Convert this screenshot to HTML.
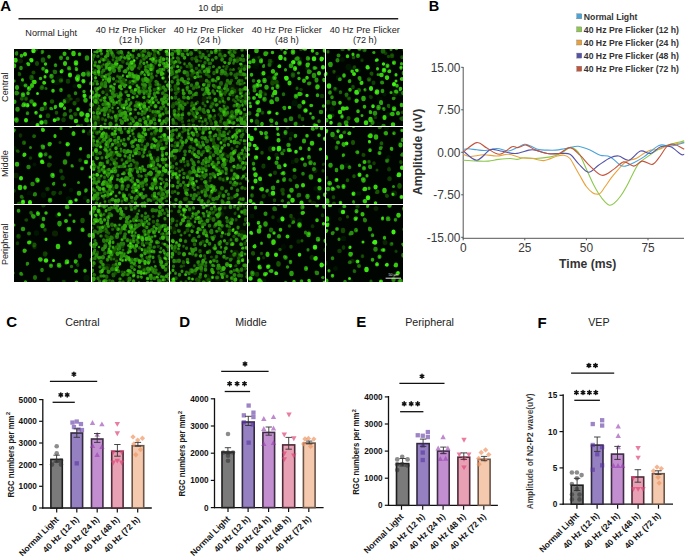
<!DOCTYPE html>
<html><head><meta charset="utf-8"><style>
html,body{margin:0;padding:0;background:#fff;width:685px;height:557px;overflow:hidden}
svg{display:block}
</style></head><body><svg width="685" height="557" viewBox="0 0 685 557"><defs><filter id="blur" x="-5%" y="-5%" width="110%" height="110%"><feGaussianBlur stdDeviation="0.65"/></filter><clipPath id="clip1"><rect x="14" y="49" width="77" height="77"/></clipPath><clipPath id="clip2"><rect x="92" y="49" width="77" height="77"/></clipPath><clipPath id="clip3"><rect x="170" y="49" width="77" height="77"/></clipPath><clipPath id="clip4"><rect x="248" y="49" width="77" height="77"/></clipPath><clipPath id="clip5"><rect x="326" y="49" width="77" height="77"/></clipPath><clipPath id="clip6"><rect x="14" y="127" width="77" height="77"/></clipPath><clipPath id="clip7"><rect x="92" y="127" width="77" height="77"/></clipPath><clipPath id="clip8"><rect x="170" y="127" width="77" height="77"/></clipPath><clipPath id="clip9"><rect x="248" y="127" width="77" height="77"/></clipPath><clipPath id="clip10"><rect x="326" y="127" width="77" height="77"/></clipPath><clipPath id="clip11"><rect x="14" y="205" width="77" height="77"/></clipPath><clipPath id="clip12"><rect x="92" y="205" width="77" height="77"/></clipPath><clipPath id="clip13"><rect x="170" y="205" width="77" height="77"/></clipPath><clipPath id="clip14"><rect x="248" y="205" width="77" height="77"/></clipPath><clipPath id="clip15"><rect x="326" y="205" width="77" height="77"/></clipPath></defs><rect x="13" y="48" width="391" height="235" fill="#fff"/><rect x="14" y="49" width="77" height="77" fill="#010501"/><g clip-path="url(#clip1)" filter="url(#blur)"><g transform="scale(.5)" fill="none" stroke-linecap="round"><path stroke="#030c00" stroke-width="9" d="M179 193h0"/><path stroke="#030c00" stroke-width="10" d="M51 131h0M139 148h0"/><path stroke="#030c00" stroke-width="11" d="M65 247h0M116 155h0"/><path stroke="#061801" stroke-width="8" d="M149 172h0"/><path stroke="#061801" stroke-width="9" d="M156 199h0M91 135h0M118 158h0"/><path stroke="#061801" stroke-width="10" d="M121 156h0"/><path stroke="#061801" stroke-width="11" d="M116 164h0M113 165h0M45 168h0"/><path stroke="#092402" stroke-width="9" d="M175 144h0M155 200h0"/><path stroke="#092402" stroke-width="10" d="M41 122h0"/><path stroke="#092402" stroke-width="12" d="M134 201h0"/><path stroke="#0c3003" stroke-width="5" d="M143 198h0"/><path stroke="#0c3003" stroke-width="6" d="M176 254h0"/><path stroke="#0c3003" stroke-width="9" d="M178 252h0"/><path stroke="#0f3c04" stroke-width="5" d="M163 254h0"/><path stroke="#0f3c04" stroke-width="6" d="M91 213h0M70 98h0"/><path stroke="#0f3c04" stroke-width="7" d="M141 198h0"/><path stroke="#0f3c04" stroke-width="9" d="M136 162v1M127 239v1M90 215v1M72 97v1"/><path stroke="#124805" stroke-width="5" d="M42 198h0M38 146h0M149 227h0"/><path stroke="#124805" stroke-width="7" d="M163 251v2"/><path stroke="#124805" stroke-width="8" d="M138 192h0M74 126v2M151 228v1M67 145h0M52 197v1"/><path stroke="#124805" stroke-width="9" d="M96 231v1"/><path stroke="#155406" stroke-width="5" d="M150 208h0"/><path stroke="#155406" stroke-width="6" d="M64 157h0M108 142h0"/><path stroke="#155406" stroke-width="7" d="M44 196v2M39 148v1M113 225v1"/><path stroke="#155406" stroke-width="8" d="M149 206v1"/><path stroke="#155406" stroke-width="9" d="M63 154v2M122 161h0M104 203h0"/><path stroke="#186007" stroke-width="4" d="M91 176h0"/><path stroke="#186007" stroke-width="5" d="M140 223h0"/><path stroke="#186007" stroke-width="6" d="M92 177h0M82 176h0"/><path stroke="#186007" stroke-width="7" d="M141 221h0"/><path stroke="#186007" stroke-width="8" d="M84 174v2"/><path stroke="#186007" stroke-width="9" d="M86 119v2"/><path stroke="#1c6c08" stroke-width="5" d="M34 105h0M26 162h0"/><path stroke="#1c6c08" stroke-width="6" d="M128 230h0M92 246h0M144 236h0"/><path stroke="#1c6c08" stroke-width="8" d="M130 228v1M91 243v1"/><path stroke="#1c6c08" stroke-width="9" d="M110 144h0"/><path stroke="#1f7809" stroke-width="5" d="M84 106h0M180 222h0M181 168h0"/><path stroke="#1f7809" stroke-width="6" d="M183 207h0M82 219h0"/><path stroke="#22840a" stroke-width="5" d="M152 136h0M122 118h0M180 195h0"/><path stroke="#22840a" stroke-width="6" d="M36 186h0M158 255h0"/><path stroke="#22840a" stroke-width="7" d="M85 103v1M55 226v1M33 106v2M151 186v1M182 166v1M28 162h0"/><path stroke="#22840a" stroke-width="8" d="M181 220v1M33 185v2M142 233v2M122 115v1"/><path stroke="#22840a" stroke-width="9" d="M183 209v1M177 147v2M84 218h0M63 203h0M156 253v1"/><path stroke="#25900b" stroke-width="5" d="M140 138h0M128 201h0M52 170h0"/><path stroke="#25900b" stroke-width="7" d="M122 179v2M111 130v1M42 135v2M129 202v2M182 193v1"/><path stroke="#25900b" stroke-width="8" d="M138 136v1M116 238h0"/><path stroke="#25900b" stroke-width="9" d="M174 115v2M103 152v1M35 218v1"/><path stroke="#289c0c" stroke-width="5" d="M104 218h0"/><path stroke="#289c0c" stroke-width="6" d="M175 242h0"/><path stroke="#289c0c" stroke-width="7" d="M86 137v1M165 149h0M98 113v1M102 217h0M135 116v1"/><path stroke="#289c0c" stroke-width="8" d="M29 203v1M51 171h0"/><path stroke="#289c0c" stroke-width="9" d="M33 239v2M156 153h0"/><path stroke="#2ba80d" stroke-width="4" d="M46 161h0M129 215h0"/><path stroke="#2ba80d" stroke-width="6" d="M31 239h0M45 159v1M66 163h0"/><path stroke="#2ba80d" stroke-width="7" d="M168 183h0M46 211h0M153 138v1"/><path stroke="#2ba80d" stroke-width="8" d="M34 174v2"/><path stroke="#2ba80d" stroke-width="9" d="M171 200v1M46 189v1"/><path stroke="#2eb40e" stroke-width="6" d="M166 228h0M124 141h0M60 177h0"/><path stroke="#2eb40e" stroke-width="7" d="M111 213v1M159 108v1M81 157h0M43 111v1"/><path stroke="#2eb40e" stroke-width="8" d="M129 107v1M58 176v2"/><path stroke="#2eb40e" stroke-width="9" d="M48 209v1M167 148v1M28 131v1"/><path stroke="#31c00f" stroke-width="5" d="M110 216h0"/><path stroke="#31c00f" stroke-width="6" d="M129 216v1"/><path stroke="#31c00f" stroke-width="7" d="M57 128v1M56 186v1M72 225v1M153 156h0M183 182h0"/><path stroke="#31c00f" stroke-width="8" d="M64 170v2M159 172v1"/><path stroke="#31c00f" stroke-width="9" d="M173 239v1"/><path stroke="#35cc10" stroke-width="5" d="M55 127h0"/><path stroke="#35cc10" stroke-width="6" d="M166 161h0M157 171h0"/><path stroke="#35cc10" stroke-width="7" d="M156 218v1M106 162v1M106 181v1M91 128h0"/><path stroke="#35cc10" stroke-width="8" d="M123 143h0M167 162v1M130 126v2M55 210v1"/><path stroke="#35cc10" stroke-width="9" d="M155 157v2M152 125v2M163 227v2M31 120v1M147 106v2"/><path stroke="#38d811" stroke-width="5" d="M111 240h0M90 166h0M61 119h0"/><path stroke="#38d811" stroke-width="6" d="M75 187h0M125 209h0M90 153v1M139 96v1"/><path stroke="#38d811" stroke-width="7" d="M90 207v1M88 165v1M81 232v1"/><path stroke="#38d811" stroke-width="8" d="M50 108v1M75 250v1M169 191v1M93 142v1M140 149v2"/><path stroke="#38d811" stroke-width="9" d="M152 242h0M184 240v1M69 164h0M69 209h0"/><path stroke="#3be412" stroke-width="7" d="M109 240v1"/><path stroke="#3be412" stroke-width="8" d="M52 240v1M63 120v1"/><path stroke="#3be412" stroke-width="9" d="M175 230v1M122 209v2M83 245h0M67 101v1"/><path stroke="#0f3c04" stroke-width="4" d="M178 251h0"/><path stroke="#124805" stroke-width="3" d="M141 197h0"/><path stroke="#155406" stroke-width="4" d="M72 98h0"/><path stroke="#186007" stroke-width="3" d="M138 192h0M151 229h0"/><path stroke="#186007" stroke-width="4" d="M52 198h0"/><path stroke="#1c6c08" stroke-width="3" d="M40 148h0"/><path stroke="#1c6c08" stroke-width="4" d="M64 154h0"/><path stroke="#1f7809" stroke-width="3" d="M93 177h0"/><path stroke="#1f7809" stroke-width="4" d="M123 161h0M84 175h0"/><path stroke="#2ba80d" stroke-width="3" d="M54 227h0M182 166h0M122 115h0"/><path stroke="#2ba80d" stroke-width="4" d="M182 209h0M177 148h0"/><path stroke="#2eb40e" stroke-width="3" d="M85 104h0M111 129h0M129 203h0M27 162h0"/><path stroke="#2eb40e" stroke-width="4" d="M102 151h0M117 238h0"/><path stroke="#31c00f" stroke-width="3" d="M123 179h0"/><path stroke="#31c00f" stroke-width="4" d="M138 137h0"/><path stroke="#35cc10" stroke-width="3" d="M50 171h0"/><path stroke="#35cc10" stroke-width="4" d="M33 239h0"/><path stroke="#38d811" stroke-width="3" d="M153 139h0"/><path stroke="#38d811" stroke-width="4" d="M46 189h0"/><path stroke="#3be412" stroke-width="3" d="M44 160h0M110 214h0M159 108h0"/><path stroke="#3ef013" stroke-width="4" d="M49 210h0M57 176h0"/><path stroke="#41fc14" stroke-width="3" d="M108 239h0M71 225h0M75 187h0M81 233h0M169 192h0M64 121h0"/><path stroke="#41fc14" stroke-width="4" d="M155 158h0M152 127h0M75 251h0M122 144h0M167 162h0M94 142h0M56 211h0M184 240h0M66 103h0M68 210h0M139 149h0"/></g></g><rect x="92" y="49" width="77" height="77" fill="#020a02"/><g clip-path="url(#clip2)" filter="url(#blur)"><g transform="scale(.5)" fill="none" stroke-linecap="round"><path stroke="#071801" stroke-width="10" d="M225 196h0"/><path stroke="#071801" stroke-width="11" d="M310 225h0M213 136h0M220 180h0"/><path stroke="#071801" stroke-width="12" d="M293 200h0M225 98h0M297 173h0M272 163h0"/><path stroke="#071801" stroke-width="13" d="M264 223h0M300 136h0M331 159h0M277 184h0M286 160h0M232 126h0"/><path stroke="#071801" stroke-width="14" d="M329 184h0"/><path stroke="#0a2402" stroke-width="11" d="M215 181h0M195 244h0M190 215h0M265 153h0M263 166h0"/><path stroke="#0a2402" stroke-width="12" d="M327 146h0M246 212h0M301 144h0M253 166h0"/><path stroke="#0a2402" stroke-width="13" d="M338 240h0M315 181h0M190 242h0M265 126h0"/><path stroke="#0a2402" stroke-width="14" d="M320 120h0M304 233h0"/><path stroke="#123c04" stroke-width="4" d="M257 119h0M265 168h0"/><path stroke="#123c04" stroke-width="5" d="M304 138h0M244 122h0M217 223h0M248 166h0"/><path stroke="#123c04" stroke-width="6" d="M282 131h0"/><path stroke="#123c04" stroke-width="7" d="M218 224v1"/><path stroke="#154805" stroke-width="4" d="M260 249h0M234 99h0M308 132h0M184 213h0"/><path stroke="#154805" stroke-width="5" d="M292 186h0M246 158h0M309 108h0M213 119h0M188 204v1M211 215h0M303 160h0M297 254h0M283 113h0M197 240h0M192 235h0"/><path stroke="#154805" stroke-width="6" d="M258 248h0M256 120v1M233 97v1M260 235h0M182 213v1M200 215v1M183 152v1M254 198v1"/><path stroke="#154805" stroke-width="7" d="M305 139v1M246 123v1M254 203h0M215 120h0M205 197v1M249 164h0M285 114h0M311 230v1M197 237v2M191 233h0"/><path stroke="#154805" stroke-width="8" d="M258 233h0M280 132v1M205 238h0"/><path stroke="#195406" stroke-width="4" d="M312 115h0M338 192h0M272 236h0M212 189h0M298 239h0M204 134h0M299 220h0M226 121h0M185 152h0M325 124h0"/><path stroke="#195406" stroke-width="5" d="M311 199h0M282 181h0M240 221h0M225 222h0M245 228h0M254 183h0M321 178h0M302 152h0M220 147h0M306 131v1M243 199h0"/><path stroke="#195406" stroke-width="6" d="M189 238h0M233 162v1M339 191v1M191 235h0M245 109v1M235 152v1M185 130v1M203 132v1M296 98h0M320 170v1M322 175v2M266 167h0M205 168h0"/><path stroke="#195406" stroke-width="7" d="M332 222h0M294 187h0M247 159v1M309 110v2M284 105v1M309 179v1M211 213h0M203 118v1M301 160v2"/><path stroke="#195406" stroke-width="8" d="M240 192v1M242 222v1M291 251v1M299 252h0"/><path stroke="#1c6007" stroke-width="4" d="M259 166h0M314 166h0M194 113h0M271 150h0M279 138h0M190 126h0M212 239h0M287 176h0M184 108h0M185 249h0M237 163h0M278 185h0"/><path stroke="#1c6007" stroke-width="5" d="M302 107v1M234 131h0M235 105h0M206 152h0M210 168h0M181 124h0M235 116h0M313 151v1M299 247h0M199 223h0M290 172h0M198 212h0M292 184h0M278 205h0M190 148h0M226 108h0"/><path stroke="#1c6007" stroke-width="6" d="M260 163v1M310 115v1M277 136h0M271 234v1M209 226h0M318 108h0M214 189v1M296 237v2M290 102v1M336 118v1M273 212h0M266 114v1M286 175v1M220 220v1M300 220v1M273 204v1M238 162v1M289 226v1M226 119h0M323 125h0M279 186v1M257 222h0"/><path stroke="#1c6007" stroke-width="7" d="M233 189v1M240 207v1M311 126h0M233 116h0M312 169h0M207 171v1M300 169v2M222 141v1M188 199h0M195 220v2M299 249h0M198 224h0M290 174v1M221 144v1M192 146v2M241 198h0M195 205v1M226 110v1"/><path stroke="#1c6007" stroke-width="8" d="M189 236h0M192 237h0M298 163v1M288 116v2M296 202v1M204 166v1M243 166v1"/><path stroke="#206c08" stroke-width="4" d="M335 98h0M188 112h0M189 141h0M333 246h0M282 98h0M212 152h0M181 158h0M305 122h0M219 157h0M293 116h0M284 211h0M269 219h0M334 197h0M258 127h0M239 186h0M194 165h0M227 210h0M303 208h0M195 197h0M204 170h0M270 210h0M232 122h0M293 134h0"/><path stroke="#206c08" stroke-width="5" d="M282 121h0M207 207h0M266 111h0M331 163v1M223 129h0M267 151h0M340 175h0M311 97v1M247 168h0M334 118h0M256 215h0M183 118h0M324 218h0M216 149h0M333 135h0M196 220h0M217 128h0M286 160h0M226 209h0M225 193h0M196 196v1M308 103h0M191 250h0M231 124h0"/><path stroke="#206c08" stroke-width="6" d="M184 137v1M196 112v1M187 114h0M191 141h0M273 150h0M190 162h0M280 98h0M194 186v1M183 157v1M289 214h0M299 135h0M274 116h0M226 224h0M232 241v1M191 124v1M204 144v1M241 185v1M332 239h0M211 240v1M282 147v1M215 208h0M193 197h0"/><path stroke="#206c08" stroke-width="7" d="M206 184v1M191 177h0M313 200h0M232 132v1M282 183h0M263 237v1M282 123h0M238 104v2M204 152v1M236 230v2M183 125v1M296 131v2M245 229v2M227 112v1M252 184h0M292 220v1M263 181v2M234 236h0M327 212v1M188 233h0M293 182v1M270 163v1M258 215v1M310 101v1M285 168v1"/><path stroke="#206c08" stroke-width="8" d="M286 159v1M227 182h0M222 130v1M184 119v1M322 216v1M267 132v2M304 154v1M193 198v1"/><path stroke="#247809" stroke-width="4" d="M281 209h0M327 149h0M319 223h0M282 227h0M192 183h0M284 222h0M239 200h0M196 235h0M300 175h0M256 127h0M217 230h0M205 143h0M224 237h0M301 187h0M200 200h0M260 154h0M266 241h0M267 149h0"/><path stroke="#247809" stroke-width="5" d="M315 164v1M327 185h0M301 174h0M332 246v1M229 209h0M216 211h0M315 226h0M189 110v1M239 193h0M280 127h0M233 238h0M337 226h0M266 186h0M310 240h0M322 249h0M277 178h0M207 129h0M238 142h0M313 121h0M211 224h0M290 98v1M309 190h0"/><path stroke="#247809" stroke-width="6" d="M267 125v1M332 217v1M234 121v1M203 107v1M263 132h0M217 233v1M262 205v1M284 228v1M325 186v1M239 253v1M318 177v2M220 155h0M293 113v1M285 209v1M254 127h0M287 101v1M306 135v1M259 128v1M241 240h0M194 163v1M185 196h0M335 134v1M223 235h0M224 108v1M333 225v1M269 186v1M302 209v1M184 109v1M211 154h0M184 250v1M203 168v1M242 162v1M291 133v1M210 248h0M322 115v1M266 239v1M262 247v1"/><path stroke="#247809" stroke-width="7" d="M306 223v1M297 106v1M206 209h0M265 112v1M184 253v1M211 165v1M229 206v1M280 249h0M288 236v1M239 223h0M312 163h0M243 133v1M310 247v1M232 237h0M216 106v1M337 224v1M330 190v2M267 184v1M290 224h0M218 149h0M239 141h0M210 222h0M224 194v2M277 207v1M191 248v1M185 185v1"/><path stroke="#247809" stroke-width="8" d="M240 155v1M289 215v1M239 117v1M288 182v1M339 177h0M334 238v2M280 240v1M212 206v2M308 238v1M274 210h0M218 125v1M221 249v1M207 141h0"/><path stroke="#27840a" stroke-width="4" d="M235 217h0M312 194h0M336 171h0M233 123h0M191 247h0M265 243h0M214 102h0M288 110h0M328 140h0M242 179h0M277 214h0M230 168h0M248 237h0M184 197h0M334 190h0M213 135h0M208 152h0M251 242h0M241 113h0M223 136h0M222 106h0M185 169h0"/><path stroke="#27840a" stroke-width="5" d="M224 185v1M195 95h0M242 245h0M297 147h0M331 195h0M190 148h0M287 171h0M282 250h0M329 177h0M303 147v1M240 119h0M225 215v1M227 188h0M201 173h0M335 199h0M338 106h0M219 194h0M216 229h0M252 160h0M226 133h0M250 117h0M261 207v1M202 200v1M299 112h0M208 216h0M277 109h0M290 139h0M246 214h0M218 211h0M223 200h0M317 186h0"/><path stroke="#27840a" stroke-width="6" d="M337 96v2M277 226v1M303 199v1M336 169h0M212 204h0M276 158h0M212 150h0M280 212v1M267 242v1M198 148v1M306 122v1M285 222v1M203 220v1M239 202h0M196 233v1M289 206v1M328 138v1M274 192v1M255 111h0M299 176v1M271 219h0M275 212v1M326 200h0M246 226v1M209 229v1M340 253v1M333 191v1M311 223v1M190 130v1M299 187v1M298 110v1M250 241h0M312 122v1M270 212h0M218 163v1M294 250v1M339 153v1M186 167v1M316 168v1M266 150h0"/><path stroke="#27840a" stroke-width="7" d="M218 212v1M320 139v1M327 174v1M256 137v1M339 165v2M269 131v1M225 186v1M265 152v1M200 175h0M211 171v2M228 133v1M245 168v1M243 104v1M227 204v1M287 161v1M309 187v1M219 155v2M222 201v1M229 191v1"/><path stroke="#27840a" stroke-width="8" d="M244 244v2M221 247v1M274 158v1M228 140v2M221 196h0M213 217v1M196 133h0M331 180h0M264 148v2"/><path stroke="#2b900b" stroke-width="4" d="M204 221h0M288 188h0M243 106h0M332 127h0M322 146h0M335 208h0M254 208h0M188 193h0M290 151h0"/><path stroke="#2b900b" stroke-width="5" d="M236 216h0M329 133h0M282 207h0M216 109h0M223 202h0M209 120h0M326 127h0M191 245v1M182 206v1M251 229h0M226 130h0M298 214v1M227 175h0M212 136v1M260 134h0M194 189h0M213 134h0M339 196v1M248 210h0M240 190h0M189 104h0M206 159v1"/><path stroke="#2b900b" stroke-width="6" d="M310 193v1M187 225v1M318 223v1M194 168h0M189 145v1M255 239v1M193 181h0M315 223v1M215 101v1M286 110v1M288 186h0M229 168h0M184 144v1M197 217h0M234 204v1M242 103v1M227 157v1M334 125v1M247 236h0M258 199h0M248 143h0M253 208h0M221 197v1M334 108v1M212 131h0M259 152h0M273 98h0M324 139v1M291 156h0"/><path stroke="#2b900b" stroke-width="7" d="M329 195v2M225 200v2M212 156v2M207 119v1M338 141v1M328 127v1M237 193v1M233 250v2M221 100v1M241 229v2M238 136v1M300 181v1M255 216v1M298 192v1M259 132h0M328 242v1M208 218v2M278 110v1M292 140v2M218 208v1M315 185h0"/><path stroke="#2b900b" stroke-width="8" d="M215 110v1M290 170h0M316 143v1M273 253v1M320 230v2M337 108v1M324 199v1M226 132h0M295 143v1M324 247h0M272 153v2M277 176h0M245 212v1"/><path stroke="#2e9c0c" stroke-width="4" d="M287 127h0M196 168h0M212 115h0M250 169h0M297 233h0M233 254h0M196 103h0M258 145h0M214 136h0M286 195h0M315 103h0M335 108h0M245 153h0M191 104h0"/><path stroke="#2e9c0c" stroke-width="5" d="M192 205h0M275 249h0M251 237h0M315 142h0M252 170h0M330 204h0M182 185h0M232 252v1M294 125h0M198 133h0M221 181h0M246 151h0M243 114v1M268 155h0M293 163h0"/><path stroke="#2e9c0c" stroke-width="6" d="M294 218v1M216 160h0M196 96v1M326 147h0M185 209v1M288 126v1M211 113v1M323 98h0M274 171h0M301 118h0M249 172v1M209 201h0M249 115h0M316 105h0M240 132v1M225 135v1M334 117v1M224 105v1M317 205h0"/><path stroke="#2e9c0c" stroke-width="7" d="M326 228h0M331 131v2M297 148v1M251 234v1M198 191h0M332 203v1M278 182v2M184 184v1M326 206v1M252 230v1M320 121v2M261 219h0M268 162h0M227 176v1M270 250v1M198 135v2M266 195h0M250 210h0M242 189v1M244 227v1M258 116v1"/><path stroke="#2e9c0c" stroke-width="8" d="M302 243v2M311 212v1M264 136v2M256 113v2M222 173h0M195 226h0M251 142v1M214 129v1M295 160v2"/><path stroke="#32a80d" stroke-width="4" d="M231 129h0M233 129h0M338 122h0M253 202h0M294 124h0"/><path stroke="#32a80d" stroke-width="5" d="M326 118h0M199 226v1M252 203v1M305 119h0M243 178h0M327 204h0M265 162h0M262 124h0M251 228h0M287 214h0M257 105v1M277 152h0M187 194h0M259 211h0"/><path stroke="#32a80d" stroke-width="6" d="M284 144v1M210 195v1M340 121v1M194 103v1M259 146v2M288 194v1M323 144v1M199 123v1M209 153h0M337 208v1M306 98v1M316 176v2"/><path stroke="#32a80d" stroke-width="7" d="M231 232v1M327 118v1M336 171v1M302 130v1"/><path stroke="#32a80d" stroke-width="8" d="M291 244v1M250 225h0M292 158v1"/><path stroke="#36b40e" stroke-width="4" d="M286 144h0M298 205h0M317 175h0"/><path stroke="#36b40e" stroke-width="5" d="M268 99h0M208 196h0M334 170h0M255 190h0M261 109v1M323 150h0M289 149h0"/><path stroke="#36b40e" stroke-width="6" d="M234 128h0M299 203v1M216 207h0M196 177v1M255 152v1M191 155v1"/><path stroke="#36b40e" stroke-width="7" d="M267 101h0M319 130h0M257 191h0M202 253v1M192 190v2M289 212v1M306 204v1M319 240v1M323 147v1M268 152v1M271 179v1"/><path stroke="#36b40e" stroke-width="8" d="M191 202v1M218 159v2M240 173v1M274 247v1M320 98h0M306 118v1M201 100v1M276 154v2"/><path stroke="#39c00f" stroke-width="4" d="M260 229h0"/><path stroke="#39c00f" stroke-width="5" d="M335 129h0"/><path stroke="#39c00f" stroke-width="6" d="M231 127v1M296 233v1M305 196v1M281 217h0M261 227h0"/><path stroke="#39c00f" stroke-width="7" d="M326 156h0M302 138v1M337 131v1M278 209v1"/><path stroke="#39c00f" stroke-width="8" d="M219 137v1M333 103h0M263 125v1"/><path stroke="#3dcc10" stroke-width="4" d="M248 215h0"/><path stroke="#3dcc10" stroke-width="6" d="M248 216h0M268 121h0"/><path stroke="#3dcc10" stroke-width="7" d="M260 174v1M197 143v1"/><path stroke="#1c6007" stroke-width="3" d="M205 199h0M182 214h0M254 198h0"/><path stroke="#1c6007" stroke-width="4" d="M206 238h0"/><path stroke="#206c08" stroke-width="3" d="M203 132h0M321 177h0M203 119h0"/><path stroke="#247809" stroke-width="2" d="M302 107h0M198 211h0"/><path stroke="#247809" stroke-width="3" d="M239 207h0M311 126h0M272 234h0M241 223h0M235 153h0M296 238h0M291 103h0M296 203h0M266 114h0M189 200h0M197 225h0M221 220h0M324 124h0M280 187h0"/><path stroke="#247809" stroke-width="4" d="M189 235h0M288 118h0M204 167h0"/><path stroke="#27840a" stroke-width="2" d="M281 99h0M312 151h0M197 196h0"/><path stroke="#27840a" stroke-width="3" d="M261 165h0M182 157h0M233 116h0M298 135h0M297 164h0M296 131h0M211 240h0M336 119h0M282 147h0M290 174h0M303 154h0M222 146h0M237 163h0M288 227h0M241 198h0M196 205h0"/><path stroke="#2b900b" stroke-width="2" d="M331 163h0M232 124h0"/><path stroke="#2b900b" stroke-width="3" d="M184 138h0M197 112h0M282 124h0M194 186h0M232 241h0M190 125h0M286 102h0M252 185h0M293 220h0M263 181h0M241 186h0M322 216h0M328 213h0M267 132h0M293 183h0M224 195h0M191 248h0M285 169h0"/><path stroke="#2b900b" stroke-width="4" d="M274 211h0"/><path stroke="#2e9c0c" stroke-width="2" d="M300 173h0M331 245h0M290 99h0"/><path stroke="#2e9c0c" stroke-width="3" d="M305 224h0M204 107h0M217 233h0M262 206h0M230 206h0M239 254h0M318 179h0M285 209h0M243 133h0M259 129h0M232 237h0M217 106h0M307 239h0M277 207h0M221 250h0M291 134h0M209 247h0M321 116h0M266 240h0M261 246h0"/><path stroke="#2e9c0c" stroke-width="4" d="M213 208h0"/><path stroke="#32a80d" stroke-width="2" d="M197 148h0M262 208h0"/><path stroke="#32a80d" stroke-width="3" d="M276 226h0M302 200h0M183 254h0M266 243h0M217 212h0M285 223h0M269 132h0M298 176h0M270 219h0M221 197h0M210 231h0M228 133h0M280 241h0M227 205h0M219 127h0M312 122h0M316 168h0"/><path stroke="#32a80d" stroke-width="4" d="M195 133h0"/><path stroke="#36b40e" stroke-width="2" d="M225 216h0M217 229h0"/><path stroke="#36b40e" stroke-width="3" d="M335 170h0M317 224h0M280 213h0M337 141h0M255 239h0M257 137h0M315 223h0M274 253h0M238 201h0M234 249h0M275 193h0M201 175h0M184 144h0M337 108h0M238 136h0M254 216h0M258 198h0M190 131h0M327 242h0M250 241h0M294 250h0M218 209h0M223 202h0"/><path stroke="#36b40e" stroke-width="4" d="M275 158h0M265 149h0"/><path stroke="#39c00f" stroke-width="2" d="M236 215h0M283 208h0M213 134h0M207 159h0"/><path stroke="#39c00f" stroke-width="3" d="M294 218h0M207 120h0M329 127h0M190 145h0M215 103h0M274 172h0M229 169h0M233 205h0M333 125h0M295 144h0M298 193h0M277 175h0M260 151h0M314 185h0M325 138h0"/><path stroke="#39c00f" stroke-width="4" d="M320 231h0"/><path stroke="#3dcc10" stroke-width="2" d="M301 118h0M221 182h0M245 151h0"/><path stroke="#3dcc10" stroke-width="3" d="M332 133h0M327 147h0M297 150h0M198 191h0M222 173h0M267 163h0M317 104h0M266 195h0M258 117h0"/><path stroke="#3dcc10" stroke-width="4" d="M311 213h0"/><path stroke="#40d811" stroke-width="2" d="M200 226h0M244 178h0"/><path stroke="#40d811" stroke-width="3" d="M209 153h0M336 208h0"/><path stroke="#44e412" stroke-width="3" d="M235 127h0M340 121h0M317 177h0"/><path stroke="#44e412" stroke-width="4" d="M321 99h0"/><path stroke="#48f013" stroke-width="3" d="M307 118h0M264 127h0M201 100h0M306 205h0M319 241h0M261 227h0M254 153h0M270 180h0"/><path stroke="#4bfc14" stroke-width="3" d="M248 216h0M296 233h0M334 103h0M260 175h0M325 156h0M279 210h0M269 121h0"/></g></g><rect x="170" y="49" width="77" height="77" fill="#020a02"/><g clip-path="url(#clip3)" filter="url(#blur)"><g transform="scale(.5)" fill="none" stroke-linecap="round"><path stroke="#071801" stroke-width="10" d="M484 146h0M407 234h0"/><path stroke="#071801" stroke-width="11" d="M458 229h0M403 159h0"/><path stroke="#071801" stroke-width="12" d="M353 174h0M412 227h0M472 180h0"/><path stroke="#071801" stroke-width="13" d="M444 111h0M380 156h0M401 99h0M464 174h0"/><path stroke="#071801" stroke-width="14" d="M366 104h0"/><path stroke="#0a2402" stroke-width="10" d="M455 166h0M409 145h0M354 125h0"/><path stroke="#0a2402" stroke-width="11" d="M451 229h0M459 180h0"/><path stroke="#0a2402" stroke-width="12" d="M440 198h0M494 208h0"/><path stroke="#0a2402" stroke-width="13" d="M443 222h0M439 99h0M426 207h0M410 198h0"/><path stroke="#0a2402" stroke-width="14" d="M452 217h0M444 250h0"/><path stroke="#0e3003" stroke-width="4" d="M380 133h0"/><path stroke="#0e3003" stroke-width="5" d="M385 153h0"/><path stroke="#123c04" stroke-width="4" d="M490 191h0M438 228h0M365 242h0"/><path stroke="#123c04" stroke-width="5" d="M354 96h0M437 229h0M485 131h0M449 187h0M465 180h0M424 212h0"/><path stroke="#123c04" stroke-width="6" d="M466 189v1M378 133v1M476 250v1"/><path stroke="#123c04" stroke-width="7" d="M353 97v1M378 249v1M423 209v1"/><path stroke="#123c04" stroke-width="8" d="M397 101h0M476 117v1M353 149v2M384 150h0"/><path stroke="#154805" stroke-width="4" d="M490 137h0M400 122h0M438 110h0M441 244h0M405 249h0M489 132h0M393 190h0M365 219h0"/><path stroke="#154805" stroke-width="5" d="M494 96h0M427 234h0M497 115h0M453 135h0M415 102v1M347 142h0M463 240h0M402 145h0M398 236h0M479 117v1M355 181h0M384 240h0M453 183h0"/><path stroke="#154805" stroke-width="6" d="M492 136v1M401 122h0M482 226v1M488 191v1M393 114h0M461 139v1M353 247v1M357 223v1M404 137v1M491 205v1M395 204v1M431 175h0"/><path stroke="#154805" stroke-width="7" d="M428 236v1M423 247v1M489 229h0M402 220h0M421 242h0M495 119v1M483 131v1M460 240h0M447 186h0M383 135v1M493 150v1"/><path stroke="#154805" stroke-width="8" d="M347 208v1M465 178h0M399 233v1M351 179h0M430 173h0"/><path stroke="#195406" stroke-width="4" d="M476 168h0M497 215h0M350 234h0M341 124h0M443 115h0M483 195h0M455 252h0M365 250h0M347 227h0M376 242h0M461 99h0"/><path stroke="#195406" stroke-width="5" d="M385 116h0M392 136h0M468 105h0M346 164h0M419 154h0M395 154h0M350 186h0M416 167h0M420 240h0M481 183h0M366 226h0M455 180h0M381 142h0M394 189v1M450 189h0M355 236h0M487 235h0M375 205v1M366 219v1M392 221h0M410 98h0"/><path stroke="#195406" stroke-width="6" d="M449 204v1M477 216v1M416 230h0M345 214h0M439 110v1M441 242v1M404 250v1M478 137h0M343 124h0M491 132v1M365 243v1M456 253h0M400 112v1M390 172v1M341 128h0M485 167v1M460 237h0"/><path stroke="#195406" stroke-width="7" d="M453 228v1M384 117v1M393 137h0M452 138h0M494 97v2M469 183v1M418 152v1M394 152v1M496 112v2M454 133h0M345 141v1M463 161h0M479 221v1M467 200h0M384 206v1M454 149v1M453 178v2M442 232v1M356 182v1M469 181v2M386 240v2M451 183v2M445 197v1"/><path stroke="#195406" stroke-width="8" d="M442 181h0M346 212h0M418 165v2M392 236h0M360 237v2M486 202v1M351 172v2"/><path stroke="#1c6007" stroke-width="4" d="M471 236h0M376 145h0M418 194h0M452 231h0M491 243h0M494 178h0M384 222h0M409 170h0M479 163h0M468 112h0M424 207h0M388 230h0M447 211h0M465 140h0M469 104h0M369 129h0M391 187h0M345 99h0M483 137h0M355 123h0"/><path stroke="#1c6007" stroke-width="5" d="M478 252v1M474 197h0M441 110h0M474 166v1M430 231v1M358 198h0M412 187h0M443 165h0M392 123h0M391 100h0M495 201h0M388 143v1M493 180h0M341 173h0M345 134h0M387 175h0M462 146h0M418 138h0M452 170h0M410 168v1M476 122h0M411 238h0M361 202h0M371 99h0M453 248h0M434 139h0M495 196h0M415 150h0M483 150h0M393 119h0M385 147h0M477 163h0"/><path stroke="#1c6007" stroke-width="6" d="M374 132v1M383 211v1M484 161v1M406 206v1M357 199v1M496 213v1M488 136v1M420 195v1M450 230h0M410 211v1M443 237v1M490 241v1M394 219v1M352 234v1M418 126v1M383 194v1M444 113v1M358 212h0M492 207v1M481 194v1M405 243v1M467 113h0M414 246v1M367 250v1M467 98v1M348 226v1M393 186v1M378 241h0M343 149h0M362 135h0M387 145v1M411 96h0"/><path stroke="#1c6007" stroke-width="7" d="M470 150v1M473 195h0M365 204v2M470 105h0M428 145v2M352 187h0M351 194v2M435 252h0M347 132v1M387 177h0M419 135v1M453 168v1M394 253h0M410 125v1M370 100v1M466 235v1M413 148v1M357 236v1M488 234h0M386 226v2M391 117v1M393 222v1M474 148v1"/><path stroke="#1c6007" stroke-width="8" d="M462 108v1M343 120v1M464 224v2M442 166v2M375 149v1M353 206v1M480 147v1M474 121v1M482 184v2M492 196h0M461 234h0"/><path stroke="#206c08" stroke-width="4" d="M430 186h0M476 199h0M419 109h0M430 244h0M483 203h0M344 97h0M401 217h0M409 226h0M397 175h0M487 179h0M380 128h0M486 112h0M343 141h0"/><path stroke="#206c08" stroke-width="5" d="M485 122h0M384 107h0M439 100v1M472 95h0M422 103h0M434 253h0M363 215h0M468 234h0M415 196h0M456 227h0M433 105h0M483 138v1"/><path stroke="#206c08" stroke-width="6" d="M399 242h0M470 233v1M455 215h0M357 117v1M477 200h0M374 144v1M343 179v1M360 125h0M431 243h0M364 236v1M383 220v1M343 97v1M403 114v1M421 126v1M426 207v1M409 224v1M389 231v1M471 203h0M348 155v1M485 179h0M467 139h0M393 174v1M468 103h0M468 211v1M495 190h0M374 102h0M346 100h0M375 180h0M461 101h0M357 122v1"/><path stroke="#206c08" stroke-width="7" d="M399 142v1M440 204h0M487 119v2M344 163v1M422 213v1M390 98v1M426 183v1M382 131v1M407 221v2M405 178v1M411 240v1M359 202v1M440 108h0M355 116h0M476 251v1M493 248v2M354 153v1M407 219h0M431 105h0M383 170v1M479 161h0"/><path stroke="#206c08" stroke-width="8" d="M382 106v2M345 146v1M339 171v1M347 244v2M461 118v2M454 246h0M493 188v1M356 234h0M484 148h0M443 147h0M360 101v1"/><path stroke="#247809" stroke-width="4" d="M426 134h0M452 251h0M431 103h0M345 239h0M437 135h0M467 125h0M373 175h0M410 141h0M471 156h0M356 177h0"/><path stroke="#247809" stroke-width="5" d="M435 209h0M447 133h0M415 144h0M386 254h0M489 166h0M426 181h0M413 182h0M379 185h0M402 153h0M350 102v1M378 229h0M415 162h0M378 186h0M452 218h0M413 115h0M467 126v1M448 212v1M476 209h0M369 127v1M464 246h0"/><path stroke="#247809" stroke-width="6" d="M411 253h0M351 232h0M451 252v1M418 110v1M415 221v1M482 202v1M432 162h0M358 206v1M480 179v1M477 162v1M424 160h0M443 141h0M473 155v1M418 235v1M456 240h0M480 235v1M379 127v1M485 111v1M400 105v1M370 167h0"/><path stroke="#247809" stroke-width="7" d="M459 96v1M460 188v1M375 174v1M406 109v2M387 190h0M410 187h0M394 121v1M412 183h0M480 168h0M455 179v1M380 185v1M462 147v1M490 247v1M370 208v1M493 229v1M481 118v1M411 115v1M399 217v1M434 140h0M455 161v1M474 193v1M388 211h0M377 158h0M455 225h0M449 246v1M493 96v1"/><path stroke="#247809" stroke-width="8" d="M387 251v2M452 172v1M472 97h0M460 165v1M378 227h0M368 195h0M478 211v1M450 145v2M341 148v1M443 220v1M474 211h0M371 164v2M482 242h0"/><path stroke="#27840a" stroke-width="4" d="M467 248h0M347 116h0M457 96h0"/><path stroke="#27840a" stroke-width="5" d="M428 173h0M429 187v1M363 211h0M359 140h0M400 215v1M407 189v1M367 193h0M398 173v1M490 247h0M445 118h0M351 154h0M480 242h0M393 146h0M452 228h0"/><path stroke="#27840a" stroke-width="6" d="M427 133h0M491 206h0M468 245v1M358 217v1M362 160h0M489 138v1M430 102h0M458 104v1M382 184v1M374 177h0M489 177v1M343 143v1"/><path stroke="#27840a" stroke-width="7" d="M427 171h0M432 115v1M356 160v1M379 183h0M423 105h0M473 226v2M413 161v1M484 99v1M338 233v1M450 218h0M469 120v2M425 120h0M432 250v2M450 111h0M444 119v1M416 119v1M417 171v1M466 246h0M348 125v1M395 146v1"/><path stroke="#27840a" stroke-width="8" d="M491 203v1M495 237v1M420 232v1M349 222h0M426 160v1M465 111h0M365 215v1"/><path stroke="#2b900b" stroke-width="4" d="M485 208h0M357 133h0M434 181h0M382 186h0M448 124h0M355 143h0"/><path stroke="#2b900b" stroke-width="5" d="M366 230h0M490 149h0M369 187h0M475 238h0M481 238h0M437 155h0M392 186h0M417 138h0M357 177v1M446 202v1M346 107h0M465 186h0"/><path stroke="#2b900b" stroke-width="6" d="M481 186v1M489 218v1M361 210v2M440 217v1M392 207h0M366 180v1M375 108h0M391 187v2M397 153h0M346 239v1M439 135h0"/><path stroke="#2b900b" stroke-width="7" d="M433 210h0M475 240h0M457 197v1M414 138v1"/><path stroke="#2b900b" stroke-width="8" d="M394 167v1M488 149h0M350 230h0M365 109v1M495 251v1M364 158v1M464 232v1M369 144v1M356 167h0M445 142v1M344 108v1"/><path stroke="#2e9c0c" stroke-width="4" d="M378 166h0M460 126h0M396 226h0M357 231h0M479 143h0M352 124h0"/><path stroke="#2e9c0c" stroke-width="5" d="M378 197h0M482 247h0M485 210v1M338 212v1M408 133h0M417 180h0M376 110h0M435 182h0M346 115v1M386 217h0M484 192h0M417 221h0M398 130v1"/><path stroke="#2e9c0c" stroke-width="6" d="M376 165v1M458 126v1M394 226v1M492 156h0M449 177h0M357 229v1M367 162v1M481 142v1M412 176v1M450 125h0M409 142v1M455 95v1M434 143v1M338 140v1M427 220v1"/><path stroke="#2e9c0c" stroke-width="7" d="M364 230h0M367 186v1M358 141v1M343 136h0M432 245v1M384 141v1M369 115v1"/><path stroke="#2e9c0c" stroke-width="8" d="M417 142v1M484 245v1M406 132v1M431 199v1M436 156v1M357 106v1M448 223v2M481 225v1M488 245v2M442 189v1M464 184h0M449 227v2"/><path stroke="#32a80d" stroke-width="4" d="M474 210h0M413 175h0M414 176h0M480 128h0M429 222h0M408 171h0"/><path stroke="#32a80d" stroke-width="5" d="M415 203v1M392 233v1"/><path stroke="#32a80d" stroke-width="6" d="M440 184v1M355 133h0M475 223h0M351 123h0M353 143v1M417 223v1M407 169v1"/><path stroke="#32a80d" stroke-width="7" d="M376 195v1M483 238v2M388 217h0"/><path stroke="#32a80d" stroke-width="8" d="M491 176v1M459 244h0M418 187h0M476 221v1M438 175h0"/><path stroke="#36b40e" stroke-width="4" d="M343 194h0"/><path stroke="#36b40e" stroke-width="5" d="M415 177v1M402 236h0"/><path stroke="#36b40e" stroke-width="6" d="M474 208h0M344 196h0"/><path stroke="#36b40e" stroke-width="7" d="M375 97v1M390 155h0M432 101h0M392 99h0"/><path stroke="#36b40e" stroke-width="8" d="M356 101v1M415 181v1M473 222v1"/><path stroke="#39c00f" stroke-width="6" d="M482 128h0"/><path stroke="#154805" stroke-width="3" d="M378 134h0"/><path stroke="#195406" stroke-width="2" d="M437 230h0"/><path stroke="#195406" stroke-width="3" d="M484 132h0M352 150h0M476 250h0"/><path stroke="#1c6007" stroke-width="2" d="M403 146h0M479 119h0"/><path stroke="#1c6007" stroke-width="3" d="M347 209h0M392 113h0M462 139h0M447 187h0M464 177h0M350 179h0M395 203h0"/><path stroke="#1c6007" stroke-width="4" d="M431 173h0"/><path stroke="#206c08" stroke-width="2" d="M366 227h0M394 189h0"/><path stroke="#206c08" stroke-width="3" d="M452 138h0M441 241h0M384 206h0M469 183h0M341 129h0"/><path stroke="#206c08" stroke-width="4" d="M418 165h0"/><path stroke="#247809" stroke-width="2" d="M442 111h0M431 232h0"/><path stroke="#247809" stroke-width="3" d="M383 211h0M470 105h0M442 166h0M450 230h0M354 207h0M352 234h0M418 128h0M388 176h0M410 126h0M361 136h0M452 184h0M388 146h0M411 95h0"/><path stroke="#27840a" stroke-width="2" d="M439 101h0"/><path stroke="#27840a" stroke-width="3" d="M470 233h0M356 199h0M383 107h0M436 251h0M358 212h0M403 116h0M405 243h0M411 241h0M455 247h0M467 138h0M394 186h0M379 241h0M479 162h0"/><path stroke="#2b900b" stroke-width="2" d="M369 128h0"/><path stroke="#2b900b" stroke-width="3" d="M439 203h0M344 164h0M391 98h0M361 125h0M432 243h0M435 140h0M469 210h0M431 105h0"/><path stroke="#2b900b" stroke-width="4" d="M494 188h0"/><path stroke="#2e9c0c" stroke-width="2" d="M489 166h0M448 212h0"/><path stroke="#2e9c0c" stroke-width="3" d="M459 188h0M413 183h0M481 202h0M431 161h0M358 205h0M492 231h0M411 116h0M454 226h0M456 240h0M481 236h0M473 212h0M483 242h0"/><path stroke="#2e9c0c" stroke-width="4" d="M378 227h0M340 147h0"/><path stroke="#32a80d" stroke-width="3" d="M374 175h0M468 246h0M379 182h0M424 106h0M451 218h0M469 120h0M458 105h0M415 120h0M474 193h0M467 247h0M349 126h0"/><path stroke="#32a80d" stroke-width="4" d="M491 203h0M420 232h0M426 160h0"/><path stroke="#36b40e" stroke-width="2" d="M430 188h0M350 155h0M446 202h0"/><path stroke="#36b40e" stroke-width="3" d="M392 208h0M366 181h0M495 252h0M395 145h0"/><path stroke="#39c00f" stroke-width="3" d="M481 187h0M416 142h0M394 228h0M463 233h0M357 107h0M450 126h0M339 141h0"/><path stroke="#39c00f" stroke-width="4" d="M349 229h0M482 226h0"/><path stroke="#3dcc10" stroke-width="2" d="M435 182h0M347 116h0"/><path stroke="#3dcc10" stroke-width="3" d="M376 167h0M455 96h0M448 228h0"/><path stroke="#3dcc10" stroke-width="4" d="M448 224h0M442 189h0"/><path stroke="#40d811" stroke-width="2" d="M406 170h0"/><path stroke="#40d811" stroke-width="3" d="M406 133h0M356 134h0M459 244h0M437 158h0"/><path stroke="#40d811" stroke-width="4" d="M477 222h0"/><path stroke="#44e412" stroke-width="3" d="M376 98h0"/></g></g><rect x="248" y="49" width="77" height="77" fill="#010501"/><g clip-path="url(#clip4)" filter="url(#blur)"><g transform="scale(.5)" fill="none" stroke-linecap="round"><path stroke="#030c00" stroke-width="9" d="M525 197h0"/><path stroke="#030c00" stroke-width="11" d="M512 133h0"/><path stroke="#061801" stroke-width="8" d="M538 155h0M496 155h0"/><path stroke="#061801" stroke-width="9" d="M496 114h0M514 233h0"/><path stroke="#061801" stroke-width="10" d="M599 118h0"/><path stroke="#061801" stroke-width="11" d="M542 124h0M597 253h0M513 127h0"/><path stroke="#061801" stroke-width="12" d="M589 206h0M512 118h0"/><path stroke="#092402" stroke-width="9" d="M525 148h0M615 136h0"/><path stroke="#092402" stroke-width="10" d="M651 111h0"/><path stroke="#092402" stroke-width="11" d="M528 188h0M650 101h0"/><path stroke="#092402" stroke-width="12" d="M547 159h0"/><path stroke="#0f3c04" stroke-width="5" d="M599 231h0"/><path stroke="#0f3c04" stroke-width="6" d="M542 123h0M518 114v1M513 241h0"/><path stroke="#0f3c04" stroke-width="7" d="M602 179h0"/><path stroke="#0f3c04" stroke-width="9" d="M644 192h0"/><path stroke="#124805" stroke-width="5" d="M524 224h0M604 96h0"/><path stroke="#124805" stroke-width="6" d="M531 188v1"/><path stroke="#124805" stroke-width="7" d="M525 225v1M599 232v2"/><path stroke="#124805" stroke-width="9" d="M540 122v1M553 164v1M545 165v2M514 243v2"/><path stroke="#155406" stroke-width="6" d="M541 254h0"/><path stroke="#155406" stroke-width="7" d="M605 237v2"/><path stroke="#155406" stroke-width="8" d="M602 98h0M543 252v1"/><path stroke="#155406" stroke-width="9" d="M586 149v2"/><path stroke="#186007" stroke-width="4" d="M517 251h0"/><path stroke="#186007" stroke-width="5" d="M494 188h0"/><path stroke="#186007" stroke-width="6" d="M594 176v1M516 253h0"/><path stroke="#186007" stroke-width="8" d="M499 226v1M539 129v1"/><path stroke="#186007" stroke-width="9" d="M599 212v1"/><path stroke="#1c6c08" stroke-width="6" d="M521 182h0"/><path stroke="#1c6c08" stroke-width="7" d="M638 242v1M507 161v1M567 188v1"/><path stroke="#1c6c08" stroke-width="8" d="M496 186v1"/><path stroke="#1f7809" stroke-width="4" d="M563 99h0"/><path stroke="#1f7809" stroke-width="6" d="M620 166h0M621 143h0M615 115h0"/><path stroke="#22840a" stroke-width="6" d="M592 246h0M572 242h0M633 162h0M607 253v1"/><path stroke="#22840a" stroke-width="8" d="M509 181h0M571 240h0"/><path stroke="#22840a" stroke-width="9" d="M582 237v1"/><path stroke="#25900b" stroke-width="4" d="M627 250h0M494 179h0"/><path stroke="#25900b" stroke-width="5" d="M567 215h0"/><path stroke="#25900b" stroke-width="6" d="M629 249v2M632 136h0M563 97v1M515 222h0"/><path stroke="#25900b" stroke-width="7" d="M592 118h0"/><path stroke="#25900b" stroke-width="8" d="M618 167h0M497 196v1M591 248h0M521 184v1M633 159v2"/><path stroke="#25900b" stroke-width="9" d="M618 143v1M616 117h0M628 150v2M509 173v1M642 224h0M529 198v1"/><path stroke="#289c0c" stroke-width="4" d="M546 178h0M515 189h0M528 130h0"/><path stroke="#289c0c" stroke-width="5" d="M523 249h0M553 245h0M497 125h0"/><path stroke="#289c0c" stroke-width="6" d="M512 103h0M545 191v1M621 227h0M521 170v1M597 146h0M527 132v1M500 206h0"/><path stroke="#289c0c" stroke-width="7" d="M634 107h0M569 215v2"/><path stroke="#289c0c" stroke-width="8" d="M496 113v1M629 136h0M555 172v2"/><path stroke="#289c0c" stroke-width="9" d="M592 192v1M554 198v1M595 117h0M582 131v1M549 155v1"/><path stroke="#2ba80d" stroke-width="4" d="M571 120h0"/><path stroke="#2ba80d" stroke-width="5" d="M648 162h0M523 119h0M506 120h0M513 230h0"/><path stroke="#2ba80d" stroke-width="6" d="M541 240h0M571 139v1M634 176h0M497 111h0M534 106h0M545 176v1M495 180v1"/><path stroke="#2ba80d" stroke-width="7" d="M498 133v1M635 190v1M647 212h0M524 247v2M626 235v1M602 188h0M553 247h0"/><path stroke="#2ba80d" stroke-width="8" d="M543 241v1"/><path stroke="#2ba80d" stroke-width="9" d="M529 160v2M599 125v2M533 174v1M531 107v1"/><path stroke="#2eb40e" stroke-width="4" d="M501 214h0"/><path stroke="#2eb40e" stroke-width="5" d="M570 104h0M575 96h0M516 162h0"/><path stroke="#2eb40e" stroke-width="6" d="M540 224h0M545 205h0"/><path stroke="#2eb40e" stroke-width="7" d="M553 148h0M648 159v1M503 149v1M598 157h0M500 124v1M515 229v1"/><path stroke="#2eb40e" stroke-width="8" d="M522 121v2M508 196h0M608 161v1M507 121v2"/><path stroke="#2eb40e" stroke-width="9" d="M586 103v2M513 100v2M543 203v1M515 170v1M518 220v1"/><path stroke="#31c00f" stroke-width="5" d="M551 149h0M557 133h0M624 211h0"/><path stroke="#31c00f" stroke-width="6" d="M617 128h0M570 117v1M546 141h0"/><path stroke="#31c00f" stroke-width="7" d="M570 105v1M545 105h0M554 227h0M622 211h0"/><path stroke="#31c00f" stroke-width="8" d="M615 129v2M520 191v2"/><path stroke="#31c00f" stroke-width="9" d="M635 173v1M599 188h0M546 143h0"/><path stroke="#35cc10" stroke-width="6" d="M517 203h0M501 212v1M514 189h0M607 97h0M547 187h0"/><path stroke="#35cc10" stroke-width="7" d="M625 101v1M614 155v1M518 162v1"/><path stroke="#35cc10" stroke-width="8" d="M579 165v2M538 225h0M590 136v2"/><path stroke="#35cc10" stroke-width="9" d="M515 205h0M652 149v1"/><path stroke="#38d811" stroke-width="7" d="M503 241v1M614 191h0M573 96v1"/><path stroke="#38d811" stroke-width="8" d="M495 96h0M638 146v1M527 146v1M607 204v1"/><path stroke="#38d811" stroke-width="9" d="M611 221h0M632 252v1M610 96v1M550 184v2"/><path stroke="#3be412" stroke-width="6" d="M585 124h0M571 155h0"/><path stroke="#3be412" stroke-width="7" d="M559 132v1M579 215h0"/><path stroke="#3be412" stroke-width="8" d="M643 117v2M587 124v1M646 134v1"/><path stroke="#3be412" stroke-width="9" d="M628 117v1M650 100v1M561 114v2M573 156v1"/><path stroke="#3ef013" stroke-width="6" d="M645 117h0M650 97h0"/><path stroke="#124805" stroke-width="3" d="M517 115h0"/><path stroke="#186007" stroke-width="3" d="M525 226h0M531 189h0"/><path stroke="#186007" stroke-width="4" d="M541 123h0"/><path stroke="#1c6c08" stroke-width="3" d="M606 238h0"/><path stroke="#1c6c08" stroke-width="4" d="M586 150h0"/><path stroke="#1f7809" stroke-width="3" d="M538 130h0"/><path stroke="#25900b" stroke-width="3" d="M637 242h0M506 162h0"/><path stroke="#2eb40e" stroke-width="4" d="M617 117h0M509 173h0"/><path stroke="#31c00f" stroke-width="3" d="M497 195h0M500 207h0"/><path stroke="#31c00f" stroke-width="4" d="M630 136h0M528 198h0"/><path stroke="#35cc10" stroke-width="3" d="M621 227h0M522 170h0"/><path stroke="#35cc10" stroke-width="4" d="M592 192h0M549 156h0M555 172h0"/><path stroke="#38d811" stroke-width="3" d="M546 176h0"/><path stroke="#38d811" stroke-width="4" d="M529 161h0M600 126h0"/><path stroke="#3be412" stroke-width="3" d="M499 134h0M507 196h0M514 230h0M495 180h0"/><path stroke="#3be412" stroke-width="4" d="M586 104h0"/><path stroke="#3ef013" stroke-width="3" d="M523 122h0"/><path stroke="#3ef013" stroke-width="4" d="M515 170h0"/><path stroke="#41fc14" stroke-width="3" d="M624 101h0M614 190h0M608 205h0M553 227h0M513 189h0"/><path stroke="#41fc14" stroke-width="4" d="M515 206h0M539 225h0M588 124h0M591 137h0M612 221h0M651 150h0M650 100h0"/></g></g><rect x="326" y="49" width="77" height="77" fill="#010501"/><g clip-path="url(#clip5)" filter="url(#blur)"><g transform="scale(.5)" fill="none" stroke-linecap="round"><path stroke="#030c00" stroke-width="10" d="M758 248h0"/><path stroke="#030c00" stroke-width="11" d="M759 198h0"/><path stroke="#061801" stroke-width="8" d="M769 189h0M755 129h0"/><path stroke="#061801" stroke-width="9" d="M660 206h0M676 155h0M685 119h0"/><path stroke="#061801" stroke-width="10" d="M704 138h0M802 188h0M672 179h0M664 218h0M776 229h0M772 137h0"/><path stroke="#061801" stroke-width="11" d="M716 141h0M662 205h0"/><path stroke="#061801" stroke-width="12" d="M767 101h0M697 134h0"/><path stroke="#092402" stroke-width="12" d="M790 186h0"/><path stroke="#0c3003" stroke-width="5" d="M750 233h0"/><path stroke="#0c3003" stroke-width="7" d="M807 98v2M751 235h0M724 120v1"/><path stroke="#0c3003" stroke-width="8" d="M665 231h0"/><path stroke="#0f3c04" stroke-width="4" d="M773 107h0"/><path stroke="#0f3c04" stroke-width="5" d="M740 193h0M808 101h0M708 136h0"/><path stroke="#0f3c04" stroke-width="6" d="M651 219v1M771 106v1"/><path stroke="#0f3c04" stroke-width="7" d="M742 194v1"/><path stroke="#0f3c04" stroke-width="8" d="M747 165v1"/><path stroke="#124805" stroke-width="4" d="M803 225h0"/><path stroke="#124805" stroke-width="5" d="M668 145h0M806 114h0"/><path stroke="#124805" stroke-width="7" d="M668 143h0M777 113h0M706 173v2M709 134h0"/><path stroke="#124805" stroke-width="8" d="M698 197h0"/><path stroke="#124805" stroke-width="9" d="M656 204v1M784 111v1"/><path stroke="#155406" stroke-width="5" d="M744 149h0M778 214h0"/><path stroke="#155406" stroke-width="6" d="M693 192h0M805 224v1"/><path stroke="#155406" stroke-width="7" d="M804 114v1M802 237h0M707 114v1"/><path stroke="#155406" stroke-width="8" d="M743 147h0M697 236v1"/><path stroke="#155406" stroke-width="9" d="M738 159h0"/><path stroke="#186007" stroke-width="7" d="M681 184v1M777 211v1M670 177v1"/><path stroke="#186007" stroke-width="8" d="M718 180v1"/><path stroke="#186007" stroke-width="9" d="M729 99v1M766 101v2M805 237v1M685 96v2"/><path stroke="#1c6c08" stroke-width="6" d="M656 103v1M666 205h0"/><path stroke="#1c6c08" stroke-width="8" d="M693 189h0"/><path stroke="#1f7809" stroke-width="5" d="M789 196h0M715 113h0M766 166h0M766 217h0"/><path stroke="#1f7809" stroke-width="6" d="M694 244h0"/><path stroke="#22840a" stroke-width="4" d="M746 105h0"/><path stroke="#22840a" stroke-width="6" d="M763 207h0M756 149h0M768 217v2"/><path stroke="#22840a" stroke-width="7" d="M806 185v2"/><path stroke="#22840a" stroke-width="8" d="M677 111h0M745 244v2M675 120v1"/><path stroke="#22840a" stroke-width="9" d="M668 206v1M679 249v1M767 252v1"/><path stroke="#25900b" stroke-width="5" d="M774 133h0M700 161h0M659 186h0M678 159h0"/><path stroke="#25900b" stroke-width="6" d="M659 128h0M730 179v1M782 98v1"/><path stroke="#25900b" stroke-width="7" d="M787 197h0M664 194v1M741 253h0"/><path stroke="#25900b" stroke-width="8" d="M716 111v1M764 165h0"/><path stroke="#25900b" stroke-width="9" d="M757 214v2M750 226v1M692 245v1"/><path stroke="#289c0c" stroke-width="6" d="M782 228h0M720 159h0"/><path stroke="#289c0c" stroke-width="7" d="M765 181v2M807 145v2M660 184v2M680 158v1"/><path stroke="#289c0c" stroke-width="8" d="M719 156h0"/><path stroke="#289c0c" stroke-width="9" d="M661 128v2"/><path stroke="#2ba80d" stroke-width="4" d="M706 142h0"/><path stroke="#2ba80d" stroke-width="5" d="M802 137h0M740 223h0M692 251h0M684 231h0"/><path stroke="#2ba80d" stroke-width="6" d="M711 239h0M748 105h0M752 185h0"/><path stroke="#2ba80d" stroke-width="7" d="M699 162v1"/><path stroke="#2ba80d" stroke-width="8" d="M653 240v1M762 204v2M775 131v1"/><path stroke="#2ba80d" stroke-width="9" d="M727 196v2M719 97h0"/><path stroke="#2eb40e" stroke-width="5" d="M805 211h0M715 201h0M802 158h0M712 140h0M800 180h0"/><path stroke="#2eb40e" stroke-width="6" d="M761 149h0M724 231h0M774 157h0M782 185h0M794 184h0M803 127v1"/><path stroke="#2eb40e" stroke-width="7" d="M794 171v1M793 96v1M741 224v1M729 213v1M684 233v1"/><path stroke="#2eb40e" stroke-width="8" d="M788 125v1M796 226v1M792 183h0"/><path stroke="#2eb40e" stroke-width="9" d="M785 228h0M788 217v1"/><path stroke="#31c00f" stroke-width="5" d="M737 136h0M777 143h0"/><path stroke="#31c00f" stroke-width="7" d="M700 179v1M803 209v2M716 222v1M802 135h0M688 150v2M801 177v1"/><path stroke="#31c00f" stroke-width="9" d="M714 239v2M741 238v2"/><path stroke="#35cc10" stroke-width="5" d="M724 164h0"/><path stroke="#35cc10" stroke-width="6" d="M704 142v1M755 137v1M706 108v1M694 251v1"/><path stroke="#35cc10" stroke-width="7" d="M694 216v1M695 112v1M698 98h0M779 142v1M714 141h0"/><path stroke="#35cc10" stroke-width="8" d="M713 201v1M804 158h0"/><path stroke="#35cc10" stroke-width="9" d="M786 249h0M763 150h0M768 140v1"/><path stroke="#38d811" stroke-width="5" d="M692 216h0M752 121h0"/><path stroke="#38d811" stroke-width="6" d="M792 162h0M792 149v1M689 218h0"/><path stroke="#38d811" stroke-width="7" d="M680 205v1"/><path stroke="#38d811" stroke-width="8" d="M723 166h0M769 234v2"/><path stroke="#38d811" stroke-width="9" d="M680 224h0M732 245v1M774 155h0M686 217h0M754 183v2"/><path stroke="#3be412" stroke-width="6" d="M715 186h0"/><path stroke="#3be412" stroke-width="7" d="M746 212v1M662 245v1M754 120h0M767 128h0"/><path stroke="#3be412" stroke-width="8" d="M735 134v1M651 147v1M742 176v2M708 148h0"/><path stroke="#3be412" stroke-width="9" d="M658 171v2M713 184v1M660 233v1"/><path stroke="#3ef013" stroke-width="6" d="M658 232h0"/><path stroke="#3ef013" stroke-width="8" d="M788 168v1"/><path stroke="#0f3c04" stroke-width="3" d="M750 236h0"/><path stroke="#124805" stroke-width="3" d="M806 99h0M724 121h0M652 218h0"/><path stroke="#155406" stroke-width="3" d="M706 173h0"/><path stroke="#186007" stroke-width="3" d="M669 143h0"/><path stroke="#186007" stroke-width="4" d="M698 197h0M784 111h0"/><path stroke="#1c6c08" stroke-width="3" d="M805 116h0"/><path stroke="#1f7809" stroke-width="3" d="M680 183h0"/><path stroke="#1f7809" stroke-width="4" d="M738 160h0M718 181h0M684 97h0"/><path stroke="#22840a" stroke-width="3" d="M671 177h0"/><path stroke="#22840a" stroke-width="4" d="M730 100h0"/><path stroke="#2ba80d" stroke-width="3" d="M756 150h0"/><path stroke="#2eb40e" stroke-width="3" d="M767 217h0"/><path stroke="#2eb40e" stroke-width="4" d="M716 110h0"/><path stroke="#31c00f" stroke-width="3" d="M729 179h0"/><path stroke="#31c00f" stroke-width="4" d="M757 215h0"/><path stroke="#3be412" stroke-width="4" d="M787 126h0M775 132h0"/><path stroke="#3ef013" stroke-width="3" d="M802 135h0M684 233h0"/><path stroke="#3ef013" stroke-width="4" d="M788 218h0"/><path stroke="#41fc14" stroke-width="3" d="M697 97h0M714 140h0"/><path stroke="#41fc14" stroke-width="4" d="M788 168h0M753 184h0M768 140h0"/></g></g><rect x="14" y="127" width="77" height="77" fill="#010501"/><g clip-path="url(#clip6)" filter="url(#blur)"><g transform="scale(.5)" fill="none" stroke-linecap="round"><path stroke="#030c00" stroke-width="10" d="M59 386h0"/><path stroke="#061801" stroke-width="8" d="M69 329h0M142 380h0M170 396h0"/><path stroke="#061801" stroke-width="11" d="M28 297h0M137 398h0M87 390h0"/><path stroke="#092402" stroke-width="9" d="M178 267h0"/><path stroke="#092402" stroke-width="11" d="M32 351h0"/><path stroke="#0c3003" stroke-width="5" d="M41 273h0M162 320h0"/><path stroke="#0c3003" stroke-width="6" d="M110 385h0"/><path stroke="#0c3003" stroke-width="7" d="M41 270v1"/><path stroke="#0f3c04" stroke-width="5" d="M123 344h0M119 387h0"/><path stroke="#0f3c04" stroke-width="6" d="M94 377h0"/><path stroke="#0f3c04" stroke-width="7" d="M181 262v1M28 381v1M61 316h0M160 320v1M121 385v1"/><path stroke="#0f3c04" stroke-width="9" d="M107 386v1M125 355v1M95 378h0"/><path stroke="#124805" stroke-width="6" d="M101 329h0M120 285h0"/><path stroke="#124805" stroke-width="7" d="M122 341v2"/><path stroke="#124805" stroke-width="8" d="M98 329v2"/><path stroke="#155406" stroke-width="5" d="M70 272h0M36 407h0M37 303h0"/><path stroke="#155406" stroke-width="7" d="M35 302h0"/><path stroke="#155406" stroke-width="8" d="M39 407v2"/><path stroke="#186007" stroke-width="5" d="M92 307h0"/><path stroke="#186007" stroke-width="7" d="M68 272v1"/><path stroke="#186007" stroke-width="8" d="M48 285v1"/><path stroke="#1c6c08" stroke-width="5" d="M45 395h0"/><path stroke="#1c6c08" stroke-width="7" d="M43 393v1"/><path stroke="#1c6c08" stroke-width="8" d="M91 309h0"/><path stroke="#22840a" stroke-width="4" d="M146 333h0"/><path stroke="#22840a" stroke-width="5" d="M68 390h0M138 306h0"/><path stroke="#22840a" stroke-width="7" d="M176 401v2M100 314h0"/><path stroke="#22840a" stroke-width="8" d="M70 388v1M136 307v2"/><path stroke="#22840a" stroke-width="9" d="M57 334h0M65 368h0"/><path stroke="#25900b" stroke-width="4" d="M142 254h0"/><path stroke="#25900b" stroke-width="5" d="M171 383h0M29 260h0"/><path stroke="#25900b" stroke-width="6" d="M61 295h0M122 256v1M144 331v1"/><path stroke="#25900b" stroke-width="7" d="M129 370h0"/><path stroke="#25900b" stroke-width="8" d="M164 337h0"/><path stroke="#25900b" stroke-width="9" d="M130 323v2"/><path stroke="#289c0c" stroke-width="5" d="M108 366h0"/><path stroke="#289c0c" stroke-width="6" d="M157 365h0M141 252v1M84 292h0"/><path stroke="#289c0c" stroke-width="7" d="M27 260v2M107 368h0"/><path stroke="#289c0c" stroke-width="8" d="M177 312v1M86 293v2"/><path stroke="#289c0c" stroke-width="9" d="M100 400v1"/><path stroke="#2ba80d" stroke-width="6" d="M137 288h0M74 358h0"/><path stroke="#2ba80d" stroke-width="7" d="M167 262v1M172 380v1"/><path stroke="#2eb40e" stroke-width="6" d="M106 353h0M85 258h0"/><path stroke="#2eb40e" stroke-width="8" d="M99 288v1"/><path stroke="#2eb40e" stroke-width="9" d="M105 350v1M158 386v1M75 360v1M34 328v1"/><path stroke="#31c00f" stroke-width="5" d="M101 287h0"/><path stroke="#31c00f" stroke-width="6" d="M48 311h0"/><path stroke="#31c00f" stroke-width="8" d="M147 267v1"/><path stroke="#31c00f" stroke-width="9" d="M172 324h0"/><path stroke="#35cc10" stroke-width="5" d="M147 265h0"/><path stroke="#35cc10" stroke-width="6" d="M110 271v2M86 325h0"/><path stroke="#35cc10" stroke-width="7" d="M50 374v2"/><path stroke="#35cc10" stroke-width="8" d="M135 288v1"/><path stroke="#35cc10" stroke-width="9" d="M40 374v2"/><path stroke="#38d811" stroke-width="6" d="M180 354h0"/><path stroke="#38d811" stroke-width="8" d="M86 260h0M46 403v2M49 309h0"/><path stroke="#38d811" stroke-width="9" d="M141 404v1"/><path stroke="#3be412" stroke-width="6" d="M161 297v1"/><path stroke="#3be412" stroke-width="7" d="M152 400h0"/><path stroke="#3be412" stroke-width="8" d="M42 356v1M60 404v2M84 323v1"/><path stroke="#3be412" stroke-width="9" d="M81 309v2M184 334h0"/><path stroke="#124805" stroke-width="3" d="M159 320h0"/><path stroke="#155406" stroke-width="4" d="M95 378h0"/><path stroke="#186007" stroke-width="3" d="M123 342h0"/><path stroke="#1f7809" stroke-width="3" d="M49 286h0"/><path stroke="#25900b" stroke-width="3" d="M91 309h0"/><path stroke="#2ba80d" stroke-width="3" d="M176 401h0"/><path stroke="#2eb40e" stroke-width="3" d="M137 308h0"/><path stroke="#31c00f" stroke-width="3" d="M144 332h0"/><path stroke="#31c00f" stroke-width="4" d="M164 338h0M87 293h0"/><path stroke="#35cc10" stroke-width="3" d="M141 253h0"/><path stroke="#35cc10" stroke-width="4" d="M100 400h0"/><path stroke="#38d811" stroke-width="3" d="M167 263h0"/><path stroke="#3ef013" stroke-width="4" d="M106 350h0M76 361h0"/><path stroke="#41fc14" stroke-width="3" d="M162 296h0M60 405h0"/><path stroke="#41fc14" stroke-width="4" d="M134 289h0M81 310h0M172 325h0M141 404h0M46 403h0M84 323h0"/></g></g><rect x="92" y="127" width="77" height="77" fill="#020a02"/><g clip-path="url(#clip7)" filter="url(#blur)"><g transform="scale(.5)" fill="none" stroke-linecap="round"><path stroke="#071801" stroke-width="10" d="M204 334h0M320 299h0"/><path stroke="#071801" stroke-width="11" d="M184 263h0M291 409h0"/><path stroke="#071801" stroke-width="12" d="M211 307h0M209 271h0"/><path stroke="#071801" stroke-width="13" d="M254 402h0M314 265h0M274 385h0"/><path stroke="#071801" stroke-width="14" d="M337 261h0M217 363h0M262 398h0"/><path stroke="#0a2402" stroke-width="11" d="M241 263h0M299 348h0M254 259h0M322 386h0"/><path stroke="#0a2402" stroke-width="12" d="M246 397h0M332 343h0M211 362h0M186 253h0"/><path stroke="#0a2402" stroke-width="13" d="M231 340h0M305 276h0M316 371h0M223 378h0"/><path stroke="#0a2402" stroke-width="14" d="M305 318h0M194 357h0"/><path stroke="#123c04" stroke-width="4" d="M283 288h0M220 410h0M317 275h0"/><path stroke="#123c04" stroke-width="5" d="M294 408h0M325 385h0M311 266h0"/><path stroke="#154805" stroke-width="4" d="M228 274h0M293 367h0M206 284h0M223 311h0"/><path stroke="#154805" stroke-width="5" d="M326 326h0M310 396h0M289 278v1M216 275h0M326 279h0M316 285h0"/><path stroke="#154805" stroke-width="6" d="M236 291h0M284 290h0M226 376v1M221 409h0M324 270h0M225 310v1"/><path stroke="#154805" stroke-width="7" d="M293 407h0M254 340h0M310 267v1M302 324h0M188 260v1M299 304v1M323 289h0M194 307v1"/><path stroke="#154805" stroke-width="8" d="M322 385h0M273 330v1"/><path stroke="#195406" stroke-width="4" d="M200 385h0M186 304h0M270 336h0M273 375h0M340 363h0M244 321h0M315 316h0M199 275h0M277 385h0"/><path stroke="#195406" stroke-width="5" d="M246 378h0M305 357v1M257 370h0M221 329h0M208 397h0M229 273v1M275 328h0M326 349h0M216 390h0M270 300h0M268 274v1M318 274h0M284 409h0M305 320h0M224 320h0M194 305h0"/><path stroke="#195406" stroke-width="6" d="M273 254h0M185 304v1M293 252v1M193 397v1M293 369v1M181 371h0M246 387v1M215 391v2M199 277h0M192 314v1"/><path stroke="#195406" stroke-width="7" d="M328 324v1M219 402v1M308 397v1M236 305v1M266 253v1M259 390h0M217 273v1M257 321v1M305 391v1M318 284v1M271 409v2"/><path stroke="#195406" stroke-width="8" d="M238 289v1M244 410h0M214 341v1M183 368v1M324 348v2M328 277v2M228 306v1"/><path stroke="#1c6007" stroke-width="4" d="M235 352h0M262 328h0M323 394h0M224 292h0M188 351h0M268 325h0M232 407h0M261 321h0M230 280h0"/><path stroke="#1c6007" stroke-width="5" d="M188 290h0M284 373h0M272 335v1M218 285h0M222 293h0M339 362h0M210 409v1M265 403h0M304 257h0M309 293h0M231 325h0M219 365h0M252 399h0M244 402v1M199 343h0M290 342h0M266 338h0M203 327h0M308 367h0M222 372h0"/><path stroke="#1c6007" stroke-width="6" d="M333 402h0M202 386h0M290 363h0M274 373h0M322 281v1M338 280h0M244 319v1M205 282v1M210 368v1M253 400v1M188 274h0M269 324h0M316 315v1M311 262h0M276 384v1M184 336v1"/><path stroke="#1c6007" stroke-width="7" d="M339 314v1M198 357v1M297 259h0M182 297h0M274 326h0M332 294h0M200 286v1M264 402h0M194 393h0M225 257h0M282 409h0M211 294h0M278 351v1M305 321v1M223 317v1"/><path stroke="#1c6007" stroke-width="8" d="M228 321v1M278 306v1M224 253v1M194 265v1M336 280v1M269 302v1M334 331v1"/><path stroke="#206c08" stroke-width="4" d="M193 369h0M266 377h0M265 340h0M248 278h0M324 304h0M284 253h0M267 372h0M292 393h0M243 403h0M298 401h0M215 291h0"/><path stroke="#206c08" stroke-width="5" d="M205 338h0M197 333h0M286 311h0M211 270h0M327 364v1M293 353h0M312 353h0M189 331h0M232 375h0M270 396h0M335 389h0M316 297h0M233 317h0M254 358h0M322 402h0M242 302v1M286 367h0M247 301h0M264 287h0M286 410h0"/><path stroke="#206c08" stroke-width="6" d="M204 315v1M216 321v1M236 350v1M221 381h0M264 341v1M253 378v1M190 381v1M322 391v1M219 346h0M295 311h0M324 358v1M316 399v1M303 267v1M220 299v1M302 401h0M209 354v1M333 359h0M194 364v1M210 403h0M250 257h0M231 407h0M329 379v1M260 319v2M284 298v1M232 280h0M330 394v1"/><path stroke="#206c08" stroke-width="7" d="M225 352v1M259 408v1M244 377v1M285 370v2M256 372v1M215 384v1M266 321h0M275 338v1M292 351h0M190 332v1M231 286h0M309 294v1M233 327h0M315 297v2M221 364v1M265 356v1M198 341v2M290 340h0M242 333h0M188 332v1M205 327v1M268 257h0M223 371h0"/><path stroke="#206c08" stroke-width="8" d="M186 288v2M314 350v2M286 365v1M310 264h0M232 332v1"/><path stroke="#247809" stroke-width="4" d="M305 337h0M241 297h0M286 334h0M254 380h0M239 387h0M329 375h0M216 354h0M251 313h0M301 311h0M201 406h0M317 386h0M327 295h0M181 277h0M302 335h0M231 282h0"/><path stroke="#247809" stroke-width="5" d="M214 369h0M306 324h0M325 303v1M193 409h0M285 255h0M207 384h0M208 340h0M216 340h0M294 291h0M235 258h0M283 278h0M214 309h0M232 341h0M264 293h0M214 323h0M277 371h0M268 385h0M197 396h0M249 288h0M312 342h0M310 337h0M186 280h0M221 381h0M205 392h0"/><path stroke="#247809" stroke-width="6" d="M285 333h0M262 329v2M265 375v1M266 267v1M296 399v2M231 254h0M282 343h0M186 351h0M292 391v1M334 391v1M231 326h0M301 313h0M257 314v1M236 404h0M242 281v1M317 387v1M183 277v1M216 293v1M301 333v1"/><path stroke="#247809" stroke-width="7" d="M197 335h0M278 268v1M183 255v1M286 312v1M217 282v2M235 359h0M209 382h0M215 288v1M271 397v1M295 288v1M214 302v1M233 258h0M302 256h0M215 308v1M215 324v1M189 363v1M247 331v2M243 264v1M195 396v2M313 395v1M219 379h0M285 407v1M312 363v1M312 255v1"/><path stroke="#247809" stroke-width="8" d="M200 306h0M291 361v1M206 338v2M316 290v2M217 347v2M282 338h0M305 368v1"/><path stroke="#27840a" stroke-width="4" d="M226 289h0M260 255h0M211 288h0M333 318h0M235 282h0M304 296h0M296 334h0M323 397h0M269 280h0M292 294h0M279 298h0M290 406h0"/><path stroke="#27840a" stroke-width="5" d="M307 337v1M242 298h0M333 281h0M238 259h0M272 301h0M223 400h0M227 269h0M188 254h0M274 290h0M325 308h0M267 371v1M330 373v1M339 348h0M262 305h0M262 349h0M215 352h0M186 377h0M283 352v1M200 408v1M300 348h0M243 364h0M299 399v1M220 307h0M255 357h0M262 338h0M186 310h0M289 405h0M306 291h0M337 382h0"/><path stroke="#27840a" stroke-width="6" d="M193 366v1M324 379v1M287 274h0M322 274h0M259 257h0M281 366v1M248 279v1M250 332v1M288 304v1M184 386h0M223 304v1M236 284h0M297 331v1M307 330v1M250 311v1M290 293v1M278 296v1M258 332h0M214 349h0M265 363v1M333 286v1"/><path stroke="#27840a" stroke-width="7" d="M252 305h0M257 277v1M204 339h0M240 310v1M229 337h0M310 367v1M206 252v1M264 261h0M283 387v1M193 406v1M209 363v1M313 406h0M213 365v1M261 303h0M310 356v1M266 293h0M186 379v1M256 356v2M244 362h0M314 342h0M312 336v1M221 308v2M274 393v1M317 348v1M187 281v1M207 393h0M263 285v1M248 328v1M304 289v2"/><path stroke="#27840a" stroke-width="8" d="M326 388v1M307 325h0M194 290v1M333 368v2M233 372v2M284 280v2M195 387v2M229 326v1M315 320v1M266 383h0M321 400v2M250 289v1M249 302v1M245 372v1"/><path stroke="#2b900b" stroke-width="4" d="M270 375h0M282 337h0M227 338h0M319 357h0M260 314h0"/><path stroke="#2b900b" stroke-width="5" d="M196 316h0M186 358h0M266 311v1M325 317h0M257 303h0M287 378v1M293 361h0M246 287v1M215 313h0M238 333v1M274 302h0M218 360h0M200 380h0M187 349h0M199 263v1M320 374h0M260 272h0M260 310h0M222 374h0M310 386h0M260 316h0"/><path stroke="#2b900b" stroke-width="6" d="M207 279h0M288 393h0M316 329h0M239 385h0M185 272v1M325 396v1M202 352h0M226 338v1M187 365v1M303 346h0M198 363h0M229 281h0"/><path stroke="#2b900b" stroke-width="7" d="M313 260v1M188 357v1M225 384h0M273 298v1M212 268v2M290 298h0M248 346v1M276 291v1M217 311v1M253 324v1M218 339h0M336 254v2M322 256v1M260 350v1M305 377v1M250 360h0M217 389v1M302 349h0M213 314v1M195 282v1M309 387v2M205 368v1M185 307v1"/><path stroke="#2b900b" stroke-width="8" d="M216 370v2M331 278v1M209 279h0M225 399h0M189 255v1M286 394v1M230 341v2M277 372v2M241 361h0M252 356v1"/><path stroke="#2e9c0c" stroke-width="4" d="M276 345h0M332 332h0M262 360h0M203 351h0M287 338h0M196 363h0M313 377h0"/><path stroke="#2e9c0c" stroke-width="5" d="M329 341h0M237 277h0M310 253h0M289 300h0M209 299h0M261 361h0M281 391h0M245 360h0M278 274h0M274 360h0M321 357h0M213 284v1"/><path stroke="#2e9c0c" stroke-width="6" d="M275 343v1M286 265v1M333 384h0M232 392h0M301 309v1M212 288v1M331 318v1M212 274v1M303 294v1M271 376v1M280 336v1M186 323h0M297 347v1M328 296v1M306 373h0M313 375v1"/><path stroke="#2e9c0c" stroke-width="7" d="M194 317h0M237 275v2M301 376h0M187 397v1M325 408v2M195 374h0M325 310v1M211 299v1M220 360v1M338 345v2M236 309v1M278 272v1M276 362v1M237 400v1M321 376h0M320 332h0M263 395h0"/><path stroke="#2e9c0c" stroke-width="8" d="M209 344v1M266 283h0M240 257v2M335 384h0M225 268h0M256 302v1M187 338h0M292 359v1M201 327v2M257 263v1M301 345v2M190 391v2M340 382v1M221 280h0"/><path stroke="#32a80d" stroke-width="4" d="M244 348h0M232 305h0M299 310h0"/><path stroke="#32a80d" stroke-width="5" d="M182 266h0M336 274h0M263 351h0M320 262h0M185 330h0M225 344h0M288 258h0M273 307h0M327 270h0M196 350h0M313 281h0M204 392h0"/><path stroke="#32a80d" stroke-width="6" d="M303 316v1M225 288v1M210 254h0M271 279v1M288 340v1M210 390v1M280 272h0M231 255h0M326 341h0"/><path stroke="#32a80d" stroke-width="7" d="M184 266h0M231 401v1M309 392h0M232 296v1M208 333h0M280 389h0M244 358v1M245 364h0M333 307v1M271 306v1M187 328v1M260 339v1M311 281v1"/><path stroke="#32a80d" stroke-width="8" d="M325 319h0M204 272v1M259 346v1M199 377v1M203 257h0M282 273h0M207 378h0"/><path stroke="#36b40e" stroke-width="4" d="M229 268h0M206 269h0"/><path stroke="#36b40e" stroke-width="5" d="M303 315h0M246 348h0M317 344h0"/><path stroke="#36b40e" stroke-width="6" d="M233 304h0M327 335v1M230 262v1M253 397h0M218 255v1M201 293v1M231 268h0M204 268h0"/><path stroke="#36b40e" stroke-width="7" d="M291 268v1M338 275v1M207 266h0M319 344h0M271 406v1M223 343h0M289 258v2M184 396v1M220 373v1M308 278h0M207 365v2"/><path stroke="#36b40e" stroke-width="8" d="M248 391v2M212 253v1M308 254v1M279 281h0M321 260v1M251 399h0M329 270v1M310 359v2M192 300v2"/><path stroke="#39c00f" stroke-width="4" d="M203 294h0"/><path stroke="#39c00f" stroke-width="5" d="M274 380h0M322 367v1"/><path stroke="#39c00f" stroke-width="6" d="M309 291v1M332 330h0"/><path stroke="#39c00f" stroke-width="7" d="M270 368v1M302 330v1M183 328v1"/><path stroke="#39c00f" stroke-width="8" d="M331 341v1M324 297h0"/><path stroke="#3dcc10" stroke-width="4" d="M221 389h0"/><path stroke="#3dcc10" stroke-width="6" d="M222 387v1"/><path stroke="#3dcc10" stroke-width="7" d="M272 381h0M223 356v1M194 349v1"/><path stroke="#1c6007" stroke-width="2" d="M290 279h0M222 409h0"/><path stroke="#1c6007" stroke-width="3" d="M284 289h0M323 385h0M311 268h0M323 270h0M225 310h0M194 308h0"/><path stroke="#206c08" stroke-width="3" d="M244 411h0M294 252h0M214 341h0M256 323h0M198 278h0M191 314h0M318 285h0"/><path stroke="#206c08" stroke-width="4" d="M183 368h0M324 350h0"/><path stroke="#247809" stroke-width="2" d="M339 361h0"/><path stroke="#247809" stroke-width="3" d="M339 315h0M182 297h0M193 397h0M294 369h0M200 286h0M244 320h0M204 283h0M269 325h0M317 316h0M225 257h0M210 295h0"/><path stroke="#247809" stroke-width="4" d="M269 302h0"/><path stroke="#27840a" stroke-width="2" d="M242 302h0"/><path stroke="#27840a" stroke-width="3" d="M334 402h0M297 259h0M220 364h0M210 367h0M253 401h0M266 356h0M199 342h0M305 323h0M276 385h0M205 327h0M268 257h0"/><path stroke="#27840a" stroke-width="4" d="M195 265h0"/><path stroke="#2b900b" stroke-width="3" d="M226 353h0M313 352h0M231 255h0M301 257h0M295 311h0M220 299h0M316 299h0M302 402h0M334 360h0M290 341h0M210 403h0M220 379h0M187 332h0M231 279h0"/><path stroke="#2b900b" stroke-width="4" d="M286 366h0"/><path stroke="#2e9c0c" stroke-width="3" d="M197 336h0M182 255h0M287 313h0M266 267h0M235 359h0M301 313h0M313 395h0"/><path stroke="#2e9c0c" stroke-width="4" d="M290 361h0M218 347h0"/><path stroke="#32a80d" stroke-width="3" d="M192 367h0M257 277h0M204 339h0M240 310h0M285 333h0M322 274h0M258 257h0M265 261h0M314 407h0M236 284h0M214 302h0M309 357h0M215 324h0M196 388h0M186 379h0M250 291h0M242 282h0M188 282h0M247 328h0"/><path stroke="#32a80d" stroke-width="4" d="M228 327h0M244 371h0"/><path stroke="#36b40e" stroke-width="2" d="M307 338h0M287 378h0M245 289h0M188 349h0M200 408h0"/><path stroke="#36b40e" stroke-width="3" d="M230 336h0M250 333h0M239 385h0M324 396h0M262 304h0M322 256h0M250 312h0M245 361h0M207 392h0M213 350h0M204 368h0M264 285h0M304 290h0"/><path stroke="#39c00f" stroke-width="2" d="M260 316h0"/><path stroke="#39c00f" stroke-width="3" d="M266 284h0M215 372h0M226 383h0M290 299h0M221 361h0M184 272h0M303 294h0M229 341h0M305 377h0M250 360h0M212 314h0M194 283h0"/><path stroke="#39c00f" stroke-width="4" d="M190 256h0M277 372h0"/><path stroke="#3dcc10" stroke-width="3" d="M302 377h0M225 268h0M326 409h0M301 310h0M325 311h0M213 290h0M212 300h0M338 345h0M279 335h0M185 323h0M276 362h0M257 263h0"/><path stroke="#3dcc10" stroke-width="4" d="M209 344h0M188 339h0"/><path stroke="#40d811" stroke-width="3" d="M310 393h0M281 389h0M243 358h0M245 363h0M272 306h0"/><path stroke="#40d811" stroke-width="4" d="M206 378h0"/><path stroke="#44e412" stroke-width="3" d="M248 392h0M208 334h0M204 268h0M192 301h0"/><path stroke="#44e412" stroke-width="4" d="M212 253h0"/><path stroke="#48f013" stroke-width="3" d="M270 369h0M308 254h0M337 276h0M201 294h0M329 270h0"/><path stroke="#48f013" stroke-width="4" d="M309 359h0"/><path stroke="#4bfc14" stroke-width="3" d="M273 381h0M303 332h0M222 388h0M184 329h0"/></g></g><rect x="170" y="127" width="77" height="77" fill="#020a02"/><g clip-path="url(#clip8)" filter="url(#blur)"><g transform="scale(.5)" fill="none" stroke-linecap="round"><path stroke="#071801" stroke-width="11" d="M471 354h0M419 359h0M493 257h0"/><path stroke="#071801" stroke-width="12" d="M427 405h0M361 339h0M397 256h0M357 343h0"/><path stroke="#071801" stroke-width="13" d="M373 399h0M439 386h0M420 408h0M361 268h0"/><path stroke="#071801" stroke-width="14" d="M414 367h0"/><path stroke="#0a2402" stroke-width="10" d="M444 405h0M422 309h0M450 310h0"/><path stroke="#0a2402" stroke-width="11" d="M465 337h0M402 375h0M375 348h0M338 343h0M377 257h0"/><path stroke="#0a2402" stroke-width="12" d="M451 359h0M478 261h0"/><path stroke="#0a2402" stroke-width="13" d="M407 351h0"/><path stroke="#0a2402" stroke-width="14" d="M345 318h0"/><path stroke="#0e3003" stroke-width="5" d="M488 288h0"/><path stroke="#123c04" stroke-width="5" d="M441 359h0M376 326h0M440 337h0M455 253h0M438 274h0"/><path stroke="#123c04" stroke-width="6" d="M384 283v1M375 408v1M490 331h0"/><path stroke="#123c04" stroke-width="7" d="M490 288h0"/><path stroke="#123c04" stroke-width="8" d="M462 396h0"/><path stroke="#154805" stroke-width="4" d="M428 330h0M350 286h0M422 305h0M490 349h0"/><path stroke="#154805" stroke-width="5" d="M420 361v1M430 289h0M345 383h0M465 396h0M490 253h0M370 331v1M454 321h0M450 283h0M438 264h0M344 371h0M378 271h0M376 351h0M466 354h0M429 409h0"/><path stroke="#154805" stroke-width="6" d="M463 357v1M447 307v1M492 348v1M403 358h0M431 407h0M358 360v1"/><path stroke="#154805" stroke-width="7" d="M375 323v1M440 386h0M397 386v1M438 336v1M378 351h0M359 255h0M457 252v1M439 272v1"/><path stroke="#154805" stroke-width="8" d="M395 269v1M350 314v1M400 340v1"/><path stroke="#195406" stroke-width="4" d="M354 273h0M440 252h0M464 342h0M364 340h0M398 258h0M480 368h0M404 336h0M369 369h0M348 410h0M475 292h0M352 316h0M372 399h0M385 404h0M484 409h0M442 300h0"/><path stroke="#195406" stroke-width="5" d="M427 277h0M340 264h0M410 330h0M386 296h0M439 388h0M387 371h0M486 261h0M379 295h0M405 352h0M384 405h0M408 302h0M453 340h0M485 407h0M459 263v1M341 277h0"/><path stroke="#195406" stroke-width="6" d="M430 328v1M351 285h0M491 308h0M481 367h0M403 335v1M464 297h0M420 304v1M353 337h0M346 408v1M440 278h0M443 299h0"/><path stroke="#195406" stroke-width="7" d="M350 292v1M345 384v1M490 255v1M456 312v1M452 321v1M421 319v1M484 260v1M343 371v1M377 272v1M490 377h0M453 342h0"/><path stroke="#195406" stroke-width="8" d="M426 279v2M428 287v1M412 332h0M440 357h0M370 375v1M448 281h0M439 262h0M370 398h0M489 311v1"/><path stroke="#1c6007" stroke-width="4" d="M422 297h0M476 336h0M345 280h0M483 357h0M492 310h0M462 324h0M486 337h0M438 308h0M439 276h0M453 408h0M430 349h0M420 311h0M387 323h0M480 280h0M446 358h0M366 263h0M339 362h0M417 330h0"/><path stroke="#1c6007" stroke-width="5" d="M369 262h0M431 252h0M440 266h0M345 251h0M471 370v1M354 287h0M396 306h0M359 302h0M446 402h0M486 339h0M381 347h0M360 271h0M432 380h0M339 407h0M350 317h0M355 376h0M482 332h0M358 357h0M365 264h0M368 323v1M431 291h0M416 405h0M376 379h0M411 381h0"/><path stroke="#1c6007" stroke-width="6" d="M355 275h0M425 397h0M441 253v2M463 340v1M398 292h0M400 257v1M474 293h0M453 406v1M373 397v1M446 359v1M491 281h0M433 291v1M339 360v1"/><path stroke="#1c6007" stroke-width="7" d="M370 260h0M440 268v2M345 253h0M423 385v1M420 392v2M398 306v1M359 300h0M406 304v1M479 308v1M344 291h0M417 402v1M374 380h0M409 380h0"/><path stroke="#1c6007" stroke-width="8" d="M467 369h0M381 294v1M380 344v1M406 350v1M436 258v1M468 354v1M462 309v1M481 319v1"/><path stroke="#206c08" stroke-width="4" d="M401 402h0M416 373h0M358 386h0M443 318h0M353 261h0M379 406h0M400 395h0M454 381h0M407 285h0M423 355h0M339 297h0M478 285h0"/><path stroke="#206c08" stroke-width="5" d="M479 399h0M474 353h0M465 255h0M474 262h0M412 280h0M365 339v1M471 300h0M488 337h0M485 374h0M379 364v1M487 397h0M403 275h0M452 256h0M362 297h0M420 348v1M465 308h0M382 365h0M432 269h0M413 374h0M366 255h0M403 407h0M393 282h0M420 313v1M390 390h0M482 280v1M364 282h0M343 271h0M418 331v1"/><path stroke="#206c08" stroke-width="6" d="M427 350h0M386 374v1M350 383h0M474 335v1M346 278v1M397 335v1M484 356h0M389 370v1M378 404h0M457 388v1M396 375h0M444 401h0M461 364v1M344 354v1M371 370h0M434 329v1M385 322h0M421 355v1M338 298v1M345 342v1"/><path stroke="#206c08" stroke-width="7" d="M414 323h0M430 253v2M342 263h0M474 260v1M427 310v1M437 277v1M371 381h0M470 302v1M368 347h0M436 317v1M388 298v1M484 376h0M420 273v1M436 292v1M362 294v1M385 305v1M380 255v1M359 268v1M339 306v1M368 256v2M356 357v1M362 281v1M397 285v1M432 293v1M445 330v1M494 261v2M339 277h0M376 329v1"/><path stroke="#206c08" stroke-width="8" d="M426 348v1M392 345v1M414 281v2M444 376v1M412 349v1M400 292v1M444 343v1M370 303h0M393 284h0M483 272v1M481 333v1M392 391h0M448 265h0M434 299v2M447 333h0M401 293v1M345 333v1"/><path stroke="#247809" stroke-width="4" d="M341 394h0M366 290h0M364 276h0M406 323h0M376 259h0M385 345h0M475 366h0M443 310h0M387 332h0M360 342h0M453 348h0"/><path stroke="#247809" stroke-width="5" d="M340 393h0M400 400v1M398 305h0M473 391h0M436 276h0M432 396h0M420 297h0M494 406h0M415 405h0M398 254v1M464 319h0M411 275h0M385 266h0M456 267v1M494 358h0M359 342v1M446 328h0M479 286v1"/><path stroke="#247809" stroke-width="6" d="M495 326v1M418 373v1M457 396v1M432 270v1M370 309v1M449 270v2M488 316v1M356 386v1M486 268v1M428 272h0M493 300v1M389 379h0M367 364v1M407 256v1M383 319v1M407 321v1M353 327v1M477 334v1M386 334h0M397 323v1M476 330v1M383 345h0M461 322v1M436 307v1M340 405h0M429 350v1M474 367v1M405 284v1M463 376v1M382 390v1M452 346v1M413 391h0M371 285h0M379 367h0"/><path stroke="#247809" stroke-width="7" d="M481 398h0M472 350v2M362 322v1M426 407h0M475 380v1M409 353v1M356 286h0M486 398v1M405 275v1M452 277v1M452 257h0M387 267v1M384 366v1M430 380v1M355 373v1M397 338v2M493 357v1M427 373h0M432 336v1M404 383v1"/><path stroke="#247809" stroke-width="8" d="M389 390v1M389 253v1M427 398v1M434 396v1M361 370h0M387 396v1M345 269v1M407 260v1M413 371v1M405 327h0M403 405v1M416 294h0M442 312v1M411 389v2"/><path stroke="#27840a" stroke-width="4" d="M438 394h0M339 342h0M476 310h0M411 323h0M396 314h0M446 295h0M491 297h0M376 266h0M455 268h0M368 355h0"/><path stroke="#27840a" stroke-width="5" d="M433 338h0M365 290v1M375 390h0M484 327h0M438 392v1M432 306h0M363 275h0M399 352v1M399 395v1M445 406h0M390 343h0M431 299h0M429 374h0M408 337h0"/><path stroke="#27840a" stroke-width="6" d="M356 364v1M341 342v1M489 335v1M477 312v1M444 316v1M376 260v1M403 309v1M422 279v1M426 324v1M452 382v1M431 270v1M411 384h0M397 399h0M472 276v1M389 330h0M379 302v1"/><path stroke="#27840a" stroke-width="7" d="M374 389h0M397 303v2M428 409v1M352 399v1M475 285h0M340 326v1M446 405v1M417 322v1M430 297h0M463 307h0M458 277h0M470 392v1M412 257v1M412 317v1M406 338h0"/><path stroke="#27840a" stroke-width="8" d="M432 303v1M387 326v1M447 391v1M386 336v1M445 271h0M382 357v2M342 272v2M415 378v1M382 406h0"/><path stroke="#2b900b" stroke-width="4" d="M410 409h0M413 294h0M348 260h0M456 288h0M358 270h0M468 270h0M482 306h0M472 271h0M491 325h0M405 401h0"/><path stroke="#2b900b" stroke-width="5" d="M344 309h0M406 264h0M406 289h0M417 301h0M473 355h0M463 314h0M487 337v1M455 405h0M493 313h0M386 356h0"/><path stroke="#2b900b" stroke-width="6" d="M449 290v1M418 256v1M344 304v1M353 259v1M346 260v1M397 314v1M409 364h0M457 289v1M484 306v1M485 300v1M445 309v1M435 297v1M492 326v1M367 355h0"/><path stroke="#2b900b" stroke-width="7" d="M434 339v1M390 282h0M474 389v1M375 354v1M492 407h0M410 276v1M412 340v1M437 325h0M351 409h0M378 275v1M452 337v1M387 269v1M365 285v1M469 348v1M355 290v1M463 316v2"/><path stroke="#2b900b" stroke-width="8" d="M342 310v1M449 327v2M361 405v2M466 319v1M411 364v1M427 256v1"/><path stroke="#2e9c0c" stroke-width="4" d="M373 279h0M350 347h0M481 410h0M480 262h0M466 357h0"/><path stroke="#2e9c0c" stroke-width="5" d="M393 312h0M440 304h0M359 350v1M409 407h0M358 271v1M347 312h0M366 284h0M425 255h0"/><path stroke="#2e9c0c" stroke-width="6" d="M373 281v1M430 353v1M412 324v1M412 295v1M424 328v1M444 295v1M490 295v1M394 289v1M473 273v1M404 401v1"/><path stroke="#2e9c0c" stroke-width="7" d="M486 325v1M441 302v1M406 266h0M470 365h0M407 290h0M384 266h0M385 358h0"/><path stroke="#2e9c0c" stroke-width="8" d="M423 372v1M388 342v1M415 301h0M457 405v2M469 283v2"/><path stroke="#32a80d" stroke-width="4" d="M454 359h0M490 282h0M479 314h0M423 328h0M436 350h0M478 404h0"/><path stroke="#32a80d" stroke-width="5" d="M465 275h0M393 362v1M351 300h0M488 281v1M374 386h0M397 339h0M377 267v1M446 321h0M427 293v1M393 264h0"/><path stroke="#32a80d" stroke-width="6" d="M462 282v1M455 356v1M466 307v1M478 316h0M438 341v1M474 265v1M487 352v1M422 408v1M442 285v1M482 408v1M405 344h0M478 406h0"/><path stroke="#32a80d" stroke-width="7" d="M392 312v1M353 301v1M389 309v1M420 315v1M428 333v1M392 280v2M348 301v1"/><path stroke="#36b40e" stroke-width="4" d="M394 264h0"/><path stroke="#36b40e" stroke-width="5" d="M338 334h0M421 264h0M426 334h0"/><path stroke="#36b40e" stroke-width="6" d="M352 347v2M392 258v1M470 269v1M346 371v1M479 261v1M467 358h0"/><path stroke="#36b40e" stroke-width="7" d="M367 317v1M466 273h0M340 334v1M468 333h0M427 376v2M372 386h0M394 351h0M420 265v1M383 278v1M424 382v1M354 354v1"/><path stroke="#36b40e" stroke-width="8" d="M398 340v2M386 366v2M475 353v2M448 319v2M468 304v1"/><path stroke="#39c00f" stroke-width="4" d="M390 257h0"/><path stroke="#39c00f" stroke-width="5" d="M426 379h0M348 347h0"/><path stroke="#39c00f" stroke-width="6" d="M376 370v1M441 346v1M436 348v1M343 279v2"/><path stroke="#39c00f" stroke-width="7" d="M346 348v1"/><path stroke="#195406" stroke-width="2" d="M440 360h0"/><path stroke="#1c6007" stroke-width="3" d="M375 323h0M462 357h0M404 359h0M431 408h0M360 255h0M358 360h0M440 274h0"/><path stroke="#1c6007" stroke-width="4" d="M350 314h0M400 341h0"/><path stroke="#206c08" stroke-width="2" d="M459 262h0"/><path stroke="#206c08" stroke-width="3" d="M489 255h0M451 322h0M422 319h0M440 261h0M404 335h0M370 398h0M490 378h0"/><path stroke="#206c08" stroke-width="4" d="M412 332h0M440 357h0M447 280h0"/><path stroke="#247809" stroke-width="3" d="M346 252h0M463 341h0M491 308h0M344 371h0M447 361h0M433 293h0M418 403h0"/><path stroke="#247809" stroke-width="4" d="M468 370h0"/><path stroke="#27840a" stroke-width="2" d="M487 339h0M370 370h0"/><path stroke="#27840a" stroke-width="3" d="M371 260h0M440 268h0M398 335h0M398 307h0M456 388h0M395 374h0M381 295h0M406 351h0M481 335h0M435 299h0M479 309h0M494 261h0M374 380h0"/><path stroke="#27840a" stroke-width="4" d="M401 292h0M435 259h0M462 309h0M402 294h0"/><path stroke="#2b900b" stroke-width="2" d="M464 256h0"/><path stroke="#2b900b" stroke-width="3" d="M417 372h0M341 264h0M386 374h0M437 278h0M356 387h0M371 383h0M412 349h0M366 366h0M435 318h0M444 344h0M444 402h0M359 268h0M403 406h0M393 391h0M448 264h0M362 281h0M432 293h0M338 278h0"/><path stroke="#2e9c0c" stroke-width="3" d="M481 398h0M389 253h0M448 272h0M363 322h0M428 273h0M407 320h0M475 331h0M386 266h0M430 351h0M474 367h0M492 357h0M452 347h0M372 285h0M431 337h0M404 384h0"/><path stroke="#2e9c0c" stroke-width="4" d="M417 295h0M410 390h0"/><path stroke="#32a80d" stroke-width="2" d="M438 392h0M400 353h0"/><path stroke="#32a80d" stroke-width="3" d="M432 269h0M341 343h0M447 392h0M490 335h0M476 313h0M377 261h0M486 398h0M430 297h0M380 301h0"/><path stroke="#36b40e" stroke-width="3" d="M433 339h0M340 326h0M469 348h0M355 291h0"/><path stroke="#36b40e" stroke-width="4" d="M411 365h0"/><path stroke="#39c00f" stroke-width="2" d="M358 271h0"/><path stroke="#39c00f" stroke-width="3" d="M441 303h0M419 257h0M475 390h0M345 304h0M412 342h0M386 270h0M365 286h0"/><path stroke="#3dcc10" stroke-width="2" d="M359 351h0"/><path stroke="#3dcc10" stroke-width="3" d="M487 326h0M407 266h0M430 354h0M423 373h0M415 302h0M444 296h0M394 289h0M384 265h0M386 358h0"/><path stroke="#40d811" stroke-width="2" d="M479 315h0M422 408h0M426 293h0"/><path stroke="#40d811" stroke-width="3" d="M438 342h0M442 285h0M392 280h0M405 345h0M477 405h0"/><path stroke="#44e412" stroke-width="3" d="M465 274h0M340 334h0M455 358h0M351 348h0M420 265h0M389 310h0M355 354h0M428 334h0M476 354h0M448 320h0M467 306h0"/><path stroke="#48f013" stroke-width="3" d="M423 381h0M387 367h0"/></g></g><rect x="248" y="127" width="77" height="77" fill="#010501"/><g clip-path="url(#clip9)" filter="url(#blur)"><g transform="scale(.5)" fill="none" stroke-linecap="round"><path stroke="#030c00" stroke-width="9" d="M568 272h0"/><path stroke="#061801" stroke-width="9" d="M505 321h0M586 324h0"/><path stroke="#061801" stroke-width="10" d="M520 367h0M604 406h0M632 377h0M583 268h0"/><path stroke="#061801" stroke-width="11" d="M497 271h0"/><path stroke="#061801" stroke-width="12" d="M639 380h0"/><path stroke="#092402" stroke-width="9" d="M553 310h0M540 389h0"/><path stroke="#092402" stroke-width="10" d="M630 341h0"/><path stroke="#092402" stroke-width="11" d="M627 407h0"/><path stroke="#092402" stroke-width="12" d="M542 298h0"/><path stroke="#0c3003" stroke-width="4" d="M549 411h0"/><path stroke="#0c3003" stroke-width="5" d="M591 354h0"/><path stroke="#0c3003" stroke-width="6" d="M529 392h0M526 334h0M593 323h0"/><path stroke="#0c3003" stroke-width="8" d="M589 353v2"/><path stroke="#0c3003" stroke-width="9" d="M593 320v1"/><path stroke="#0f3c04" stroke-width="5" d="M646 329h0"/><path stroke="#0f3c04" stroke-width="6" d="M648 328h0M548 409v1"/><path stroke="#0f3c04" stroke-width="7" d="M581 277v1"/><path stroke="#0f3c04" stroke-width="8" d="M527 392v1M550 345v1M527 331v2M575 253v1"/><path stroke="#124805" stroke-width="6" d="M646 341v1"/><path stroke="#124805" stroke-width="7" d="M620 402h0M549 400v1"/><path stroke="#124805" stroke-width="9" d="M565 380v1"/><path stroke="#155406" stroke-width="7" d="M566 387v1M524 305v1"/><path stroke="#186007" stroke-width="4" d="M563 402h0"/><path stroke="#186007" stroke-width="5" d="M582 361h0"/><path stroke="#186007" stroke-width="6" d="M580 359v1"/><path stroke="#186007" stroke-width="7" d="M568 301h0M504 390v2"/><path stroke="#1c6c08" stroke-width="5" d="M627 340h0"/><path stroke="#1c6c08" stroke-width="6" d="M596 392h0M565 401v1"/><path stroke="#1c6c08" stroke-width="9" d="M598 390h0"/><path stroke="#1f7809" stroke-width="5" d="M566 308h0"/><path stroke="#1f7809" stroke-width="6" d="M620 352h0"/><path stroke="#22840a" stroke-width="6" d="M569 357h0"/><path stroke="#22840a" stroke-width="7" d="M606 347v1M564 306v1"/><path stroke="#22840a" stroke-width="8" d="M618 314v1M610 329v1M628 338h0"/><path stroke="#25900b" stroke-width="5" d="M539 350h0M590 273h0M535 380h0M593 370h0M531 268h0"/><path stroke="#25900b" stroke-width="6" d="M615 395h0M638 375h0M629 327v1M547 374h0"/><path stroke="#25900b" stroke-width="7" d="M495 362h0M507 327v1"/><path stroke="#25900b" stroke-width="8" d="M533 274v1M571 264v2M568 359v1M633 253v2"/><path stroke="#25900b" stroke-width="9" d="M615 392v1M622 353v2M577 290h0M621 325v1M546 376h0"/><path stroke="#289c0c" stroke-width="4" d="M618 296h0"/><path stroke="#289c0c" stroke-width="5" d="M627 259h0"/><path stroke="#289c0c" stroke-width="6" d="M560 335h0M652 391h0"/><path stroke="#289c0c" stroke-width="7" d="M638 270v1M555 316v1M541 350h0M577 406v1M497 298v1"/><path stroke="#289c0c" stroke-width="8" d="M553 325v1M523 406v1"/><path stroke="#289c0c" stroke-width="9" d="M558 333v1"/><path stroke="#2ba80d" stroke-width="4" d="M554 364h0M558 270h0M496 311h0"/><path stroke="#2ba80d" stroke-width="5" d="M555 259h0"/><path stroke="#2ba80d" stroke-width="6" d="M564 347h0"/><path stroke="#2ba80d" stroke-width="7" d="M555 257h0M508 337v1M625 257v1M591 271v1M534 382h0"/><path stroke="#2ba80d" stroke-width="8" d="M589 340h0M639 376v1M608 281v2M594 372v1M578 392v1M532 266h0"/><path stroke="#2ba80d" stroke-width="9" d="M583 380v1"/><path stroke="#2eb40e" stroke-width="5" d="M640 299h0M509 339h0M521 360h0M538 315h0"/><path stroke="#2eb40e" stroke-width="6" d="M521 378h0M556 362v1M581 301h0"/><path stroke="#2eb40e" stroke-width="7" d="M511 258h0M637 394v2M505 375v1M614 271v1M601 296v1"/><path stroke="#2eb40e" stroke-width="8" d="M567 346v1"/><path stroke="#31c00f" stroke-width="5" d="M521 264h0M643 254h0"/><path stroke="#31c00f" stroke-width="6" d="M641 298h0M618 297v2"/><path stroke="#31c00f" stroke-width="7" d="M523 266v1"/><path stroke="#31c00f" stroke-width="8" d="M650 389v1M499 288v2"/><path stroke="#31c00f" stroke-width="9" d="M512 315h0M578 300h0"/><path stroke="#35cc10" stroke-width="5" d="M512 298h0M511 291h0"/><path stroke="#35cc10" stroke-width="6" d="M556 268v1M497 309h0"/><path stroke="#35cc10" stroke-width="7" d="M643 256v1"/><path stroke="#35cc10" stroke-width="8" d="M557 280v1M650 277v1M547 297v1M501 402h0"/><path stroke="#35cc10" stroke-width="9" d="M624 286v1"/><path stroke="#38d811" stroke-width="5" d="M603 318h0"/><path stroke="#38d811" stroke-width="7" d="M514 296v1"/><path stroke="#38d811" stroke-width="8" d="M606 370v1M524 378v1M603 405v2M520 357v1M511 361v2"/><path stroke="#38d811" stroke-width="9" d="M585 400v1M511 349v1M507 409v1"/><path stroke="#3be412" stroke-width="6" d="M557 300h0"/><path stroke="#3be412" stroke-width="7" d="M592 303v1M605 318h0M538 316v1M509 291h0"/><path stroke="#3be412" stroke-width="8" d="M639 360v1"/><path stroke="#3be412" stroke-width="9" d="M546 386v1M503 276v2M558 296v2"/><path stroke="#3ef013" stroke-width="7" d="M570 330v1M497 271v2"/><path stroke="#124805" stroke-width="4" d="M575 253h0"/><path stroke="#186007" stroke-width="3" d="M647 342h0"/><path stroke="#1f7809" stroke-width="3" d="M568 302h0"/><path stroke="#22840a" stroke-width="3" d="M503 390h0"/><path stroke="#2eb40e" stroke-width="4" d="M618 313h0M615 392h0M578 290h0M568 360h0M620 326h0"/><path stroke="#31c00f" stroke-width="4" d="M533 275h0M570 265h0"/><path stroke="#35cc10" stroke-width="3" d="M637 270h0M556 315h0"/><path stroke="#38d811" stroke-width="3" d="M555 258h0M540 350h0"/><path stroke="#38d811" stroke-width="4" d="M578 392h0"/><path stroke="#3be412" stroke-width="3" d="M507 338h0"/><path stroke="#3ef013" stroke-width="3" d="M511 258h0M637 394h0M505 375h0M614 272h0"/><path stroke="#3ef013" stroke-width="4" d="M566 346h0"/><path stroke="#41fc14" stroke-width="3" d="M642 298h0M570 331h0M605 318h0M514 298h0M497 309h0"/><path stroke="#41fc14" stroke-width="4" d="M513 314h0M639 361h0M649 277h0M502 278h0M579 301h0M557 297h0"/></g></g><rect x="326" y="127" width="77" height="77" fill="#010501"/><g clip-path="url(#clip10)" filter="url(#blur)"><g transform="scale(.5)" fill="none" stroke-linecap="round"><path stroke="#030c00" stroke-width="9" d="M727 334h0"/><path stroke="#030c00" stroke-width="12" d="M747 265h0M715 306h0"/><path stroke="#061801" stroke-width="8" d="M777 314h0"/><path stroke="#061801" stroke-width="9" d="M718 387h0M693 260h0"/><path stroke="#061801" stroke-width="10" d="M694 331h0M773 256h0M762 290h0"/><path stroke="#092402" stroke-width="9" d="M800 288h0"/><path stroke="#092402" stroke-width="10" d="M671 275h0"/><path stroke="#092402" stroke-width="12" d="M788 387h0"/><path stroke="#0c3003" stroke-width="6" d="M778 336h0"/><path stroke="#0f3c04" stroke-width="5" d="M726 308h0"/><path stroke="#0f3c04" stroke-width="6" d="M773 390h0"/><path stroke="#0f3c04" stroke-width="7" d="M748 326v1M653 355v1"/><path stroke="#0f3c04" stroke-width="8" d="M778 339h0"/><path stroke="#0f3c04" stroke-width="9" d="M779 357v1"/><path stroke="#124805" stroke-width="5" d="M801 323h0M672 297h0"/><path stroke="#124805" stroke-width="6" d="M754 340h0"/><path stroke="#124805" stroke-width="7" d="M802 324v1M667 394v1"/><path stroke="#124805" stroke-width="8" d="M727 310h0M774 392h0M668 407v2"/><path stroke="#155406" stroke-width="6" d="M753 385h0M799 369h0"/><path stroke="#155406" stroke-width="7" d="M708 352v1M738 323v1M695 360v1"/><path stroke="#155406" stroke-width="8" d="M706 284v2M755 383v1"/><path stroke="#155406" stroke-width="9" d="M799 371v2"/><path stroke="#186007" stroke-width="6" d="M776 320h0"/><path stroke="#186007" stroke-width="7" d="M763 286v1M673 294v2"/><path stroke="#1c6c08" stroke-width="5" d="M708 405h0M687 265h0"/><path stroke="#1c6c08" stroke-width="6" d="M689 264v1"/><path stroke="#1c6c08" stroke-width="7" d="M759 255h0"/><path stroke="#1c6c08" stroke-width="8" d="M774 321v1"/><path stroke="#1c6c08" stroke-width="9" d="M760 252v1"/><path stroke="#1f7809" stroke-width="4" d="M652 387h0"/><path stroke="#1f7809" stroke-width="5" d="M763 295h0"/><path stroke="#1f7809" stroke-width="6" d="M803 310h0"/><path stroke="#22840a" stroke-width="5" d="M673 342h0"/><path stroke="#22840a" stroke-width="6" d="M707 403v1M741 335h0"/><path stroke="#22840a" stroke-width="7" d="M699 334v1"/><path stroke="#25900b" stroke-width="5" d="M713 304h0M686 312h0"/><path stroke="#25900b" stroke-width="6" d="M650 386h0M668 378h0M688 291h0"/><path stroke="#25900b" stroke-width="7" d="M788 266v1M761 296v1M677 374h0"/><path stroke="#25900b" stroke-width="8" d="M740 333v1"/><path stroke="#25900b" stroke-width="9" d="M806 309h0"/><path stroke="#289c0c" stroke-width="5" d="M784 299h0M675 373h0"/><path stroke="#289c0c" stroke-width="6" d="M770 266h0M787 373h0"/><path stroke="#289c0c" stroke-width="7" d="M715 304v1M687 310h0M673 339v2M805 279v2"/><path stroke="#289c0c" stroke-width="8" d="M759 306h0M728 336v1"/><path stroke="#289c0c" stroke-width="9" d="M665 268v2M661 330v1M656 378h0"/><path stroke="#2ba80d" stroke-width="5" d="M676 264h0"/><path stroke="#2ba80d" stroke-width="6" d="M656 404h0M738 376v1M661 367h0M725 358h0"/><path stroke="#2ba80d" stroke-width="8" d="M801 289v2M772 266v1M676 285h0M687 288v1"/><path stroke="#2ba80d" stroke-width="9" d="M684 333v2M659 366v1M727 359v2"/><path stroke="#2eb40e" stroke-width="5" d="M654 261h0"/><path stroke="#2eb40e" stroke-width="6" d="M734 351v1M752 373h0M707 252v1M728 402h0M719 330v1"/><path stroke="#2eb40e" stroke-width="7" d="M804 261h0M783 297v1"/><path stroke="#2eb40e" stroke-width="8" d="M665 377v1M687 372v2"/><path stroke="#2eb40e" stroke-width="9" d="M654 401v2M752 273v2"/><path stroke="#31c00f" stroke-width="5" d="M653 317h0M697 267h0"/><path stroke="#31c00f" stroke-width="6" d="M683 271h0M786 388v1"/><path stroke="#31c00f" stroke-width="7" d="M740 300v1M728 379h0M681 405v1M676 262h0"/><path stroke="#31c00f" stroke-width="8" d="M673 360h0M729 324h0"/><path stroke="#31c00f" stroke-width="9" d="M769 380v2"/><path stroke="#35cc10" stroke-width="5" d="M750 409h0"/><path stroke="#35cc10" stroke-width="6" d="M738 272h0"/><path stroke="#35cc10" stroke-width="7" d="M699 266v1"/><path stroke="#35cc10" stroke-width="8" d="M707 387v1M730 402v1"/><path stroke="#38d811" stroke-width="6" d="M796 351h0M739 283v1"/><path stroke="#38d811" stroke-width="7" d="M751 406h0"/><path stroke="#38d811" stroke-width="8" d="M652 314v2M751 373v2M652 262v1M719 349v1M693 287h0"/><path stroke="#38d811" stroke-width="9" d="M741 271v1M730 378h0"/><path stroke="#3be412" stroke-width="8" d="M803 394h0M804 335v1"/><path stroke="#3be412" stroke-width="9" d="M682 273h0M736 395v1M798 349v1"/><path stroke="#1c6c08" stroke-width="3" d="M738 323h0"/><path stroke="#1f7809" stroke-width="3" d="M673 295h0"/><path stroke="#25900b" stroke-width="4" d="M760 252h0M774 322h0"/><path stroke="#2ba80d" stroke-width="3" d="M707 403h0M699 333h0"/><path stroke="#31c00f" stroke-width="3" d="M787 267h0"/><path stroke="#31c00f" stroke-width="4" d="M759 307h0M728 336h0"/><path stroke="#35cc10" stroke-width="3" d="M716 304h0"/><path stroke="#38d811" stroke-width="3" d="M686 310h0"/><path stroke="#38d811" stroke-width="4" d="M727 359h0"/><path stroke="#3be412" stroke-width="3" d="M804 261h0"/><path stroke="#3be412" stroke-width="4" d="M659 367h0"/><path stroke="#3ef013" stroke-width="3" d="M707 252h0"/><path stroke="#3ef013" stroke-width="4" d="M666 377h0M687 373h0"/><path stroke="#41fc14" stroke-width="3" d="M785 388h0M651 262h0M803 394h0M681 406h0M738 282h0M675 263h0"/><path stroke="#41fc14" stroke-width="4" d="M706 388h0M674 359h0M736 395h0M719 350h0M694 287h0"/></g></g><rect x="14" y="205" width="77" height="77" fill="#010501"/><g clip-path="url(#clip11)" filter="url(#blur)"><g transform="scale(.5)" fill="none" stroke-linecap="round"><path stroke="#030c00" stroke-width="10" d="M38 424h0"/><path stroke="#061801" stroke-width="9" d="M82 435h0"/><path stroke="#061801" stroke-width="10" d="M64 487h0"/><path stroke="#061801" stroke-width="11" d="M73 466h0"/><path stroke="#061801" stroke-width="12" d="M173 556h0"/><path stroke="#092402" stroke-width="9" d="M69 494h0M115 431h0"/><path stroke="#092402" stroke-width="12" d="M110 467h0"/><path stroke="#0c3003" stroke-width="5" d="M126 562h0"/><path stroke="#0f3c04" stroke-width="5" d="M51 440h0M156 531h0"/><path stroke="#0f3c04" stroke-width="6" d="M86 412h0"/><path stroke="#0f3c04" stroke-width="7" d="M128 563v1M35 486v1M155 528v2"/><path stroke="#0f3c04" stroke-width="9" d="M87 409v1M90 507v2"/><path stroke="#124805" stroke-width="6" d="M92 507h0"/><path stroke="#124805" stroke-width="7" d="M53 440h0M90 459v1M97 558v1"/><path stroke="#124805" stroke-width="9" d="M37 472v1"/><path stroke="#155406" stroke-width="6" d="M159 514h0"/><path stroke="#155406" stroke-width="8" d="M69 489v1"/><path stroke="#155406" stroke-width="9" d="M165 440v2"/><path stroke="#186007" stroke-width="6" d="M68 492h0"/><path stroke="#186007" stroke-width="7" d="M62 425v1"/><path stroke="#1c6c08" stroke-width="5" d="M63 427h0"/><path stroke="#1c6c08" stroke-width="7" d="M143 533h0M26 546h0"/><path stroke="#1c6c08" stroke-width="8" d="M70 554v2M160 511v1M58 467h0"/><path stroke="#1f7809" stroke-width="5" d="M44 549h0"/><path stroke="#22840a" stroke-width="6" d="M136 415h0"/><path stroke="#22840a" stroke-width="7" d="M183 519v2M84 539v2"/><path stroke="#25900b" stroke-width="5" d="M54 529h0M53 566h0"/><path stroke="#25900b" stroke-width="6" d="M136 457h0M183 486h0M166 461h0"/><path stroke="#25900b" stroke-width="7" d="M42 547v1M55 527h0"/><path stroke="#25900b" stroke-width="8" d="M182 425v2"/><path stroke="#289c0c" stroke-width="5" d="M38 422h0"/><path stroke="#289c0c" stroke-width="6" d="M132 526h0M119 450h0M120 532h0M65 431h0M140 430h0"/><path stroke="#289c0c" stroke-width="7" d="M37 421v1"/><path stroke="#289c0c" stroke-width="8" d="M179 470v1M102 531v1"/><path stroke="#289c0c" stroke-width="9" d="M134 414h0M119 446v2M67 433h0M46 458h0"/><path stroke="#2ba80d" stroke-width="6" d="M28 450h0M79 518h0"/><path stroke="#2ba80d" stroke-width="7" d="M87 437v2M51 564v2"/><path stroke="#2ba80d" stroke-width="8" d="M165 459v1"/><path stroke="#2ba80d" stroke-width="9" d="M138 458v1M183 488v1M118 530v1"/><path stroke="#2eb40e" stroke-width="5" d="M75 425h0M153 522h0M51 501h0"/><path stroke="#2eb40e" stroke-width="6" d="M148 442v1"/><path stroke="#2eb40e" stroke-width="7" d="M170 541v1M151 522v2"/><path stroke="#2eb40e" stroke-width="8" d="M153 565v1M49 501v1M152 542h0"/><path stroke="#2eb40e" stroke-width="9" d="M85 451v1"/><path stroke="#31c00f" stroke-width="7" d="M92 426h0"/><path stroke="#31c00f" stroke-width="8" d="M76 427v1M132 442h0"/><path stroke="#31c00f" stroke-width="9" d="M134 523v1M81 519h0"/><path stroke="#35cc10" stroke-width="9" d="M116 492v2"/><path stroke="#38d811" stroke-width="5" d="M119 430h0"/><path stroke="#38d811" stroke-width="6" d="M92 478v1M60 484h0"/><path stroke="#38d811" stroke-width="7" d="M140 485v1"/><path stroke="#38d811" stroke-width="8" d="M58 485h0"/><path stroke="#3be412" stroke-width="6" d="M107 521h0"/><path stroke="#3be412" stroke-width="7" d="M118 428v1"/><path stroke="#3be412" stroke-width="9" d="M92 521h0"/><path stroke="#155406" stroke-width="3" d="M155 529h0"/><path stroke="#186007" stroke-width="3" d="M90 459h0M97 559h0"/><path stroke="#186007" stroke-width="4" d="M36 472h0"/><path stroke="#31c00f" stroke-width="4" d="M182 426h0M133 415h0"/><path stroke="#35cc10" stroke-width="3" d="M102 531h0"/><path stroke="#38d811" stroke-width="4" d="M118 531h0M165 460h0"/><path stroke="#3be412" stroke-width="4" d="M138 458h0"/><path stroke="#41fc14" stroke-width="3" d="M140 486h0M76 427h0M107 522h0"/><path stroke="#41fc14" stroke-width="4" d="M135 525h0"/></g></g><rect x="92" y="205" width="77" height="77" fill="#020a02"/><g clip-path="url(#clip12)" filter="url(#blur)"><g transform="scale(.5)" fill="none" stroke-linecap="round"><path stroke="#071801" stroke-width="10" d="M188 529h0"/><path stroke="#071801" stroke-width="11" d="M323 419h0M202 453h0M209 439h0"/><path stroke="#071801" stroke-width="12" d="M270 421h0M333 441h0M257 559h0"/><path stroke="#071801" stroke-width="13" d="M303 483h0M198 452h0"/><path stroke="#0a2402" stroke-width="10" d="M235 494h0M258 499h0M237 511h0M277 410h0"/><path stroke="#0a2402" stroke-width="11" d="M205 438h0M200 521h0M230 473h0M241 460h0M288 501h0"/><path stroke="#0a2402" stroke-width="12" d="M239 452h0M228 516h0M215 533h0M226 496h0"/><path stroke="#0a2402" stroke-width="14" d="M285 536h0M339 540h0M250 411h0"/><path stroke="#123c04" stroke-width="4" d="M245 543h0"/><path stroke="#123c04" stroke-width="5" d="M220 560h0M230 454h0M332 471h0M237 500v1M252 547h0"/><path stroke="#123c04" stroke-width="6" d="M246 490h0M232 544h0"/><path stroke="#123c04" stroke-width="8" d="M231 546h0"/><path stroke="#154805" stroke-width="4" d="M318 492h0M334 523h0M227 458h0"/><path stroke="#154805" stroke-width="5" d="M308 523v1M214 473h0M224 510h0M213 535h0M293 541h0M233 506h0M230 504h0"/><path stroke="#154805" stroke-width="6" d="M207 460v1M252 460h0M319 546h0M228 504h0M244 544h0"/><path stroke="#154805" stroke-width="7" d="M184 439v2M219 561h0M232 453v1M338 535h0"/><path stroke="#154805" stroke-width="8" d="M245 491v1M291 539v1M233 504h0M250 548h0"/><path stroke="#195406" stroke-width="4" d="M216 467h0M307 433h0M243 458h0M297 505h0M282 553h0M293 514h0M240 467h0M227 498h0M235 521h0M194 506h0M336 493h0M324 468h0"/><path stroke="#195406" stroke-width="5" d="M218 466v1M333 522v1M292 486h0M190 550h0M285 485h0M322 552v1M281 553h0M337 533h0M325 487h0M265 521h0M199 425h0"/><path stroke="#195406" stroke-width="6" d="M316 493h0M306 433h0M212 471v1M213 561h0M225 458v1M195 504v2M335 494h0M225 502h0M196 454h0"/><path stroke="#195406" stroke-width="7" d="M294 486h0M215 474v1M339 524h0M214 536v1M330 470v2M307 443v1M228 537v2M210 452v1"/><path stroke="#195406" stroke-width="8" d="M224 507v1M227 531v2"/><path stroke="#1c6007" stroke-width="4" d="M338 410h0M330 510h0M186 530h0M266 478h0M223 519h0M189 482h0M296 495h0M228 416h0M185 494h0M335 564h0"/><path stroke="#1c6007" stroke-width="5" d="M285 519h0M299 493h0M224 416h0M333 418v1M209 508h0M295 497h0M212 464h0M320 516h0M228 518h0M199 460h0M285 517v1M221 427h0M271 531h0M225 475h0M307 495h0M185 455v1M268 547h0M200 461h0M261 410h0M246 566h0"/><path stroke="#1c6007" stroke-width="6" d="M339 411h0M236 488h0M243 459v1M287 462h0M299 504v1M208 428v1M241 465v1M329 426v1M318 512v1M229 498v1M233 522v1M226 548h0M339 482v1M323 468h0"/><path stroke="#1c6007" stroke-width="7" d="M233 494v1M301 493v1M210 506v1M318 450v2M214 463v1M261 481v1M199 562v1M329 560h0M289 452h0M275 452v1M200 426v2M337 499v1"/><path stroke="#1c6007" stroke-width="8" d="M213 553v1M219 428v1M227 550v1M263 519v1"/><path stroke="#206c08" stroke-width="4" d="M260 500h0M318 424h0M321 497h0M301 564h0M317 433h0M322 563h0M234 533h0M335 422h0M295 545h0M333 492h0M341 482h0"/><path stroke="#206c08" stroke-width="5" d="M186 531v1M278 421v1M221 430h0M295 505h0M242 511h0M191 462h0M307 419h0M331 450h0M207 479h0M314 420h0M291 502h0M214 518h0M187 524h0M244 550h0M307 557h0M249 544v1M237 497h0M194 464h0M258 448h0M240 489h0M297 495h0"/><path stroke="#206c08" stroke-width="6" d="M332 508v1M279 495v1M321 477h0M252 416v1M222 517v1M290 438h0M303 564v1M303 459h0M185 517v1M291 426v1M294 515v1M283 441h0M209 561h0M185 491v1M313 546h0M336 423v1M296 432v1M319 460v1M333 490v1M278 441h0M246 500h0"/><path stroke="#206c08" stroke-width="7" d="M196 556v1M285 520v1M223 415v1M200 534h0M296 467v1M188 549v1M285 487v2M189 462v2M271 501v1M290 500h0M320 517v1M312 540h0M224 476v1M196 465v1M309 494h0M299 496h0M266 546h0M314 448v1M262 411v2M212 458h0M246 564v1"/><path stroke="#206c08" stroke-width="8" d="M289 462v2M186 507h0M225 563v1M247 430v2M211 490v2M239 492v1M274 519v1M224 449v1"/><path stroke="#247809" stroke-width="4" d="M229 411h0M263 462h0M310 532h0M242 428h0M226 483h0M278 564h0M271 497h0M296 448h0M307 454h0M234 413h0M215 453h0"/><path stroke="#247809" stroke-width="5" d="M218 436h0M280 449h0M190 515h0M293 456h0M338 478h0M303 538h0M318 456h0M300 408h0M203 526h0M255 443h0M278 566v1M302 536h0M257 548v1M235 470h0M245 509h0M322 496v1M303 554h0M219 543h0M251 468h0M220 419h0M334 527h0M206 537h0M301 490h0M326 467v1M237 491h0M216 444h0M239 564h0M202 545h0M300 537h0M209 552h0M262 533h0M249 473h0M205 497h0M187 494h0"/><path stroke="#247809" stroke-width="6" d="M258 433v1M259 499v1M299 514v1M262 460v1M236 498v1M301 539v1M267 476v1M241 427v1M284 431v1M290 445v1M269 496h0M190 481v1M306 543v1M269 471v1M229 414v1M320 561v1M315 441v1M257 563h0M317 560h0M297 543v1M307 538v1M334 566h0"/><path stroke="#247809" stroke-width="7" d="M237 542v1M190 516v1M326 408v2M320 456v2M223 430v1M299 501v1M295 502v1M247 487v1M250 468v1M322 428v1M218 417v2M208 536v1M300 487v2M215 519v1M276 485h0M201 543v1M309 556v1M300 512h0M239 496v1M222 474v1M264 534v1M284 444v1M202 472h0M263 419h0M257 446v2M242 487v1M213 411h0M232 529h0M202 461v1M288 540h0M189 493v1"/><path stroke="#247809" stroke-width="8" d="M278 450h0M224 538v1M263 491v1M291 435v1M305 460h0M298 521v2M305 420v1M208 481v1M263 451h0M312 421h0M211 562v1M273 434v1M255 480v1M240 566h0M267 460h0M201 462h0M310 545h0M234 472v2M268 439v2M335 475v1M259 557v2M337 549h0"/><path stroke="#27840a" stroke-width="4" d="M201 455h0M299 513h0M258 505h0M187 490h0M292 469h0M277 533h0M220 432h0M337 518h0M329 436h0M302 484h0M210 441h0M219 494h0M305 539h0M245 480h0M310 462h0"/><path stroke="#27840a" stroke-width="5" d="M332 537h0M216 506h0M190 500h0M205 516h0M268 564h0M271 465v1M221 510h0M258 502h0M255 438h0M253 512h0M261 450h0M238 458h0M296 567h0M327 450v1M273 454v1M187 422h0M255 549v1M249 507v1M274 409h0M268 484h0M193 437h0M186 540h0"/><path stroke="#27840a" stroke-width="6" d="M319 422v1M189 501v1M304 474h0M294 454v1M275 428h0M303 535v1M317 485h0M298 447v1M338 516v1M330 437v1M184 428v1M318 431h0M217 452v1M235 533v1M234 419v1M323 553v1M325 420v1M260 495h0M329 505v1M312 461h0"/><path stroke="#27840a" stroke-width="7" d="M331 539v1M240 558h0M202 523v1M183 509h0M220 479h0M244 506v1M274 480h0M302 555v2M243 513v1M330 451v1M188 526v1M338 557v1M246 549v1M203 411h0M270 415v1M320 425v2M186 423v1M271 450v2M214 481v1M201 515h0M236 421v1M232 416h0M202 552h0M267 482v1M336 493v1"/><path stroke="#27840a" stroke-width="8" d="M218 503v1M263 524v1M206 514v1M336 479h0M249 474v1M314 484v1M186 417h0M193 510v1M217 543v1M208 411v2M264 459v1M206 498v1"/><path stroke="#2b900b" stroke-width="4" d="M243 436h0M213 420h0M327 503h0M265 494h0M227 496h0M271 457h0M241 517h0M328 504h0"/><path stroke="#2b900b" stroke-width="5" d="M229 409v1M283 477h0M271 521h0M283 513h0M261 442v1M289 505h0M218 432h0M323 523h0M302 503h0M328 533h0M299 438v1M185 475h0M186 447h0M298 476h0M216 441h0M322 526h0M342 466h0M323 454h0M261 545h0M269 457v1M336 507h0M195 442h0M189 557h0M261 520h0M317 563h0"/><path stroke="#2b900b" stroke-width="6" d="M200 455v1M188 488h0M290 469v1M241 436v1M276 553v1M279 533v1M223 509v1M308 503v1M327 501h0M308 453v1M260 542h0M248 511h0M235 411v1M201 438v2M327 554v1M209 414h0M209 439v1M183 434h0M188 505v1M220 492h0M322 529v1M299 538v1M334 467h0"/><path stroke="#2b900b" stroke-width="7" d="M216 434v2M206 529v1M267 562v1M253 443v1M235 468h0M321 522v2M332 529h0M188 446v1M253 514v1M236 458v1M192 487v2M324 452v1M207 552h0M210 493v2"/><path stroke="#2b900b" stroke-width="8" d="M254 436v1M296 537v1M308 464v1M301 552h0M246 455v1M184 541v1"/><path stroke="#2e9c0c" stroke-width="4" d="M319 504h0M312 456h0M293 546h0M182 564h0M263 471h0M248 513h0M182 434h0M270 526h0M196 515h0"/><path stroke="#2e9c0c" stroke-width="5" d="M311 533h0M317 549h0M239 450h0M292 547h0M333 459h0M265 471v1M220 506h0M294 442v1M226 494v1M299 464h0M298 479h0M201 445h0"/><path stroke="#2e9c0c" stroke-width="6" d="M245 520v1M256 505h0M230 450v1M189 439v1M321 504h0M269 539h0M226 484v1M184 564v1M303 482v1M266 492v1M310 472h0M268 527v1M306 514v1M302 550h0M198 515v1M249 458h0M241 518v1M264 464v1M244 428v1M244 479v1"/><path stroke="#2e9c0c" stroke-width="7" d="M270 519v1M202 430v1M290 507h0M260 503h0M215 447v1M304 502v1M298 474h0M285 411v1M295 565h0M298 462h0M290 527h0M300 478v1M203 444v1M260 542v2M275 410v1M259 520h0M333 552v1"/><path stroke="#2e9c0c" stroke-width="8" d="M284 475v1M208 563v1M283 511h0M235 507v1M336 508v2M187 557v2"/><path stroke="#32a80d" stroke-width="4" d="M297 527h0M316 555h0M289 545h0M330 488h0M282 554h0M287 448h0M218 501h0M219 485h0"/><path stroke="#32a80d" stroke-width="5" d="M318 464h0M272 490h0M198 494h0M290 412v1M197 424h0M283 554v1M288 491h0"/><path stroke="#32a80d" stroke-width="6" d="M273 441h0M314 554h0M313 457h0M260 453h0M212 421v1M218 513v1M257 491h0M336 430v1M252 520h0M240 505v1M279 525h0M325 474h0"/><path stroke="#32a80d" stroke-width="7" d="M323 524v1M295 557h0M277 543v2M336 456v1M243 423v1M257 541v1"/><path stroke="#32a80d" stroke-width="8" d="M233 538v1M257 516v1M331 459v2M262 453v2M250 451v2M326 533v1M186 472v1M339 465v1M320 414h0M262 492v2"/><path stroke="#36b40e" stroke-width="4" d="M269 550h0M190 430h0"/><path stroke="#36b40e" stroke-width="5" d="M232 537h0M291 524h0M220 483v1M329 488v1M332 518h0M205 540h0M255 542h0"/><path stroke="#36b40e" stroke-width="6" d="M196 441v1M241 417v1M326 560h0M205 454v1M267 551v1M340 408h0M218 498h0M286 449v1M261 486v1M219 502v1M219 486v1"/><path stroke="#36b40e" stroke-width="7" d="M280 522v1M273 491v1M290 523v1M330 516h0M285 479v1"/><path stroke="#36b40e" stroke-width="8" d="M221 504v1M197 421v1M277 472v2M189 415v2M192 441v1M293 477v1M326 475v1"/><path stroke="#39c00f" stroke-width="4" d="M283 498h0"/><path stroke="#39c00f" stroke-width="5" d="M288 546v1M278 521h0M283 547h0M284 499v1"/><path stroke="#39c00f" stroke-width="6" d="M198 412h0M297 525v1M258 463v1M192 430v1M277 475h0"/><path stroke="#39c00f" stroke-width="7" d="M186 469h0M282 544v2M239 527v1M204 542v1"/><path stroke="#195406" stroke-width="2" d="M236 501h0"/><path stroke="#195406" stroke-width="3" d="M251 548h0"/><path stroke="#195406" stroke-width="4" d="M230 546h0"/><path stroke="#1c6007" stroke-width="3" d="M207 461h0M219 561h0M232 454h0M291 540h0M319 547h0M244 544h0"/><path stroke="#206c08" stroke-width="2" d="M306 432h0M282 555h0"/><path stroke="#206c08" stroke-width="3" d="M226 459h0M196 454h0"/><path stroke="#247809" stroke-width="2" d="M334 419h0M295 496h0"/><path stroke="#247809" stroke-width="3" d="M339 412h0M236 489h0M214 561h0M200 564h0M219 428h0M274 452h0M209 452h0"/><path stroke="#27840a" stroke-width="2" d="M278 422h0M228 519h0"/><path stroke="#27840a" stroke-width="3" d="M187 549h0M207 429h0M261 482h0M335 423h0M265 546h0M200 427h0"/><path stroke="#27840a" stroke-width="4" d="M274 519h0"/><path stroke="#2b900b" stroke-width="2" d="M186 531h0M249 545h0"/><path stroke="#2b900b" stroke-width="3" d="M223 415h0M200 534h0M225 565h0M246 430h0M292 427h0M207 536h0M290 501h0M239 492h0M308 494h0M299 496h0"/><path stroke="#2b900b" stroke-width="4" d="M290 463h0"/><path stroke="#2e9c0c" stroke-width="2" d="M240 427h0M279 566h0"/><path stroke="#2e9c0c" stroke-width="3" d="M235 498h0M223 430h0M299 502h0M270 496h0M295 503h0M307 542h0M264 452h0M320 562h0M300 489h0M215 519h0M233 473h0M201 472h0M263 419h0"/><path stroke="#2e9c0c" stroke-width="4" d="M212 562h0M255 481h0"/><path stroke="#32a80d" stroke-width="2" d="M271 465h0M327 467h0M327 450h0M257 562h0M249 508h0"/><path stroke="#32a80d" stroke-width="3" d="M298 514h0M294 453h0M337 479h0M301 539h0M241 558h0M276 427h0M216 453h0M236 535h0M319 426h0M271 451h0M324 553h0M202 515h0M301 513h0M232 416h0M232 528h0M267 481h0"/><path stroke="#32a80d" stroke-width="4" d="M208 413h0"/><path stroke="#36b40e" stroke-width="3" d="M264 525h0M291 469h0M182 509h0M244 506h0M187 526h0M236 422h0M329 507h0M336 494h0"/><path stroke="#36b40e" stroke-width="4" d="M314 485h0M185 417h0M307 464h0"/><path stroke="#39c00f" stroke-width="2" d="M310 534h0M262 443h0M217 433h0M216 440h0M270 458h0"/><path stroke="#39c00f" stroke-width="3" d="M217 435h0M187 489h0M308 502h0M260 503h0M260 542h0M237 458h0M201 438h0M295 565h0M210 439h0M325 452h0M300 538h0"/><path stroke="#3dcc10" stroke-width="2" d="M226 495h0"/><path stroke="#3dcc10" stroke-width="3" d="M245 521h0M257 505h0M284 511h0M201 431h0M303 503h0M266 492h0M290 527h0M300 478h0M248 458h0M241 519h0M265 464h0M274 410h0"/><path stroke="#3dcc10" stroke-width="4" d="M285 476h0M208 563h0"/><path stroke="#40d811" stroke-width="2" d="M290 413h0M244 479h0"/><path stroke="#40d811" stroke-width="3" d="M272 441h0M314 554h0M258 516h0M330 459h0M296 558h0M259 520h0M257 542h0"/><path stroke="#40d811" stroke-width="4" d="M263 454h0M261 493h0"/><path stroke="#44e412" stroke-width="2" d="M198 495h0"/><path stroke="#44e412" stroke-width="3" d="M268 551h0M197 422h0M251 520h0M220 502h0"/><path stroke="#44e412" stroke-width="4" d="M233 540h0"/><path stroke="#48f013" stroke-width="3" d="M222 504h0M330 517h0M261 487h0M192 443h0"/><path stroke="#48f013" stroke-width="4" d="M277 474h0"/><path stroke="#4bfc14" stroke-width="2" d="M288 547h0"/><path stroke="#4bfc14" stroke-width="3" d="M199 412h0"/></g></g><rect x="170" y="205" width="77" height="77" fill="#020a02"/><g clip-path="url(#clip13)" filter="url(#blur)"><g transform="scale(.5)" fill="none" stroke-linecap="round"><path stroke="#071801" stroke-width="10" d="M424 428h0"/><path stroke="#071801" stroke-width="12" d="M443 428h0"/><path stroke="#071801" stroke-width="13" d="M464 514h0M363 429h0M488 496h0M452 560h0M436 557h0"/><path stroke="#0a2402" stroke-width="10" d="M424 530h0M461 482h0"/><path stroke="#0a2402" stroke-width="11" d="M382 420h0M409 446h0M414 553h0M412 431h0"/><path stroke="#0a2402" stroke-width="12" d="M341 410h0M346 459h0"/><path stroke="#0a2402" stroke-width="14" d="M417 558h0M485 466h0M471 507h0"/><path stroke="#0e3003" stroke-width="5" d="M390 547h0"/><path stroke="#123c04" stroke-width="4" d="M340 447h0"/><path stroke="#123c04" stroke-width="5" d="M376 458h0M368 531v1"/><path stroke="#123c04" stroke-width="6" d="M450 415v1M411 413h0"/><path stroke="#123c04" stroke-width="8" d="M390 544v2M496 428v1"/><path stroke="#154805" stroke-width="4" d="M473 439h0M347 502h0M443 471h0M470 532h0M417 412h0M471 425h0M487 518h0M443 414h0M386 452h0"/><path stroke="#154805" stroke-width="5" d="M463 437h0M360 506h0M478 408h0M486 518h0M366 523h0M483 470h0M379 565h0M488 413h0"/><path stroke="#154805" stroke-width="6" d="M472 439v1M491 537v1M376 434v1M354 442h0M472 531h0M342 446v1M442 413h0M415 474h0M423 514h0"/><path stroke="#154805" stroke-width="7" d="M435 434v1M490 486v1M479 513v1M476 409v1M420 435v2M483 472v1M406 483v1"/><path stroke="#154805" stroke-width="8" d="M375 460v1M394 559v1"/><path stroke="#195406" stroke-width="4" d="M457 454h0M410 513h0M348 466h0M403 543h0M437 547h0M399 560h0M383 437h0M361 533h0M403 450h0M454 517h0M487 412h0M351 502h0"/><path stroke="#195406" stroke-width="5" d="M384 541h0M404 528h0M386 478h0M480 512h0M351 491h0M484 537h0M438 460h0M490 530h0M428 424h0M430 417h0"/><path stroke="#195406" stroke-width="6" d="M483 470h0M348 500v1M443 472v1M409 511v1M350 464v1M417 409v1M403 541h0M477 516v1M470 427h0M389 531v1M398 561v1M343 422h0M429 452v1M363 532v1M387 453h0M489 448v1M352 503h0"/><path stroke="#195406" stroke-width="7" d="M400 501v2M462 439h0M358 506v1M429 473h0M468 473h0M367 524v1M381 565v1M352 556v1M426 425v1M431 418v2"/><path stroke="#195406" stroke-width="8" d="M382 540v1M353 522h0M459 461v1M440 460h0M417 560v2"/><path stroke="#1c6007" stroke-width="4" d="M456 516h0M478 541h0M374 495h0M344 482h0M424 474h0"/><path stroke="#1c6007" stroke-width="5" d="M495 414v1M491 441h0M480 410h0M411 534h0M436 555h0M437 428h0M357 424h0M390 490h0M452 517h0M391 512h0M402 460h0M432 515h0M421 462h0M451 468h0"/><path stroke="#1c6007" stroke-width="6" d="M372 563v1M459 453v1M468 541h0M344 438h0M437 545h0M410 517h0M488 425h0M404 448v1M389 498h0"/><path stroke="#1c6007" stroke-width="7" d="M481 411v1M388 477v1M411 531v1M483 551v1M482 561v1M448 547v1M389 488v1M488 530v1M398 530h0M433 513v1"/><path stroke="#1c6007" stroke-width="8" d="M492 438v1M484 471v1M455 442v1M400 554h0M358 462h0"/><path stroke="#206c08" stroke-width="4" d="M369 467h0M354 449h0M468 413h0M342 457h0"/><path stroke="#206c08" stroke-width="5" d="M367 492v1M454 516h0M402 485h0M386 503h0M459 468h0M402 440h0M383 449h0M402 437h0M398 523h0M479 549h0M417 428h0M381 437h0M409 564h0M356 461h0M472 541h0M444 540v1M423 474v1"/><path stroke="#206c08" stroke-width="6" d="M410 464h0M362 470h0M477 543h0M349 413h0M373 496v1M370 465h0M353 450v1M469 413v1M345 480h0M341 454v1"/><path stroke="#206c08" stroke-width="7" d="M419 502v2M454 487h0M496 440h0M381 448v1M371 482v1"/><path stroke="#206c08" stroke-width="8" d="M436 536v1M404 529h0M434 555h0M377 443v1M483 539v1M478 551h0M490 426v1M427 438v2"/><path stroke="#247809" stroke-width="4" d="M414 424h0M392 483h0M341 565h0M344 515h0M348 412h0M430 490h0M439 458h0M381 508h0M465 442h0M351 545h0M388 417h0M396 474h0M442 542h0"/><path stroke="#247809" stroke-width="5" d="M482 506h0M414 422v1M379 470v1M413 465v1M430 491v1M463 518h0M410 538h0M456 530h0M348 524h0M434 504h0M385 504h0M462 479v1M450 497h0M349 493h0M438 444h0"/><path stroke="#247809" stroke-width="6" d="M384 544h0M434 522v1M490 508h0M404 442h0M373 544h0M421 464h0M438 457h0M362 564v1M357 497v1M351 546v1M347 532v1M470 507v1M398 472v1M408 432h0M385 432v1M474 464v1M454 552v1"/><path stroke="#247809" stroke-width="7" d="M444 451v1M401 487v1M387 501v1M385 508h0M379 418v1M461 519v1M419 451v1M396 524v1M440 535v1M409 448v1M423 417v1M358 422v1M378 451v1M375 519v1M478 469v1M378 546v1M350 494v2M392 510h0M400 459h0M468 509v1M423 461v1"/><path stroke="#247809" stroke-width="8" d="M409 461v2M464 556v1M358 521v1M345 439v2M423 465h0M495 546v2M439 426v2M419 426v1M428 521h0M495 552h0"/><path stroke="#27840a" stroke-width="4" d="M477 454h0M455 436h0M429 532h0M388 428h0M485 511h0M450 502h0M347 407h0M337 466h0M496 536h0"/><path stroke="#27840a" stroke-width="5" d="M463 502v1M426 479h0M342 564h0M382 497h0M423 542h0M408 522h0M484 489h0M442 494v1M427 496h0M483 423h0M392 497h0M430 450h0"/><path stroke="#27840a" stroke-width="6" d="M476 454v2M453 435v1M427 531h0M401 548v1M344 513v1M476 416v2M494 481h0M465 439v1M454 451v1M388 480h0M387 415v1M449 503v1M412 525h0"/><path stroke="#27840a" stroke-width="7" d="M359 549v1M419 487v1M411 539v1M392 428v2M348 521v2M461 413v2M391 498v1M407 564h0M474 539v1M440 444v1M391 540v1"/><path stroke="#27840a" stroke-width="8" d="M402 535v2M473 479v1M469 550h0M484 424h0M439 486v2M386 481h0M490 421h0M462 544h0"/><path stroke="#2b900b" stroke-width="4" d="M416 433h0M435 463h0M464 566h0M485 479h0M411 553h0M415 506h0"/><path stroke="#2b900b" stroke-width="5" d="M361 449h0M392 481h0M441 417h0M433 462v1M398 434h0M406 409h0M414 480h0M402 511h0M393 427h0M390 443v1M362 429h0M479 509h0M464 447h0M369 424v1M396 536h0M442 548h0M435 446h0"/><path stroke="#2b900b" stroke-width="6" d="M484 505v1M364 542v1M438 431h0M378 448h0M343 491v1M411 551v1M379 507h0M441 484h0M386 427h0M340 545v1M346 408h0M488 531h0"/><path stroke="#2b900b" stroke-width="7" d="M441 505v1M457 468v1M407 415h0M414 482v1M436 504v1M392 437h0M432 448v2M448 513v1"/><path stroke="#2b900b" stroke-width="8" d="M384 541v1M477 523v2M437 531h0M495 554h0M415 441v1M454 528v2M385 500v2M438 444v1"/><path stroke="#2e9c0c" stroke-width="4" d="M421 525h0M405 426h0M413 409h0M441 482h0M397 425h0M408 469h0"/><path stroke="#2e9c0c" stroke-width="5" d="M439 504h0M425 530v1M344 496v1M469 561h0M439 446h0M464 565v1M424 544h0M412 470h0M344 482h0M345 559h0M406 520h0M346 510h0M449 536h0"/><path stroke="#2e9c0c" stroke-width="6" d="M362 446v1M495 446h0M417 431h0M410 490v1M353 485v1M407 427h0M346 566h0M405 454h0M483 510v1M407 521v1M397 423v1M449 481v1M378 556v1M338 467v1M407 466v1"/><path stroke="#2e9c0c" stroke-width="7" d="M426 476v2M397 435v2M424 539v1M406 522v2M482 488v1M384 462v1M493 495v1M399 444v1M394 537v1M452 496v1M444 549v1"/><path stroke="#2e9c0c" stroke-width="8" d="M397 458h0M439 448v1M436 430v2M430 496v1M491 531h0"/><path stroke="#32a80d" stroke-width="4" d="M393 465h0M367 429h0M406 453h0M467 458h0"/><path stroke="#32a80d" stroke-width="5" d="M470 466h0M371 420h0M485 477v1M459 530h0M495 537h0"/><path stroke="#32a80d" stroke-width="6" d="M433 430h0M429 413h0M346 540v1M371 549h0M425 554v1M454 564v1M413 410v1M385 558h0M415 504v1M463 489h0"/><path stroke="#32a80d" stroke-width="7" d="M471 558v2M485 520v1M404 408v1M401 512h0M360 413v1M361 480v1M358 490v1M345 507v1"/><path stroke="#32a80d" stroke-width="8" d="M439 418h0M379 450h0M462 446h0M366 440v1M368 508v1M465 488h0"/><path stroke="#36b40e" stroke-width="4" d="M372 411h0M484 497h0"/><path stroke="#36b40e" stroke-width="5" d="M367 431h0M373 452h0"/><path stroke="#36b40e" stroke-width="6" d="M421 523v1M374 412v1M395 464v1M445 554v1M466 460v1M486 496h0"/><path stroke="#36b40e" stroke-width="7" d="M472 465v1M426 544v1M413 471h0M375 450v1M370 435h0"/><path stroke="#36b40e" stroke-width="8" d="M368 419v1M347 563v2M447 536v2"/><path stroke="#39c00f" stroke-width="4" d="M374 524h0M479 434h0"/><path stroke="#39c00f" stroke-width="5" d="M371 420h0"/><path stroke="#39c00f" stroke-width="6" d="M419 565v1M376 525h0M478 432v1"/><path stroke="#39c00f" stroke-width="7" d="M470 408v1M461 531v1M346 482v1M347 558v1"/><path stroke="#39c00f" stroke-width="8" d="M490 473v1"/><path stroke="#3dcc10" stroke-width="6" d="M445 465v1"/><path stroke="#1c6007" stroke-width="2" d="M415 475h0M489 414h0"/><path stroke="#1c6007" stroke-width="3" d="M376 435h0M491 485h0M479 514h0M419 435h0M482 472h0M422 514h0"/><path stroke="#206c08" stroke-width="2" d="M352 492h0M364 533h0"/><path stroke="#206c08" stroke-width="3" d="M348 501h0M381 541h0M444 472h0M418 411h0M426 425h0M432 419h0"/><path stroke="#247809" stroke-width="3" d="M400 501h0M412 532h0M468 540h0M389 532h0M433 514h0"/><path stroke="#247809" stroke-width="4" d="M352 523h0M399 554h0"/><path stroke="#27840a" stroke-width="2" d="M452 518h0M423 475h0"/><path stroke="#27840a" stroke-width="3" d="M404 529h0M371 482h0M484 540h0M405 448h0"/><path stroke="#27840a" stroke-width="4" d="M358 463h0"/><path stroke="#2b900b" stroke-width="2" d="M381 437h0"/><path stroke="#2b900b" stroke-width="3" d="M437 536h0M363 471h0M434 556h0M496 440h0M381 448h0"/><path stroke="#2b900b" stroke-width="4" d="M489 425h0"/><path stroke="#2e9c0c" stroke-width="2" d="M413 423h0M431 492h0"/><path stroke="#2e9c0c" stroke-width="3" d="M443 451h0M490 508h0M403 442h0M438 456h0M396 524h0M438 427h0M419 426h0M357 497h0M378 452h0M470 507h0M428 522h0M391 510h0M400 459h0M385 432h0"/><path stroke="#2e9c0c" stroke-width="4" d="M409 462h0M463 556h0"/><path stroke="#32a80d" stroke-width="2" d="M351 547h0"/><path stroke="#32a80d" stroke-width="3" d="M474 540h0M463 543h0"/><path stroke="#32a80d" stroke-width="4" d="M472 479h0"/><path stroke="#36b40e" stroke-width="2" d="M443 494h0"/><path stroke="#36b40e" stroke-width="3" d="M343 514h0M414 482h0M454 529h0M493 482h0M439 488h0M432 448h0"/><path stroke="#36b40e" stroke-width="4" d="M484 424h0"/><path stroke="#39c00f" stroke-width="2" d="M393 482h0"/><path stroke="#39c00f" stroke-width="3" d="M417 432h0M408 415h0M492 495h0M380 507h0M385 427h0M340 546h0M438 444h0"/><path stroke="#39c00f" stroke-width="4" d="M477 523h0"/><path stroke="#3dcc10" stroke-width="2" d="M353 485h0"/><path stroke="#3dcc10" stroke-width="3" d="M406 455h0M484 511h0"/><path stroke="#40d811" stroke-width="2" d="M486 477h0"/><path stroke="#40d811" stroke-width="3" d="M485 521h0M396 435h0M372 550h0M413 411h0M430 497h0M385 558h0"/><path stroke="#40d811" stroke-width="4" d="M378 450h0M465 489h0"/><path stroke="#44e412" stroke-width="2" d="M367 431h0"/><path stroke="#44e412" stroke-width="3" d="M395 464h0M425 555h0"/><path stroke="#44e412" stroke-width="4" d="M347 565h0"/><path stroke="#48f013" stroke-width="3" d="M471 465h0M419 564h0M466 459h0"/><path stroke="#48f013" stroke-width="4" d="M368 420h0"/><path stroke="#4bfc14" stroke-width="3" d="M461 533h0M347 558h0M479 433h0"/></g></g><rect x="248" y="205" width="77" height="77" fill="#010501"/><g clip-path="url(#clip14)" filter="url(#blur)"><g transform="scale(.5)" fill="none" stroke-linecap="round"><path stroke="#030c00" stroke-width="9" d="M495 497h0"/><path stroke="#030c00" stroke-width="11" d="M567 493h0"/><path stroke="#061801" stroke-width="8" d="M528 561h0M558 441h0M554 475h0"/><path stroke="#061801" stroke-width="9" d="M504 432h0"/><path stroke="#061801" stroke-width="11" d="M599 442h0M616 466h0"/><path stroke="#092402" stroke-width="9" d="M597 483h0"/><path stroke="#092402" stroke-width="10" d="M586 439h0M624 515h0"/><path stroke="#0c3003" stroke-width="5" d="M626 453h0"/><path stroke="#0c3003" stroke-width="6" d="M527 515v1M515 547h0"/><path stroke="#0c3003" stroke-width="7" d="M625 452v1"/><path stroke="#0f3c04" stroke-width="7" d="M546 434v1M645 430v1"/><path stroke="#0f3c04" stroke-width="8" d="M651 499v2"/><path stroke="#0f3c04" stroke-width="9" d="M514 548v1"/><path stroke="#124805" stroke-width="6" d="M556 525h0M507 508h0"/><path stroke="#124805" stroke-width="7" d="M582 431v2M582 493v1M523 507h0"/><path stroke="#155406" stroke-width="4" d="M604 483h0"/><path stroke="#155406" stroke-width="6" d="M604 481h0"/><path stroke="#155406" stroke-width="7" d="M560 499h0"/><path stroke="#155406" stroke-width="8" d="M506 506v1"/><path stroke="#155406" stroke-width="9" d="M557 527v2"/><path stroke="#186007" stroke-width="5" d="M558 406h0"/><path stroke="#186007" stroke-width="7" d="M579 452h0"/><path stroke="#186007" stroke-width="8" d="M557 408h0"/><path stroke="#1c6c08" stroke-width="5" d="M544 459h0"/><path stroke="#1c6c08" stroke-width="6" d="M551 419h0"/><path stroke="#1c6c08" stroke-width="8" d="M542 459v2"/><path stroke="#1c6c08" stroke-width="9" d="M549 417v1"/><path stroke="#1f7809" stroke-width="5" d="M603 564h0M585 446h0"/><path stroke="#1f7809" stroke-width="6" d="M632 544h0M604 416h0"/><path stroke="#22840a" stroke-width="6" d="M504 544h0M611 464v2M616 499v1"/><path stroke="#22840a" stroke-width="8" d="M605 413v2"/><path stroke="#22840a" stroke-width="9" d="M634 546h0M505 546v2"/><path stroke="#25900b" stroke-width="4" d="M644 555h0"/><path stroke="#25900b" stroke-width="5" d="M581 526h0M571 564h0"/><path stroke="#25900b" stroke-width="6" d="M646 555h0M569 513h0M618 466h0"/><path stroke="#25900b" stroke-width="7" d="M603 562v1M581 523v1M572 566h0M575 534h0M587 444h0"/><path stroke="#25900b" stroke-width="8" d="M531 427v1"/><path stroke="#25900b" stroke-width="9" d="M571 515h0M494 522v1"/><path stroke="#289c0c" stroke-width="5" d="M654 480h0"/><path stroke="#289c0c" stroke-width="6" d="M519 460h0M523 486v1M535 506h0"/><path stroke="#289c0c" stroke-width="7" d="M569 408h0"/><path stroke="#289c0c" stroke-width="8" d="M496 448v1M612 536v2M558 472v1"/><path stroke="#289c0c" stroke-width="9" d="M636 478v1M583 546v2M531 447v2"/><path stroke="#2ba80d" stroke-width="6" d="M651 565h0M540 542h0"/><path stroke="#2ba80d" stroke-width="9" d="M617 468v2"/><path stroke="#2eb40e" stroke-width="4" d="M512 416h0"/><path stroke="#2eb40e" stroke-width="6" d="M511 414v2M546 487h0"/><path stroke="#2eb40e" stroke-width="7" d="M522 563h0"/><path stroke="#2eb40e" stroke-width="8" d="M543 542h0M538 471v2M519 533v2"/><path stroke="#2eb40e" stroke-width="9" d="M599 449v2M649 411v2M570 410v2"/><path stroke="#31c00f" stroke-width="5" d="M521 536h0"/><path stroke="#31c00f" stroke-width="6" d="M646 530h0"/><path stroke="#31c00f" stroke-width="7" d="M548 466h0M634 440v1M517 445v1M588 563h0M520 453v1M561 459v1"/><path stroke="#31c00f" stroke-width="8" d="M634 410v1M530 548v1M651 481v1M649 565v1M535 508v2"/><path stroke="#31c00f" stroke-width="9" d="M518 461v2"/><path stroke="#35cc10" stroke-width="6" d="M632 515h0M533 547h0M607 425h0M538 532h0M564 436h0"/><path stroke="#35cc10" stroke-width="7" d="M517 517v1"/><path stroke="#35cc10" stroke-width="8" d="M575 473h0M605 426h0M536 533v1"/><path stroke="#38d811" stroke-width="5" d="M510 491h0M504 467h0M554 547h0"/><path stroke="#38d811" stroke-width="6" d="M647 447v1"/><path stroke="#38d811" stroke-width="7" d="M502 465v1M618 561h0"/><path stroke="#38d811" stroke-width="8" d="M509 493h0"/><path stroke="#38d811" stroke-width="9" d="M631 517h0M547 483v2M519 561v1"/><path stroke="#3be412" stroke-width="5" d="M619 564h0"/><path stroke="#3be412" stroke-width="7" d="M599 509v1M552 546v1"/><path stroke="#3be412" stroke-width="8" d="M643 529v2M565 437v2M552 509v1"/><path stroke="#3be412" stroke-width="9" d="M501 557h0M630 494v1"/><path stroke="#155406" stroke-width="3" d="M546 434h0"/><path stroke="#186007" stroke-width="3" d="M523 506h0"/><path stroke="#1c6c08" stroke-width="3" d="M560 498h0M604 482h0"/><path stroke="#2eb40e" stroke-width="4" d="M606 414h0M505 546h0"/><path stroke="#31c00f" stroke-width="3" d="M604 562h0M581 523h0"/><path stroke="#31c00f" stroke-width="4" d="M571 514h0"/><path stroke="#35cc10" stroke-width="3" d="M523 486h0"/><path stroke="#35cc10" stroke-width="4" d="M637 480h0M613 537h0"/><path stroke="#38d811" stroke-width="4" d="M618 468h0"/><path stroke="#3be412" stroke-width="4" d="M599 450h0"/><path stroke="#3ef013" stroke-width="3" d="M548 467h0"/><path stroke="#3ef013" stroke-width="4" d="M635 411h0M518 534h0"/><path stroke="#41fc14" stroke-width="3" d="M502 466h0M651 481h0M516 447h0M553 510h0"/><path stroke="#41fc14" stroke-width="4" d="M531 549h0M630 495h0M649 565h0M536 533h0M565 439h0"/></g></g><rect x="326" y="205" width="77" height="77" fill="#010501"/><g clip-path="url(#clip15)" filter="url(#blur)"><g transform="scale(.5)" fill="none" stroke-linecap="round"><path stroke="#061801" stroke-width="9" d="M671 537h0"/><path stroke="#061801" stroke-width="11" d="M681 421h0M701 564h0M687 477h0"/><path stroke="#061801" stroke-width="12" d="M792 548h0"/><path stroke="#092402" stroke-width="8" d="M680 438h0"/><path stroke="#092402" stroke-width="9" d="M705 522h0"/><path stroke="#092402" stroke-width="10" d="M752 417h0M770 485h0"/><path stroke="#0c3003" stroke-width="5" d="M652 524h0"/><path stroke="#0f3c04" stroke-width="6" d="M792 502v1"/><path stroke="#0f3c04" stroke-width="7" d="M651 526v2M687 494v2"/><path stroke="#0f3c04" stroke-width="9" d="M679 502h0M715 413h0"/><path stroke="#124805" stroke-width="6" d="M807 458v1"/><path stroke="#124805" stroke-width="7" d="M725 512v1"/><path stroke="#124805" stroke-width="9" d="M686 460v2"/><path stroke="#155406" stroke-width="5" d="M708 541h0"/><path stroke="#155406" stroke-width="6" d="M695 433v1"/><path stroke="#186007" stroke-width="6" d="M742 562v1"/><path stroke="#186007" stroke-width="7" d="M709 542v1"/><path stroke="#186007" stroke-width="8" d="M783 488h0M650 489h0"/><path stroke="#1c6c08" stroke-width="5" d="M698 525h0"/><path stroke="#1c6c08" stroke-width="7" d="M700 524v1"/><path stroke="#1c6c08" stroke-width="8" d="M718 532h0"/><path stroke="#1f7809" stroke-width="6" d="M729 438h0"/><path stroke="#22840a" stroke-width="5" d="M712 458h0"/><path stroke="#22840a" stroke-width="6" d="M787 561h0M739 456h0M778 439h0M798 562h0"/><path stroke="#22840a" stroke-width="7" d="M791 439v1M690 563v1M665 516v1"/><path stroke="#22840a" stroke-width="8" d="M808 417v1M712 460v1M730 440v1"/><path stroke="#22840a" stroke-width="9" d="M787 559h0M751 498v1M807 510v1"/><path stroke="#25900b" stroke-width="4" d="M737 411h0"/><path stroke="#25900b" stroke-width="5" d="M805 488h0M667 465h0"/><path stroke="#25900b" stroke-width="6" d="M651 561h0M678 478v1M703 507h0M809 512h0M700 468h0"/><path stroke="#25900b" stroke-width="7" d="M745 470v1M665 466v1"/><path stroke="#25900b" stroke-width="8" d="M674 458h0"/><path stroke="#25900b" stroke-width="9" d="M776 437v1M801 562v2M703 466h0"/><path stroke="#289c0c" stroke-width="6" d="M764 500h0M658 541v1"/><path stroke="#289c0c" stroke-width="8" d="M740 458v1M759 513v1"/><path stroke="#2ba80d" stroke-width="5" d="M769 474h0"/><path stroke="#2ba80d" stroke-width="6" d="M713 436h0M735 412v1"/><path stroke="#2ba80d" stroke-width="7" d="M807 489v1M745 519v1M688 413h0"/><path stroke="#2ba80d" stroke-width="8" d="M653 561v1M713 422v1"/><path stroke="#2eb40e" stroke-width="4" d="M766 435h0M699 496h0"/><path stroke="#2eb40e" stroke-width="5" d="M690 413h0"/><path stroke="#2eb40e" stroke-width="7" d="M769 476h0M665 551v1"/><path stroke="#2eb40e" stroke-width="8" d="M767 500h0"/><path stroke="#2eb40e" stroke-width="9" d="M779 409v2M701 508v1"/><path stroke="#31c00f" stroke-width="6" d="M754 527h0M765 436v2"/><path stroke="#31c00f" stroke-width="8" d="M711 437v1M754 529h0M725 428v1"/><path stroke="#35cc10" stroke-width="5" d="M654 461h0"/><path stroke="#35cc10" stroke-width="6" d="M790 531h0M656 448h0M794 547h0"/><path stroke="#35cc10" stroke-width="7" d="M652 462v1"/><path stroke="#35cc10" stroke-width="8" d="M792 529v2M715 523h0M796 546h0"/><path stroke="#35cc10" stroke-width="9" d="M654 437v2M797 430v1"/><path stroke="#38d811" stroke-width="6" d="M761 566h0M726 484h0M747 485h0M700 494v1"/><path stroke="#38d811" stroke-width="8" d="M762 563v2"/><path stroke="#38d811" stroke-width="9" d="M654 450h0"/><path stroke="#3be412" stroke-width="5" d="M772 530h0"/><path stroke="#3be412" stroke-width="6" d="M699 557h0"/><path stroke="#3be412" stroke-width="7" d="M774 529v1"/><path stroke="#3be412" stroke-width="9" d="M686 424h0M733 538v2M660 409v1"/><path stroke="#3ef013" stroke-width="8" d="M787 463v2"/><path stroke="#3ef013" stroke-width="9" d="M750 484v1"/><path stroke="#124805" stroke-width="3" d="M793 503h0"/><path stroke="#124805" stroke-width="4" d="M715 413h0"/><path stroke="#186007" stroke-width="3" d="M725 512h0"/><path stroke="#1f7809" stroke-width="3" d="M708 542h0"/><path stroke="#22840a" stroke-width="3" d="M701 524h0"/><path stroke="#22840a" stroke-width="4" d="M784 487h0"/><path stroke="#2ba80d" stroke-width="4" d="M807 417h0"/><path stroke="#2eb40e" stroke-width="3" d="M790 440h0M713 461h0"/><path stroke="#2eb40e" stroke-width="4" d="M776 437h0M800 562h0"/><path stroke="#31c00f" stroke-width="3" d="M746 471h0"/><path stroke="#31c00f" stroke-width="4" d="M674 458h0"/><path stroke="#35cc10" stroke-width="3" d="M657 541h0"/><path stroke="#35cc10" stroke-width="4" d="M759 514h0"/><path stroke="#38d811" stroke-width="3" d="M736 412h0M713 423h0"/><path stroke="#3be412" stroke-width="3" d="M665 551h0"/><path stroke="#3ef013" stroke-width="4" d="M767 500h0"/><path stroke="#41fc14" stroke-width="3" d="M765 436h0M774 530h0M701 494h0"/><path stroke="#41fc14" stroke-width="4" d="M712 438h0M761 563h0M754 529h0M687 424h0M653 450h0M660 409h0M716 523h0M796 545h0"/></g></g><line x1="385.6" y1="278.2" x2="401" y2="278.2" stroke="#e8e8e0" stroke-width="1"/><text x="393.5" y="276" font-family='"Liberation Sans", sans-serif' font-size="3.6" fill="#e8e8e0" text-anchor="middle">50 μm</text><text x="0.3" y="10.7" font-family='"Liberation Sans", sans-serif' font-size="15" font-weight="bold" text-anchor="start" fill="#000" >A</text><text x="428.8" y="10.7" font-family='"Liberation Sans", sans-serif' font-size="14.5" font-weight="bold" text-anchor="start" fill="#000" >B</text><line x1="18.5" y1="18.7" x2="398.2" y2="18.7" stroke="#221c1c" stroke-width="1.5"/><text x="210.7" y="10.9" font-family='"Liberation Sans", sans-serif' font-size="9.1" font-weight="normal" text-anchor="middle" fill="#222" >10 dpi</text><text x="51.2" y="36" font-family='"Liberation Sans", sans-serif' font-size="9.15" font-weight="normal" text-anchor="middle" fill="#222" >Normal Light</text><text x="130.8" y="32.8" font-family='"Liberation Sans", sans-serif' font-size="9.15" font-weight="normal" text-anchor="middle" fill="#222" >40 Hz Pre Flicker</text><text x="130.8" y="42.9" font-family='"Liberation Sans", sans-serif' font-size="9.15" font-weight="normal" text-anchor="middle" fill="#222" >(12 h)</text><text x="208.8" y="32.8" font-family='"Liberation Sans", sans-serif' font-size="9.15" font-weight="normal" text-anchor="middle" fill="#222" >40 Hz Pre Flicker</text><text x="208.8" y="42.9" font-family='"Liberation Sans", sans-serif' font-size="9.15" font-weight="normal" text-anchor="middle" fill="#222" >(24 h)</text><text x="286.8" y="32.8" font-family='"Liberation Sans", sans-serif' font-size="9.15" font-weight="normal" text-anchor="middle" fill="#222" >40 Hz Pre Flicker</text><text x="286.8" y="42.9" font-family='"Liberation Sans", sans-serif' font-size="9.15" font-weight="normal" text-anchor="middle" fill="#222" >(48 h)</text><text x="364.8" y="32.8" font-family='"Liberation Sans", sans-serif' font-size="9.15" font-weight="normal" text-anchor="middle" fill="#222" >40 Hz Pre Flicker</text><text x="364.8" y="42.9" font-family='"Liberation Sans", sans-serif' font-size="9.15" font-weight="normal" text-anchor="middle" fill="#222" >(72 h)</text><text x="8.2" y="87.2" font-family='"Liberation Sans", sans-serif' font-size="9.15" font-weight="normal" text-anchor="middle" fill="#222" transform="rotate(-90 8.2 87.2)">Central</text><text x="8.2" y="163.6" font-family='"Liberation Sans", sans-serif' font-size="9.15" font-weight="normal" text-anchor="middle" fill="#222" transform="rotate(-90 8.2 163.6)">Middle</text><text x="8.2" y="244.3" font-family='"Liberation Sans", sans-serif' font-size="9.15" font-weight="normal" text-anchor="middle" fill="#222" transform="rotate(-90 8.2 244.3)">Peripheral</text><line x1="463.2" y1="67" x2="463.2" y2="238.6" stroke="#555" stroke-width="1"/><line x1="462.7" y1="238.3" x2="684" y2="238.3" stroke="#555" stroke-width="1"/><line x1="461.2" y1="67.3" x2="463.2" y2="67.3" stroke="#555" stroke-width="1"/><text x="460.4" y="71.60000000000001" font-family='"Liberation Sans", sans-serif' font-size="11.9" font-weight="normal" text-anchor="end" fill="#3a3a3a" >15.00</text><line x1="461.2" y1="109.8" x2="463.2" y2="109.8" stroke="#555" stroke-width="1"/><text x="460.4" y="114.10000000000001" font-family='"Liberation Sans", sans-serif' font-size="11.9" font-weight="normal" text-anchor="end" fill="#3a3a3a" >7.50</text><line x1="461.2" y1="152.3" x2="463.2" y2="152.3" stroke="#555" stroke-width="1"/><text x="460.4" y="156.60000000000002" font-family='"Liberation Sans", sans-serif' font-size="11.9" font-weight="normal" text-anchor="end" fill="#3a3a3a" >0.00</text><line x1="461.2" y1="194.8" x2="463.2" y2="194.8" stroke="#555" stroke-width="1"/><text x="460.4" y="199.10000000000002" font-family='"Liberation Sans", sans-serif' font-size="11.9" font-weight="normal" text-anchor="end" fill="#3a3a3a" >-7.50</text><line x1="461.2" y1="237.3" x2="463.2" y2="237.3" stroke="#555" stroke-width="1"/><text x="460.4" y="241.60000000000002" font-family='"Liberation Sans", sans-serif' font-size="11.9" font-weight="normal" text-anchor="end" fill="#3a3a3a" >-15.00</text><line x1="463.2" y1="238.3" x2="463.2" y2="240.3" stroke="#555" stroke-width="1"/><text x="463.2" y="251.6" font-family='"Liberation Sans", sans-serif' font-size="11.9" font-weight="normal" text-anchor="middle" fill="#3a3a3a" >0</text><line x1="524.8" y1="238.3" x2="524.8" y2="240.3" stroke="#555" stroke-width="1"/><text x="524.8" y="251.6" font-family='"Liberation Sans", sans-serif' font-size="11.9" font-weight="normal" text-anchor="middle" fill="#3a3a3a" >25</text><line x1="586.4" y1="238.3" x2="586.4" y2="240.3" stroke="#555" stroke-width="1"/><text x="586.4" y="251.6" font-family='"Liberation Sans", sans-serif' font-size="11.9" font-weight="normal" text-anchor="middle" fill="#3a3a3a" >50</text><line x1="648.0" y1="238.3" x2="648.0" y2="240.3" stroke="#555" stroke-width="1"/><text x="648.0" y="251.6" font-family='"Liberation Sans", sans-serif' font-size="11.9" font-weight="normal" text-anchor="middle" fill="#3a3a3a" >75</text><text x="587.7" y="268.2" font-family='"Liberation Sans", sans-serif' font-size="12.2" font-weight="bold" text-anchor="middle" fill="#333" >Time (ms)</text><text x="421.8" y="151.9" font-family='"Liberation Sans", sans-serif' font-size="12.15" font-weight="bold" text-anchor="middle" fill="#333" transform="rotate(-90 421.8 151.9)">Amplitude (uV)</text><rect x="576.8" y="13.8" width="5" height="5" fill="#4aa3d9" stroke="#777" stroke-width="0.4"/><text x="583.8" y="19.5" font-family='"Liberation Sans", sans-serif' font-size="8.7" font-weight="bold" text-anchor="start" fill="#333" >Normal Light</text><rect x="576.8" y="26.9" width="5" height="5" fill="#8cc84b" stroke="#777" stroke-width="0.4"/><text x="583.8" y="32.6" font-family='"Liberation Sans", sans-serif' font-size="8.7" font-weight="bold" text-anchor="start" fill="#333" >40 Hz Pre Flicker (12 h)</text><rect x="576.8" y="40.0" width="5" height="5" fill="#e9a23b" stroke="#777" stroke-width="0.4"/><text x="583.8" y="45.699999999999996" font-family='"Liberation Sans", sans-serif' font-size="8.7" font-weight="bold" text-anchor="start" fill="#333" >40 Hz Pre Flicker (24 h)</text><rect x="576.8" y="53.1" width="5" height="5" fill="#5553a8" stroke="#777" stroke-width="0.4"/><text x="583.8" y="58.8" font-family='"Liberation Sans", sans-serif' font-size="8.7" font-weight="bold" text-anchor="start" fill="#333" >40 Hz Pre Flicker (48 h)</text><rect x="576.8" y="66.2" width="5" height="5" fill="#c4533a" stroke="#777" stroke-width="0.4"/><text x="583.8" y="71.89999999999999" font-family='"Liberation Sans", sans-serif' font-size="8.7" font-weight="bold" text-anchor="start" fill="#333" >40 Hz Pre Flicker (72 h)</text><path d="M463.4,160.2 C465.6,160.3 472.6,160.9 476.8,161.1 C481.0,161.2 484.9,161.4 488.5,161.1 C492.1,160.8 495.0,159.8 498.6,159.4 C502.2,159.0 507.3,158.5 510.4,158.5 C513.5,158.5 514.9,159.5 517.1,159.4 C519.3,159.3 520.7,157.8 523.8,157.7 C526.9,157.5 531.0,158.6 535.5,158.5 C540.0,158.4 546.4,157.7 550.6,156.9 C554.8,156.1 557.5,155.1 560.7,153.5 C563.9,151.9 567.5,148.1 570.0,147.5 C572.5,146.9 574.3,148.7 576.0,150.0 C577.7,151.3 578.3,151.9 580.0,155.1 C581.7,158.2 584.2,164.3 586.3,168.9 C588.4,173.5 590.5,178.5 592.6,182.7 C594.7,186.9 596.8,190.8 598.9,194.0 C601.0,197.2 603.4,200.3 605.2,202.2 C607.0,204.1 608.1,205.1 609.6,205.3 C611.1,205.5 612.2,204.9 614.0,203.4 C615.8,201.9 618.2,199.3 620.3,196.5 C622.4,193.7 624.4,190.3 626.5,186.5 C628.6,182.7 630.7,177.8 632.8,173.9 C634.9,170.0 636.7,166.0 639.1,163.2 C641.5,160.4 644.2,159.1 647.2,156.9 C650.2,154.7 653.9,152.1 657.3,150.1 C660.7,148.1 662.9,146.6 667.4,145.1 C671.9,143.6 681.4,141.6 684.2,140.9" fill="none" stroke="#8cc84b" stroke-width="1.1" clip-path="url(#clipB)"/><path d="M463.4,154.3 C464.5,154.7 466.6,156.4 470.0,156.5 C473.4,156.6 479.0,154.9 483.5,154.8 C488.0,154.7 492.7,156.1 496.9,156.0 C501.1,155.9 504.8,154.0 508.7,154.3 C512.6,154.6 516.5,157.0 520.4,157.7 C524.3,158.4 528.3,158.0 532.2,158.5 C536.1,159.0 539.7,161.0 543.9,160.6 C548.1,160.2 554.0,156.9 557.4,156.0 C560.8,155.1 562.0,154.8 564.1,155.2 C566.2,155.6 568.2,156.5 570.0,158.5 C571.8,160.5 573.3,164.1 575.0,167.0 C576.7,169.9 578.1,172.6 580.0,175.8 C581.9,179.1 584.2,183.7 586.3,186.5 C588.4,189.3 590.9,191.6 592.6,192.8 C594.3,194.1 595.0,193.9 596.3,194.0 C597.5,194.1 598.6,194.7 600.1,193.4 C601.6,192.2 603.3,189.1 605.2,186.5 C607.1,183.9 609.3,180.4 611.4,177.7 C613.5,175.0 615.6,172.6 617.7,170.2 C619.8,167.8 621.9,164.9 624.0,163.2 C626.1,161.5 628.2,160.9 630.3,160.1 C632.4,159.3 634.3,159.3 636.6,158.2 C638.9,157.1 641.6,154.8 643.9,153.5 C646.2,152.2 648.1,150.8 650.6,150.1 C653.1,149.4 656.2,150.0 659.0,149.3 C661.8,148.6 663.2,147.1 667.4,145.9 C671.6,144.7 681.4,142.7 684.2,142.1" fill="none" stroke="#e9a23b" stroke-width="1.1" clip-path="url(#clipB)"/><path d="M463.4,149.3 C464.2,149.2 466.2,148.7 468.4,148.8 C470.6,148.9 474.0,149.5 476.8,149.8 C479.6,150.1 481.9,150.7 485.2,150.5 C488.5,150.3 493.0,148.4 496.9,148.5 C500.8,148.6 505.3,151.2 508.7,151.0 C512.1,150.8 514.5,148.7 517.1,147.6 C519.8,146.5 522.4,144.6 524.6,144.3 C526.8,144.0 528.1,145.1 530.5,146.0 C532.9,146.9 536.1,148.9 538.9,149.6 C541.7,150.3 544.5,150.0 547.3,150.1 C550.1,150.2 552.9,150.3 555.7,150.1 C558.5,149.9 561.7,149.2 564.1,148.8 C566.5,148.4 567.6,148.0 570.0,147.6 C572.4,147.2 575.1,145.9 578.4,146.3 C581.7,146.7 586.4,148.6 590.0,150.1 C593.6,151.6 596.8,154.1 600.2,155.2 C603.6,156.3 606.9,155.2 610.3,156.9 C613.7,158.6 617.9,163.8 620.4,165.3 C622.9,166.8 623.2,166.5 625.4,166.1 C627.6,165.7 630.7,164.2 633.8,162.7 C636.9,161.2 639.7,159.8 643.9,156.9 C648.1,154.0 654.5,147.2 659.0,145.4 C663.5,143.6 666.5,146.5 670.7,146.0 C674.9,145.5 682.0,143.2 684.2,142.6" fill="none" stroke="#4aa3d9" stroke-width="1.1" clip-path="url(#clipB)"/><path d="M463.4,151.0 C465.6,152.5 472.3,160.4 476.8,160.2 C481.3,160.0 486.3,151.3 490.2,149.8 C494.1,148.3 496.1,150.4 500.3,151.0 C504.5,151.6 510.6,153.7 515.4,153.5 C520.1,153.3 525.4,150.7 528.8,150.1 C532.1,149.5 532.4,149.5 535.5,150.1 C538.6,150.7 543.1,152.9 547.3,153.5 C551.5,154.1 556.9,153.4 560.7,153.5 C564.5,153.6 567.0,152.6 570.0,154.3 C573.0,156.0 575.3,160.6 578.4,163.6 C581.5,166.6 585.1,172.0 588.5,172.3 C591.9,172.6 594.9,167.7 598.5,165.3 C602.1,162.9 606.9,159.2 610.3,157.7 C613.7,156.1 615.6,155.6 618.7,156.0 C621.8,156.4 625.2,161.0 628.8,160.2 C632.4,159.4 636.9,152.1 640.5,151.0 C644.1,149.9 647.2,154.2 650.6,153.5 C654.0,152.8 657.2,147.9 660.6,146.8 C664.0,145.7 667.3,145.6 670.7,146.8 C674.1,148.1 678.5,153.1 680.8,154.3 C683.0,155.6 683.6,154.3 684.2,154.3" fill="none" stroke="#5553a8" stroke-width="1.1" clip-path="url(#clipB)"/><path d="M463.4,151.8 C465.6,150.3 472.9,143.2 476.8,142.6 C480.7,142.0 483.1,146.1 486.9,148.1 C490.7,150.1 495.2,154.5 499.4,154.3 C503.6,154.1 508.9,147.9 512.0,146.8 C515.1,145.7 515.5,147.9 517.9,147.6 C520.3,147.3 523.4,144.7 526.3,145.1 C529.2,145.5 532.0,148.7 535.5,150.1 C539.0,151.5 543.4,152.9 547.3,153.5 C551.2,154.1 555.2,154.5 559.0,153.5 C562.8,152.5 566.5,147.3 570.0,147.6 C573.5,147.9 576.6,152.1 580.0,155.2 C583.4,158.3 586.5,162.8 590.1,166.1 C593.8,169.4 598.0,174.8 601.9,175.3 C605.8,175.9 610.0,171.6 613.6,169.4 C617.2,167.2 620.3,162.5 623.7,161.9 C627.1,161.3 630.7,166.2 633.8,166.1 C636.9,166.0 639.1,161.4 642.2,161.1 C645.3,160.8 649.5,165.0 652.3,164.4 C655.1,163.8 656.5,160.8 659.0,157.7 C661.5,154.6 664.9,148.1 667.4,145.9 C669.9,143.7 671.3,143.7 674.1,144.3 C676.9,144.9 682.5,148.5 684.2,149.3" fill="none" stroke="#c4533a" stroke-width="1.1" clip-path="url(#clipB)"/><defs><clipPath id="clipB"><rect x="463" y="60" width="222" height="180"/></clipPath></defs><line x1="42.8" y1="399.0" x2="42.8" y2="508.6" stroke="#111" stroke-width="1.3"/><line x1="42.199999999999996" y1="508.0" x2="151.8" y2="508.0" stroke="#111" stroke-width="1.3"/><line x1="39.099999999999994" y1="508.0" x2="42.8" y2="508.0" stroke="#111" stroke-width="1.2"/><text x="36.8" y="510.9" font-family='"Liberation Sans", sans-serif' font-size="8.2" font-weight="bold" text-anchor="end" fill="#111" >0</text><line x1="39.099999999999994" y1="486.3" x2="42.8" y2="486.3" stroke="#111" stroke-width="1.2"/><text x="36.8" y="489.21999999999997" font-family='"Liberation Sans", sans-serif' font-size="8.2" font-weight="bold" text-anchor="end" fill="#111" >1000</text><line x1="39.099999999999994" y1="464.6" x2="42.8" y2="464.6" stroke="#111" stroke-width="1.2"/><text x="36.8" y="467.53999999999996" font-family='"Liberation Sans", sans-serif' font-size="8.2" font-weight="bold" text-anchor="end" fill="#111" >2000</text><line x1="39.099999999999994" y1="443.0" x2="42.8" y2="443.0" stroke="#111" stroke-width="1.2"/><text x="36.8" y="445.85999999999996" font-family='"Liberation Sans", sans-serif' font-size="8.2" font-weight="bold" text-anchor="end" fill="#111" >3000</text><line x1="39.099999999999994" y1="421.3" x2="42.8" y2="421.3" stroke="#111" stroke-width="1.2"/><text x="36.8" y="424.17999999999995" font-family='"Liberation Sans", sans-serif' font-size="8.2" font-weight="bold" text-anchor="end" fill="#111" >4000</text><line x1="39.099999999999994" y1="399.6" x2="42.8" y2="399.6" stroke="#111" stroke-width="1.2"/><text x="36.8" y="402.5" font-family='"Liberation Sans", sans-serif' font-size="8.2" font-weight="bold" text-anchor="end" fill="#111" >5000</text><line x1="56.7" y1="508.0" x2="56.7" y2="512.5" stroke="#111" stroke-width="1.2"/><line x1="76.8" y1="508.0" x2="76.8" y2="512.5" stroke="#111" stroke-width="1.2"/><line x1="97.2" y1="508.0" x2="97.2" y2="512.5" stroke="#111" stroke-width="1.2"/><line x1="117.3" y1="508.0" x2="117.3" y2="512.5" stroke="#111" stroke-width="1.2"/><line x1="137.7" y1="508.0" x2="137.7" y2="512.5" stroke="#111" stroke-width="1.2"/><rect x="50.9" y="459.4" width="11.4" height="48.6" fill="#7a7a7a" stroke="#1e1e1e" stroke-width="1.6"/><rect x="71.1" y="433.0" width="11.5" height="75.0" fill="#9580c2" stroke="#322840" stroke-width="1.6"/><rect x="91.5" y="439.0" width="11.4" height="69.0" fill="#c28ed0" stroke="#3e2c44" stroke-width="1.6"/><rect x="111.7" y="451.3" width="11.4" height="56.7" fill="#e8a0b5" stroke="#4e2a38" stroke-width="1.6"/><rect x="132.2" y="445.7" width="11.5" height="62.3" fill="#f5c9ae" stroke="#6a5446" stroke-width="1.6"/><circle cx="56.7" cy="446.2" r="2.30" fill="#2e2e2e" fill-opacity="0.55"/><circle cx="56.7" cy="453.3" r="2.30" fill="#2e2e2e" fill-opacity="0.55"/><circle cx="52.0" cy="464.6" r="2.30" fill="#2e2e2e" fill-opacity="0.55"/><circle cx="56.7" cy="460.9" r="2.30" fill="#2e2e2e" fill-opacity="0.55"/><circle cx="61.0" cy="464.6" r="2.30" fill="#2e2e2e" fill-opacity="0.55"/><circle cx="61.0" cy="460.5" r="2.30" fill="#2e2e2e" fill-opacity="0.55"/><rect x="70.3" y="420.4" width="4.3" height="4.3" fill="#5a32a0" fill-opacity="0.6"/><rect x="74.6" y="419.4" width="4.3" height="4.3" fill="#5a32a0" fill-opacity="0.6"/><rect x="78.8" y="421.9" width="4.3" height="4.3" fill="#5a32a0" fill-opacity="0.6"/><rect x="71.8" y="424.9" width="4.3" height="4.3" fill="#5a32a0" fill-opacity="0.6"/><rect x="76.3" y="427.4" width="4.3" height="4.3" fill="#5a32a0" fill-opacity="0.6"/><rect x="79.8" y="427.9" width="4.3" height="4.3" fill="#5a32a0" fill-opacity="0.6"/><rect x="74.6" y="461.2" width="4.3" height="4.3" fill="#5a32a0" fill-opacity="0.6"/><path d="M92.5,420.1 L95.2,425.0 L89.8,425.0Z" fill="#9640b0" fill-opacity="0.62"/><path d="M101.9,421.4 L104.6,426.3 L99.2,426.3Z" fill="#9640b0" fill-opacity="0.62"/><path d="M97.2,431.8 L99.9,436.7 L94.5,436.7Z" fill="#9640b0" fill-opacity="0.62"/><path d="M92.5,443.1 L95.2,448.0 L89.8,448.0Z" fill="#9640b0" fill-opacity="0.62"/><path d="M101.9,444.0 L104.6,448.9 L99.2,448.9Z" fill="#9640b0" fill-opacity="0.62"/><path d="M97.2,452.1 L99.9,457.0 L94.5,457.0Z" fill="#9640b0" fill-opacity="0.62"/><path d="M117.3,426.8 L120.0,421.9 L114.6,421.9Z" fill="#e04678" fill-opacity="0.7"/><path d="M117.3,436.2 L120.0,431.3 L114.6,431.3Z" fill="#e04678" fill-opacity="0.7"/><path d="M113.2,455.1 L115.9,450.2 L110.5,450.2Z" fill="#e04678" fill-opacity="0.7"/><path d="M121.7,455.1 L124.4,450.2 L119.0,450.2Z" fill="#e04678" fill-opacity="0.7"/><path d="M113.2,465.5 L115.9,460.6 L110.5,460.6Z" fill="#e04678" fill-opacity="0.7"/><path d="M117.3,463.6 L120.0,458.7 L114.6,458.7Z" fill="#e04678" fill-opacity="0.7"/><path d="M121.7,465.5 L124.4,460.6 L119.0,460.6Z" fill="#e04678" fill-opacity="0.7"/><path d="M133.0,434.2 L135.7,436.9 L133.0,439.6 L130.3,436.9Z" fill="#f09664" fill-opacity="0.7"/><path d="M137.7,437.4 L140.4,440.1 L137.7,442.8 L135.0,440.1Z" fill="#f09664" fill-opacity="0.7"/><path d="M142.4,435.6 L145.1,438.3 L142.4,441.0 L139.7,438.3Z" fill="#f09664" fill-opacity="0.7"/><path d="M133.9,441.2 L136.6,443.9 L133.9,446.6 L131.2,443.9Z" fill="#f09664" fill-opacity="0.7"/><path d="M140.5,446.9 L143.2,449.6 L140.5,452.3 L137.8,449.6Z" fill="#f09664" fill-opacity="0.7"/><path d="M135.8,452.1 L138.5,454.8 L135.8,457.5 L133.1,454.8Z" fill="#f09664" fill-opacity="0.7"/><path d="M56.6,455.2 V462.0 M53.4,455.2 H59.8 M53.4,462.0 H59.8" stroke="#333" stroke-width="0.9" fill="none"/><path d="M76.8,428.8 V437.3 M73.6,428.8 H80.0 M73.6,437.3 H80.0" stroke="#333" stroke-width="0.9" fill="none"/><path d="M97.2,433.5 V442.4 M94.0,433.5 H100.4 M94.0,442.4 H100.4" stroke="#333" stroke-width="0.9" fill="none"/><path d="M117.4,444.5 V456.2 M114.2,444.5 H120.6 M114.2,456.2 H120.6" stroke="#333" stroke-width="0.9" fill="none"/><path d="M137.9,442.4 V446.2 M134.8,442.4 H141.1 M134.8,446.2 H141.1" stroke="#333" stroke-width="0.9" fill="none"/><line x1="49.9" y1="381.4" x2="97.2" y2="381.4" stroke="#111" stroke-width="1.3"/><path d="M73.90,372.20 L73.90,376.20 M72.17,373.20 L75.63,375.20 M75.63,373.20 L72.17,375.20 " stroke="#111" stroke-width="1.5" stroke-linecap="round" fill="none"/><line x1="52.6" y1="402.3" x2="74.8" y2="402.3" stroke="#111" stroke-width="1.3"/><path d="M60.80,392.90 L60.80,396.90 M59.07,393.90 L62.53,395.90 M62.53,393.90 L59.07,395.90 " stroke="#111" stroke-width="1.5" stroke-linecap="round" fill="none"/><path d="M67.20,392.90 L67.20,396.90 M65.47,393.90 L68.93,395.90 M68.93,393.90 L65.47,395.90 " stroke="#111" stroke-width="1.5" stroke-linecap="round" fill="none"/><text x="59.3" y="520.0" font-family='"Liberation Sans", sans-serif' font-size="8.45" font-weight="bold" text-anchor="end" fill="#111" transform="rotate(-45 59.3 520.0)">Normal Light</text><text x="79.4" y="520.0" font-family='"Liberation Sans", sans-serif' font-size="8.45" font-weight="bold" text-anchor="end" fill="#111" transform="rotate(-45 79.4 520.0)">40 Hz (12 h)</text><text x="99.8" y="520.0" font-family='"Liberation Sans", sans-serif' font-size="8.45" font-weight="bold" text-anchor="end" fill="#111" transform="rotate(-45 99.8 520.0)">40 Hz (24 h)</text><text x="119.9" y="520.0" font-family='"Liberation Sans", sans-serif' font-size="8.45" font-weight="bold" text-anchor="end" fill="#111" transform="rotate(-45 119.9 520.0)">40 Hz (48 h)</text><text x="140.3" y="520.0" font-family='"Liberation Sans", sans-serif' font-size="8.45" font-weight="bold" text-anchor="end" fill="#111" transform="rotate(-45 140.3 520.0)">40 Hz (72 h)</text><text x="6.2" y="326.5" font-family='"Liberation Sans", sans-serif' font-size="15" font-weight="bold" text-anchor="start" fill="#000" >C</text><text x="82.4" y="326.4" font-family='"Liberation Sans", sans-serif' font-size="10.7" font-weight="normal" text-anchor="middle" fill="#222" >Central</text><text x="13.9" y="497.6" font-family='"Liberation Sans", sans-serif' font-size="9.2" font-weight="bold" fill="#1a1a1a" transform="rotate(-90 13.9 497.6)" text-anchor="start"><tspan textLength="82" lengthAdjust="spacingAndGlyphs">RGC numbers per mm</tspan><tspan font-size="6.2" dx="0.3" dy="-3.6">2</tspan></text><line x1="214.5" y1="398.2" x2="214.5" y2="508.20000000000005" stroke="#111" stroke-width="1.3"/><line x1="213.9" y1="507.6" x2="323.6" y2="507.6" stroke="#111" stroke-width="1.3"/><line x1="210.8" y1="507.6" x2="214.5" y2="507.6" stroke="#111" stroke-width="1.2"/><text x="208.5" y="510.5" font-family='"Liberation Sans", sans-serif' font-size="8.2" font-weight="bold" text-anchor="end" fill="#111" >0</text><line x1="210.8" y1="480.4" x2="214.5" y2="480.4" stroke="#111" stroke-width="1.2"/><text x="208.5" y="483.3" font-family='"Liberation Sans", sans-serif' font-size="8.2" font-weight="bold" text-anchor="end" fill="#111" >1000</text><line x1="210.8" y1="453.2" x2="214.5" y2="453.2" stroke="#111" stroke-width="1.2"/><text x="208.5" y="456.1" font-family='"Liberation Sans", sans-serif' font-size="8.2" font-weight="bold" text-anchor="end" fill="#111" >2000</text><line x1="210.8" y1="426.0" x2="214.5" y2="426.0" stroke="#111" stroke-width="1.2"/><text x="208.5" y="428.9" font-family='"Liberation Sans", sans-serif' font-size="8.2" font-weight="bold" text-anchor="end" fill="#111" >3000</text><line x1="210.8" y1="398.8" x2="214.5" y2="398.8" stroke="#111" stroke-width="1.2"/><text x="208.5" y="401.7" font-family='"Liberation Sans", sans-serif' font-size="8.2" font-weight="bold" text-anchor="end" fill="#111" >4000</text><line x1="228.0" y1="507.6" x2="228.0" y2="512.1" stroke="#111" stroke-width="1.2"/><line x1="248.1" y1="507.6" x2="248.1" y2="512.1" stroke="#111" stroke-width="1.2"/><line x1="268.6" y1="507.6" x2="268.6" y2="512.1" stroke="#111" stroke-width="1.2"/><line x1="288.6" y1="507.6" x2="288.6" y2="512.1" stroke="#111" stroke-width="1.2"/><line x1="308.8" y1="507.6" x2="308.8" y2="512.1" stroke="#111" stroke-width="1.2"/><rect x="222.0" y="452.0" width="11.9" height="55.6" fill="#7a7a7a" stroke="#1e1e1e" stroke-width="1.6"/><rect x="242.4" y="422.0" width="11.8" height="85.6" fill="#9580c2" stroke="#322840" stroke-width="1.6"/><rect x="262.9" y="432.4" width="11.7" height="75.2" fill="#c28ed0" stroke="#3e2c44" stroke-width="1.6"/><rect x="282.7" y="444.9" width="12.0" height="62.7" fill="#e8a0b5" stroke="#4e2a38" stroke-width="1.6"/><rect x="303.4" y="443.1" width="11.7" height="64.5" fill="#f5c9ae" stroke="#6a5446" stroke-width="1.6"/><circle cx="228.0" cy="434.0" r="2.30" fill="#2e2e2e" fill-opacity="0.55"/><circle cx="223.3" cy="452.5" r="2.30" fill="#2e2e2e" fill-opacity="0.55"/><circle cx="228.0" cy="452.5" r="2.30" fill="#2e2e2e" fill-opacity="0.55"/><circle cx="233.0" cy="452.5" r="2.30" fill="#2e2e2e" fill-opacity="0.55"/><circle cx="228.0" cy="455.7" r="2.30" fill="#2e2e2e" fill-opacity="0.55"/><circle cx="228.0" cy="460.7" r="2.30" fill="#2e2e2e" fill-opacity="0.55"/><rect x="246.5" y="403.4" width="4.3" height="4.3" fill="#5a32a0" fill-opacity="0.6"/><rect x="241.7" y="413.2" width="4.3" height="4.3" fill="#5a32a0" fill-opacity="0.6"/><rect x="251.3" y="410.5" width="4.3" height="4.3" fill="#5a32a0" fill-opacity="0.6"/><rect x="251.3" y="414.9" width="4.3" height="4.3" fill="#5a32a0" fill-opacity="0.6"/><rect x="241.7" y="420.2" width="4.3" height="4.3" fill="#5a32a0" fill-opacity="0.6"/><rect x="250.7" y="422.4" width="4.3" height="4.3" fill="#5a32a0" fill-opacity="0.6"/><rect x="246.5" y="440.5" width="4.3" height="4.3" fill="#5a32a0" fill-opacity="0.6"/><path d="M263.8,416.0 L266.5,420.9 L261.1,420.9Z" fill="#9640b0" fill-opacity="0.62"/><path d="M273.5,414.2 L276.2,419.1 L270.8,419.1Z" fill="#9640b0" fill-opacity="0.62"/><path d="M263.8,426.1 L266.5,431.0 L261.1,431.0Z" fill="#9640b0" fill-opacity="0.62"/><path d="M273.5,425.6 L276.2,430.5 L270.8,430.5Z" fill="#9640b0" fill-opacity="0.62"/><path d="M263.8,441.2 L266.5,446.1 L261.1,446.1Z" fill="#9640b0" fill-opacity="0.62"/><path d="M273.5,440.1 L276.2,445.0 L270.8,445.0Z" fill="#9640b0" fill-opacity="0.62"/><path d="M289.0,417.5 L291.7,412.6 L286.3,412.6Z" fill="#e04678" fill-opacity="0.7"/><path d="M284.3,437.5 L287.0,432.6 L281.6,432.6Z" fill="#e04678" fill-opacity="0.7"/><path d="M293.8,441.2 L296.5,436.3 L291.1,436.3Z" fill="#e04678" fill-opacity="0.7"/><path d="M284.3,456.3 L287.0,451.4 L281.6,451.4Z" fill="#e04678" fill-opacity="0.7"/><path d="M293.8,458.4 L296.5,453.5 L291.1,453.5Z" fill="#e04678" fill-opacity="0.7"/><path d="M284.3,462.1 L287.0,457.2 L281.6,457.2Z" fill="#e04678" fill-opacity="0.7"/><path d="M308.4,435.8 L311.1,438.5 L308.4,441.2 L305.7,438.5Z" fill="#f09664" fill-opacity="0.7"/><path d="M313.8,436.4 L316.5,439.1 L313.8,441.8 L311.1,439.1Z" fill="#f09664" fill-opacity="0.7"/><path d="M303.7,441.2 L306.4,443.9 L303.7,446.6 L301.0,443.9Z" fill="#f09664" fill-opacity="0.7"/><path d="M310.6,443.7 L313.3,446.4 L310.6,449.1 L307.9,446.4Z" fill="#f09664" fill-opacity="0.7"/><path d="M305.0,436.3 L307.7,439.0 L305.0,441.7 L302.3,439.0Z" fill="#f09664" fill-opacity="0.7"/><path d="M227.9,447.7 V453.6 M224.8,447.7 H231.1 M224.8,453.6 H231.1" stroke="#333" stroke-width="0.9" fill="none"/><path d="M248.3,416.3 V425.5 M245.1,416.3 H251.5 M245.1,425.5 H251.5" stroke="#333" stroke-width="0.9" fill="none"/><path d="M268.8,427.0 V435.2 M265.6,427.0 H271.9 M265.6,435.2 H271.9" stroke="#333" stroke-width="0.9" fill="none"/><path d="M288.7,437.4 V449.2 M285.5,437.4 H291.9 M285.5,449.2 H291.9" stroke="#333" stroke-width="0.9" fill="none"/><path d="M309.2,441.1 V443.9 M306.1,441.1 H312.4 M306.1,443.9 H312.4" stroke="#333" stroke-width="0.9" fill="none"/><line x1="221.2" y1="371.4" x2="268.6" y2="371.4" stroke="#111" stroke-width="1.3"/><path d="M245.00,361.90 L245.00,365.90 M243.27,362.90 L246.73,364.90 M246.73,362.90 L243.27,364.90 " stroke="#111" stroke-width="1.5" stroke-linecap="round" fill="none"/><line x1="224.7" y1="391.5" x2="250.1" y2="391.5" stroke="#111" stroke-width="1.3"/><path d="M229.60,381.70 L229.60,385.70 M227.87,382.70 L231.33,384.70 M231.33,382.70 L227.87,384.70 " stroke="#111" stroke-width="1.5" stroke-linecap="round" fill="none"/><path d="M237.10,381.70 L237.10,385.70 M235.37,382.70 L238.83,384.70 M238.83,382.70 L235.37,384.70 " stroke="#111" stroke-width="1.5" stroke-linecap="round" fill="none"/><path d="M244.50,381.70 L244.50,385.70 M242.77,382.70 L246.23,384.70 M246.23,382.70 L242.77,384.70 " stroke="#111" stroke-width="1.5" stroke-linecap="round" fill="none"/><text x="230.6" y="519.6" font-family='"Liberation Sans", sans-serif' font-size="8.45" font-weight="bold" text-anchor="end" fill="#111" transform="rotate(-45 230.6 519.6)">Normal Light</text><text x="250.7" y="519.6" font-family='"Liberation Sans", sans-serif' font-size="8.45" font-weight="bold" text-anchor="end" fill="#111" transform="rotate(-45 250.7 519.6)">40 Hz (12 h)</text><text x="271.2" y="519.6" font-family='"Liberation Sans", sans-serif' font-size="8.45" font-weight="bold" text-anchor="end" fill="#111" transform="rotate(-45 271.2 519.6)">40 Hz (24 h)</text><text x="291.2" y="519.6" font-family='"Liberation Sans", sans-serif' font-size="8.45" font-weight="bold" text-anchor="end" fill="#111" transform="rotate(-45 291.2 519.6)">40 Hz (48 h)</text><text x="311.4" y="519.6" font-family='"Liberation Sans", sans-serif' font-size="8.45" font-weight="bold" text-anchor="end" fill="#111" transform="rotate(-45 311.4 519.6)">40 Hz (72 h)</text><text x="179.2" y="326.5" font-family='"Liberation Sans", sans-serif' font-size="15" font-weight="bold" text-anchor="start" fill="#000" >D</text><text x="250.9" y="326.4" font-family='"Liberation Sans", sans-serif' font-size="10.7" font-weight="normal" text-anchor="middle" fill="#222" >Middle</text><text x="185.4" y="496.6" font-family='"Liberation Sans", sans-serif' font-size="9.2" font-weight="bold" fill="#1a1a1a" transform="rotate(-90 185.4 496.6)" text-anchor="start"><tspan textLength="82" lengthAdjust="spacingAndGlyphs">RGC numbers per mm</tspan><tspan font-size="6.2" dx="0.3" dy="-3.6">2</tspan></text><line x1="388.5" y1="396.0" x2="388.5" y2="505.90000000000003" stroke="#111" stroke-width="1.3"/><line x1="387.9" y1="505.3" x2="497.9" y2="505.3" stroke="#111" stroke-width="1.3"/><line x1="384.8" y1="505.3" x2="388.5" y2="505.3" stroke="#111" stroke-width="1.2"/><text x="382.5" y="508.2" font-family='"Liberation Sans", sans-serif' font-size="8.2" font-weight="bold" text-anchor="end" fill="#111" >0</text><line x1="384.8" y1="478.2" x2="388.5" y2="478.2" stroke="#111" stroke-width="1.2"/><text x="382.5" y="481.09999999999997" font-family='"Liberation Sans", sans-serif' font-size="8.2" font-weight="bold" text-anchor="end" fill="#111" >1000</text><line x1="384.8" y1="451.1" x2="388.5" y2="451.1" stroke="#111" stroke-width="1.2"/><text x="382.5" y="454.0" font-family='"Liberation Sans", sans-serif' font-size="8.2" font-weight="bold" text-anchor="end" fill="#111" >2000</text><line x1="384.8" y1="424.0" x2="388.5" y2="424.0" stroke="#111" stroke-width="1.2"/><text x="382.5" y="426.9" font-family='"Liberation Sans", sans-serif' font-size="8.2" font-weight="bold" text-anchor="end" fill="#111" >3000</text><line x1="384.8" y1="396.9" x2="388.5" y2="396.9" stroke="#111" stroke-width="1.2"/><text x="382.5" y="399.79999999999995" font-family='"Liberation Sans", sans-serif' font-size="8.2" font-weight="bold" text-anchor="end" fill="#111" >4000</text><line x1="401.5" y1="505.3" x2="401.5" y2="509.8" stroke="#111" stroke-width="1.2"/><line x1="422.7" y1="505.3" x2="422.7" y2="509.8" stroke="#111" stroke-width="1.2"/><line x1="443.1" y1="505.3" x2="443.1" y2="509.8" stroke="#111" stroke-width="1.2"/><line x1="463.6" y1="505.3" x2="463.6" y2="509.8" stroke="#111" stroke-width="1.2"/><line x1="483.8" y1="505.3" x2="483.8" y2="509.8" stroke="#111" stroke-width="1.2"/><rect x="396.5" y="463.6" width="12.2" height="41.7" fill="#7a7a7a" stroke="#1e1e1e" stroke-width="1.6"/><rect x="417.0" y="443.6" width="12.2" height="61.7" fill="#9580c2" stroke="#322840" stroke-width="1.6"/><rect x="437.5" y="451.1" width="11.7" height="54.2" fill="#c28ed0" stroke="#3e2c44" stroke-width="1.6"/><rect x="457.9" y="457.2" width="11.8" height="48.1" fill="#e8a0b5" stroke="#4e2a38" stroke-width="1.6"/><rect x="478.2" y="459.3" width="11.9" height="46.0" fill="#f5c9ae" stroke="#6a5446" stroke-width="1.6"/><circle cx="397.2" cy="459.4" r="2.30" fill="#2e2e2e" fill-opacity="0.55"/><circle cx="402.2" cy="456.8" r="2.30" fill="#2e2e2e" fill-opacity="0.55"/><circle cx="407.6" cy="459.4" r="2.30" fill="#2e2e2e" fill-opacity="0.55"/><circle cx="397.2" cy="464.3" r="2.30" fill="#2e2e2e" fill-opacity="0.55"/><circle cx="402.2" cy="464.0" r="2.30" fill="#2e2e2e" fill-opacity="0.55"/><circle cx="407.6" cy="465.4" r="2.30" fill="#2e2e2e" fill-opacity="0.55"/><circle cx="397.2" cy="470.1" r="2.30" fill="#2e2e2e" fill-opacity="0.55"/><rect x="415.6" y="433.1" width="4.3" height="4.3" fill="#5a32a0" fill-opacity="0.6"/><rect x="420.6" y="433.6" width="4.3" height="4.3" fill="#5a32a0" fill-opacity="0.6"/><rect x="425.7" y="429.9" width="4.3" height="4.3" fill="#5a32a0" fill-opacity="0.6"/><rect x="425.7" y="434.9" width="4.3" height="4.3" fill="#5a32a0" fill-opacity="0.6"/><rect x="420.6" y="443.5" width="4.3" height="4.3" fill="#5a32a0" fill-opacity="0.6"/><rect x="420.6" y="450.4" width="4.3" height="4.3" fill="#5a32a0" fill-opacity="0.6"/><rect x="420.6" y="457.9" width="4.3" height="4.3" fill="#5a32a0" fill-opacity="0.6"/><path d="M443.1,434.3 L445.8,439.2 L440.4,439.2Z" fill="#9640b0" fill-opacity="0.62"/><path d="M438.2,445.5 L440.9,450.4 L435.5,450.4Z" fill="#9640b0" fill-opacity="0.62"/><path d="M447.9,445.5 L450.6,450.4 L445.2,450.4Z" fill="#9640b0" fill-opacity="0.62"/><path d="M443.1,449.3 L445.8,454.2 L440.4,454.2Z" fill="#9640b0" fill-opacity="0.62"/><path d="M440.3,456.2 L443.0,461.1 L437.6,461.1Z" fill="#9640b0" fill-opacity="0.62"/><path d="M445.7,455.8 L448.4,460.7 L443.0,460.7Z" fill="#9640b0" fill-opacity="0.62"/><path d="M464.0,442.7 L466.7,437.8 L461.3,437.8Z" fill="#e04678" fill-opacity="0.7"/><path d="M459.3,457.3 L462.0,452.4 L456.6,452.4Z" fill="#e04678" fill-opacity="0.7"/><path d="M468.8,457.3 L471.5,452.4 L466.1,452.4Z" fill="#e04678" fill-opacity="0.7"/><path d="M464.0,461.7 L466.7,456.8 L461.3,456.8Z" fill="#e04678" fill-opacity="0.7"/><path d="M464.0,470.3 L466.7,465.4 L461.3,465.4Z" fill="#e04678" fill-opacity="0.7"/><path d="M485.6,447.2 L488.3,449.9 L485.6,452.6 L482.9,449.9Z" fill="#f09664" fill-opacity="0.7"/><path d="M481.2,449.8 L483.9,452.5 L481.2,455.2 L478.5,452.5Z" fill="#f09664" fill-opacity="0.7"/><path d="M488.8,451.9 L491.5,454.6 L488.8,457.3 L486.1,454.6Z" fill="#f09664" fill-opacity="0.7"/><path d="M478.7,455.8 L481.4,458.5 L478.7,461.2 L476.0,458.5Z" fill="#f09664" fill-opacity="0.7"/><path d="M485.0,457.3 L487.7,460.0 L485.0,462.7 L482.3,460.0Z" fill="#f09664" fill-opacity="0.7"/><path d="M479.1,461.6 L481.8,464.3 L479.1,467.0 L476.4,464.3Z" fill="#f09664" fill-opacity="0.7"/><path d="M402.6,458.5 V466.0 M399.4,458.5 H405.8 M399.4,466.0 H405.8" stroke="#333" stroke-width="0.9" fill="none"/><path d="M423.1,439.1 V446.4 M419.9,439.1 H426.3 M419.9,446.4 H426.3" stroke="#333" stroke-width="0.9" fill="none"/><path d="M443.4,447.1 V453.6 M440.2,447.1 H446.6 M440.2,453.6 H446.6" stroke="#333" stroke-width="0.9" fill="none"/><path d="M463.8,452.9 V459.4 M460.6,452.9 H467.0 M460.6,459.4 H467.0" stroke="#333" stroke-width="0.9" fill="none"/><path d="M484.1,456.4 V460.7 M480.9,456.4 H487.3 M480.9,460.7 H487.3" stroke="#333" stroke-width="0.9" fill="none"/><line x1="399.4" y1="383.3" x2="444.5" y2="383.3" stroke="#111" stroke-width="1.3"/><path d="M422.00,374.30 L422.00,378.30 M420.27,375.30 L423.73,377.30 M423.73,375.30 L420.27,377.30 " stroke="#111" stroke-width="1.5" stroke-linecap="round" fill="none"/><line x1="400.1" y1="411.7" x2="423.4" y2="411.7" stroke="#111" stroke-width="1.3"/><path d="M404.20,401.80 L404.20,405.80 M402.47,402.80 L405.93,404.80 M405.93,402.80 L402.47,404.80 " stroke="#111" stroke-width="1.5" stroke-linecap="round" fill="none"/><path d="M411.20,401.80 L411.20,405.80 M409.47,402.80 L412.93,404.80 M412.93,402.80 L409.47,404.80 " stroke="#111" stroke-width="1.5" stroke-linecap="round" fill="none"/><path d="M417.70,401.80 L417.70,405.80 M415.97,402.80 L419.43,404.80 M419.43,402.80 L415.97,404.80 " stroke="#111" stroke-width="1.5" stroke-linecap="round" fill="none"/><text x="404.1" y="517.3" font-family='"Liberation Sans", sans-serif' font-size="8.45" font-weight="bold" text-anchor="end" fill="#111" transform="rotate(-45 404.1 517.3)">Normal Light</text><text x="425.3" y="517.3" font-family='"Liberation Sans", sans-serif' font-size="8.45" font-weight="bold" text-anchor="end" fill="#111" transform="rotate(-45 425.3 517.3)">40 Hz (12 h)</text><text x="445.7" y="517.3" font-family='"Liberation Sans", sans-serif' font-size="8.45" font-weight="bold" text-anchor="end" fill="#111" transform="rotate(-45 445.7 517.3)">40 Hz (24 h)</text><text x="466.2" y="517.3" font-family='"Liberation Sans", sans-serif' font-size="8.45" font-weight="bold" text-anchor="end" fill="#111" transform="rotate(-45 466.2 517.3)">40 Hz (48 h)</text><text x="486.4" y="517.3" font-family='"Liberation Sans", sans-serif' font-size="8.45" font-weight="bold" text-anchor="end" fill="#111" transform="rotate(-45 486.4 517.3)">40 Hz (72 h)</text><text x="356.2" y="326.5" font-family='"Liberation Sans", sans-serif' font-size="15" font-weight="bold" text-anchor="start" fill="#000" >E</text><text x="429.6" y="326.4" font-family='"Liberation Sans", sans-serif' font-size="10.7" font-weight="normal" text-anchor="middle" fill="#222" >Peripheral</text><text x="359.2" y="494.7" font-family='"Liberation Sans", sans-serif' font-size="9.2" font-weight="bold" fill="#1a1a1a" transform="rotate(-90 359.2 494.7)" text-anchor="start"><tspan textLength="82" lengthAdjust="spacingAndGlyphs">RGC numbers per mm</tspan><tspan font-size="6.2" dx="0.3" dy="-3.6">2</tspan></text><line x1="563.2" y1="394.2" x2="563.2" y2="504.8" stroke="#111" stroke-width="1.3"/><line x1="562.6" y1="504.2" x2="673" y2="504.2" stroke="#111" stroke-width="1.3"/><line x1="559.5" y1="504.2" x2="563.2" y2="504.2" stroke="#111" stroke-width="1.2"/><text x="557.2" y="507.09999999999997" font-family='"Liberation Sans", sans-serif' font-size="8.2" font-weight="bold" text-anchor="end" fill="#111" >0</text><line x1="559.5" y1="467.9" x2="563.2" y2="467.9" stroke="#111" stroke-width="1.2"/><text x="557.2" y="470.79999999999995" font-family='"Liberation Sans", sans-serif' font-size="8.2" font-weight="bold" text-anchor="end" fill="#111" >5</text><line x1="559.5" y1="431.6" x2="563.2" y2="431.6" stroke="#111" stroke-width="1.2"/><text x="557.2" y="434.5" font-family='"Liberation Sans", sans-serif' font-size="8.2" font-weight="bold" text-anchor="end" fill="#111" >10</text><line x1="559.5" y1="395.3" x2="563.2" y2="395.3" stroke="#111" stroke-width="1.2"/><text x="557.2" y="398.2" font-family='"Liberation Sans", sans-serif' font-size="8.2" font-weight="bold" text-anchor="end" fill="#111" >15</text><line x1="576.9" y1="504.2" x2="576.9" y2="508.7" stroke="#111" stroke-width="1.2"/><line x1="597.1" y1="504.2" x2="597.1" y2="508.7" stroke="#111" stroke-width="1.2"/><line x1="617.6" y1="504.2" x2="617.6" y2="508.7" stroke="#111" stroke-width="1.2"/><line x1="638.1" y1="504.2" x2="638.1" y2="508.7" stroke="#111" stroke-width="1.2"/><line x1="658.5" y1="504.2" x2="658.5" y2="508.7" stroke="#111" stroke-width="1.2"/><rect x="571.2" y="485.2" width="11.8" height="19.0" fill="#7a7a7a" stroke="#1e1e1e" stroke-width="1.6"/><rect x="591.5" y="445.1" width="11.5" height="59.1" fill="#9580c2" stroke="#322840" stroke-width="1.6"/><rect x="611.5" y="454.1" width="12.0" height="50.1" fill="#c28ed0" stroke="#3e2c44" stroke-width="1.6"/><rect x="632.0" y="477.0" width="11.7" height="27.2" fill="#e8a0b5" stroke="#4e2a38" stroke-width="1.6"/><rect x="652.4" y="473.7" width="11.8" height="30.5" fill="#f5c9ae" stroke="#6a5446" stroke-width="1.6"/><circle cx="571.9" cy="472.5" r="2.30" fill="#2e2e2e" fill-opacity="0.55"/><circle cx="576.9" cy="472.5" r="2.30" fill="#2e2e2e" fill-opacity="0.55"/><circle cx="581.6" cy="475.1" r="2.30" fill="#2e2e2e" fill-opacity="0.55"/><circle cx="576.9" cy="478.3" r="2.30" fill="#2e2e2e" fill-opacity="0.55"/><circle cx="571.9" cy="484.0" r="2.30" fill="#2e2e2e" fill-opacity="0.55"/><circle cx="576.9" cy="489.1" r="2.30" fill="#2e2e2e" fill-opacity="0.55"/><circle cx="571.9" cy="494.5" r="2.30" fill="#2e2e2e" fill-opacity="0.55"/><circle cx="579.5" cy="494.5" r="2.30" fill="#2e2e2e" fill-opacity="0.55"/><circle cx="571.9" cy="499.4" r="2.30" fill="#2e2e2e" fill-opacity="0.55"/><circle cx="579.5" cy="499.4" r="2.30" fill="#2e2e2e" fill-opacity="0.55"/><rect x="590.6" y="421.9" width="4.3" height="4.3" fill="#5a32a0" fill-opacity="0.6"/><rect x="600.0" y="418.1" width="4.3" height="4.3" fill="#5a32a0" fill-opacity="0.6"/><rect x="600.0" y="423.4" width="4.3" height="4.3" fill="#5a32a0" fill-opacity="0.6"/><rect x="590.6" y="442.8" width="4.3" height="4.3" fill="#5a32a0" fill-opacity="0.6"/><rect x="600.0" y="445.0" width="4.3" height="4.3" fill="#5a32a0" fill-opacity="0.6"/><rect x="595.1" y="452.1" width="4.3" height="4.3" fill="#5a32a0" fill-opacity="0.6"/><rect x="600.0" y="463.2" width="4.3" height="4.3" fill="#5a32a0" fill-opacity="0.6"/><rect x="590.6" y="467.6" width="4.3" height="4.3" fill="#5a32a0" fill-opacity="0.6"/><path d="M618.2,423.5 L620.9,428.4 L615.5,428.4Z" fill="#9640b0" fill-opacity="0.62"/><path d="M618.2,433.0 L620.9,437.9 L615.5,437.9Z" fill="#9640b0" fill-opacity="0.62"/><path d="M618.2,444.4 L620.9,449.3 L615.5,449.3Z" fill="#9640b0" fill-opacity="0.62"/><path d="M613.5,463.1 L616.2,468.0 L610.8,468.0Z" fill="#9640b0" fill-opacity="0.62"/><path d="M618.0,463.1 L620.7,468.0 L615.3,468.0Z" fill="#9640b0" fill-opacity="0.62"/><path d="M622.6,463.1 L625.3,468.0 L619.9,468.0Z" fill="#9640b0" fill-opacity="0.62"/><path d="M638.1,450.9 L640.8,446.0 L635.4,446.0Z" fill="#e04678" fill-opacity="0.7"/><path d="M638.1,460.6 L640.8,455.7 L635.4,455.7Z" fill="#e04678" fill-opacity="0.7"/><path d="M633.3,481.0 L636.0,476.1 L630.6,476.1Z" fill="#e04678" fill-opacity="0.7"/><path d="M638.1,491.8 L640.8,486.9 L635.4,486.9Z" fill="#e04678" fill-opacity="0.7"/><path d="M643.0,491.8 L645.7,486.9 L640.3,486.9Z" fill="#e04678" fill-opacity="0.7"/><path d="M633.3,491.8 L636.0,486.9 L630.6,486.9Z" fill="#e04678" fill-opacity="0.7"/><path d="M657.0,464.4 L659.7,467.1 L657.0,469.8 L654.3,467.1Z" fill="#f09664" fill-opacity="0.7"/><path d="M661.3,465.9 L664.0,468.6 L661.3,471.3 L658.6,468.6Z" fill="#f09664" fill-opacity="0.7"/><path d="M653.5,468.3 L656.2,471.0 L653.5,473.7 L650.8,471.0Z" fill="#f09664" fill-opacity="0.7"/><path d="M658.1,474.5 L660.8,477.2 L658.1,479.9 L655.4,477.2Z" fill="#f09664" fill-opacity="0.7"/><path d="M659.2,480.4 L661.9,483.1 L659.2,485.8 L656.5,483.1Z" fill="#f09664" fill-opacity="0.7"/><path d="M577.1,478.3 V490.5 M573.9,478.3 H580.3 M573.9,490.5 H580.3" stroke="#333" stroke-width="0.9" fill="none"/><path d="M597.2,437.0 V451.4 M594.0,437.0 H600.5 M594.0,451.4 H600.5" stroke="#333" stroke-width="0.9" fill="none"/><path d="M617.5,446.4 V459.4 M614.3,446.4 H620.7 M614.3,459.4 H620.7" stroke="#333" stroke-width="0.9" fill="none"/><path d="M637.9,469.7 V482.2 M634.6,469.7 H641.1 M634.6,482.2 H641.1" stroke="#333" stroke-width="0.9" fill="none"/><path d="M658.3,470.8 V474.4 M655.1,470.8 H661.5 M655.1,474.4 H661.5" stroke="#333" stroke-width="0.9" fill="none"/><line x1="571.1" y1="373.2" x2="614.2" y2="373.2" stroke="#111" stroke-width="1.3"/><path d="M588.90,363.50 L588.90,367.50 M587.17,364.50 L590.63,366.50 M590.63,364.50 L587.17,366.50 " stroke="#111" stroke-width="1.5" stroke-linecap="round" fill="none"/><path d="M595.50,363.50 L595.50,367.50 M593.77,364.50 L597.23,366.50 M597.23,364.50 L593.77,366.50 " stroke="#111" stroke-width="1.5" stroke-linecap="round" fill="none"/><line x1="574.3" y1="400.3" x2="599.9" y2="400.3" stroke="#111" stroke-width="1.3"/><path d="M576.40,390.60 L576.40,394.60 M574.67,391.60 L578.13,393.60 M578.13,391.60 L574.67,393.60 " stroke="#111" stroke-width="1.5" stroke-linecap="round" fill="none"/><path d="M583.00,390.60 L583.00,394.60 M581.27,391.60 L584.73,393.60 M584.73,391.60 L581.27,393.60 " stroke="#111" stroke-width="1.5" stroke-linecap="round" fill="none"/><path d="M589.40,390.60 L589.40,394.60 M587.67,391.60 L591.13,393.60 M591.13,391.60 L587.67,393.60 " stroke="#111" stroke-width="1.5" stroke-linecap="round" fill="none"/><path d="M595.80,390.60 L595.80,394.60 M594.07,391.60 L597.53,393.60 M597.53,391.60 L594.07,393.60 " stroke="#111" stroke-width="1.5" stroke-linecap="round" fill="none"/><text x="579.5" y="516.2" font-family='"Liberation Sans", sans-serif' font-size="8.45" font-weight="bold" text-anchor="end" fill="#111" transform="rotate(-45 579.5 516.2)">Normal Light</text><text x="599.7" y="516.2" font-family='"Liberation Sans", sans-serif' font-size="8.45" font-weight="bold" text-anchor="end" fill="#111" transform="rotate(-45 599.7 516.2)">40 Hz (12 h)</text><text x="620.2" y="516.2" font-family='"Liberation Sans", sans-serif' font-size="8.45" font-weight="bold" text-anchor="end" fill="#111" transform="rotate(-45 620.2 516.2)">40 Hz (24 h)</text><text x="640.7" y="516.2" font-family='"Liberation Sans", sans-serif' font-size="8.45" font-weight="bold" text-anchor="end" fill="#111" transform="rotate(-45 640.7 516.2)">40 Hz (48 h)</text><text x="661.1" y="516.2" font-family='"Liberation Sans", sans-serif' font-size="8.45" font-weight="bold" text-anchor="end" fill="#111" transform="rotate(-45 661.1 516.2)">40 Hz (72 h)</text><text x="537.6" y="328.4" font-family='"Liberation Sans", sans-serif' font-size="15" font-weight="bold" text-anchor="start" fill="#000" >F</text><text x="598.9" y="326.4" font-family='"Liberation Sans", sans-serif' font-size="10.7" font-weight="normal" text-anchor="middle" fill="#222" >VEP</text><text x="532.9" y="509.3" font-family='"Liberation Sans", sans-serif' font-size="9.0" font-weight="bold" fill="#222" stroke="#fff" stroke-width="0.12" paint-order="fill" transform="rotate(-90 532.9 509.3)" text-anchor="start" textLength="115.8" lengthAdjust="spacingAndGlyphs">Amplitude of N2-P2 wave(uV)</text></svg></body></html>
